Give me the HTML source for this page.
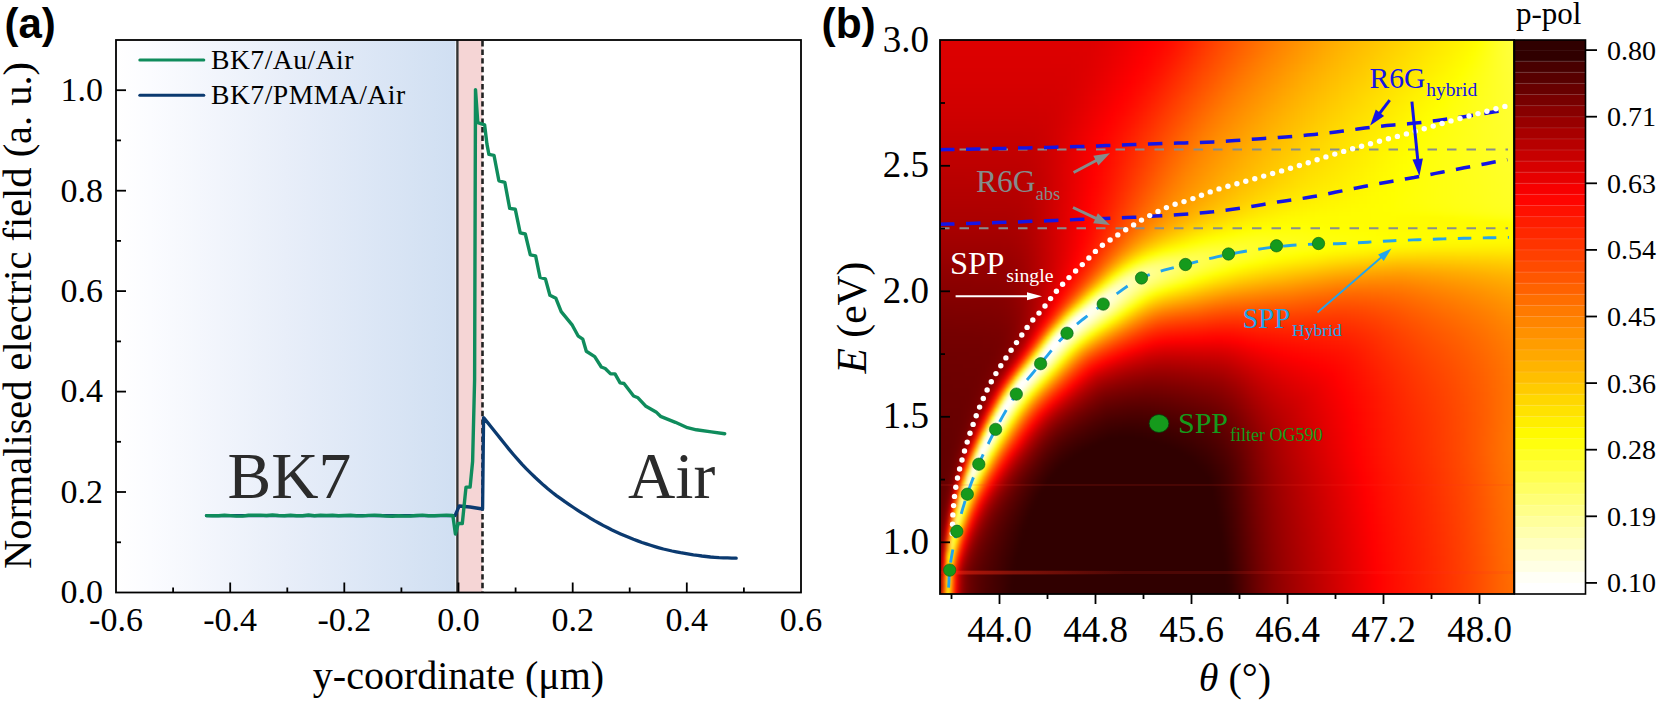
<!DOCTYPE html>
<html lang="en"><head><meta charset="utf-8"><title>Figure</title>
<style>
html,body{margin:0;padding:0;background:#fff}
body{width:1659px;height:703px;position:relative;overflow:hidden;font-family:"Liberation Serif", "DejaVu Serif", serif}
#hmc{position:absolute;left:940px;top:40px;width:574px;height:554px;overflow:hidden;background:#c00000}
#hm{position:absolute;left:-8px;top:-8px;width:590px;height:570px;filter:blur(1.7px)}
#hm i{position:absolute;left:0;width:100%;height:5px;display:block}
svg{position:absolute;left:0;top:0}
text{font-family:"Liberation Serif", "DejaVu Serif", serif}
.bold{font-family:"Liberation Sans", "DejaVu Sans", sans-serif;font-weight:700}
</style></head><body>
<div id="hmc"><div id="hm">
<i style="top:0px;background:linear-gradient(90deg,#de0000,#de0000,#de0000,#de0000,#de0000,#de0000,#de0000,#de0000,#de0000,#de0000,#de0000,#de0000,#de0000,#de0000,#de0000,#de0000,#de0000,#de0000,#de0000,#de0000,#de0000,#de0000,#de0000,#de0000,#de0000,#de0000,#de0000,#de0000,#de0000,#de0000,#de0000,#de0000,#de0000,#de0000,#de0000,#de0000,#de0000,#de0000,#de0000,#df0000,#df0000,#e00000,#e10000,#e20000,#e40000,#e60000,#e80000,#ea0000,#ed0000,#ef0000,#f20000,#f40000,#f70000,#f90000,#fc0000,#ff0000,#ff0200,#ff0400,#ff0700,#ff0a00,#ff0e00,#ff1200,#ff1600,#ff1b00,#ff2000,#ff2500,#ff2a00,#ff2f00,#ff3400,#ff3900,#ff3e00,#ff4200,#ff4700,#ff4b00,#ff4f00,#ff5300,#ff5700,#ff5b00,#ff5f00,#ff6300,#ff6700,#ff6b00,#ff6f00,#ff7300,#ff7700,#ff7b00,#ff7e00,#ff8200,#ff8500,#ff8900,#ff8c00,#ff8f00,#ff9200,#ff9500,#ff9800,#ff9b00,#ff9e00,#ffa100,#ffa400,#ffa700,#ffaa00,#ffad00,#ffb000,#ffb200,#ffb500,#ffb700,#ffba00,#ffbc00,#ffbe00,#ffc100,#ffc300,#ffc500,#ffc700,#ffca00,#ffcc00,#ffce00,#ffd000,#ffd300,#ffd500,#ffd700,#ffd900,#ffdb00,#ffde00,#ffe000,#ffe200,#ffe400,#ffe600,#ffe800,#ffea00,#ffec00,#ffef00,#fff100,#fff300,#fff500,#fff800,#fffa00,#fffe00,#ffff05,#ffff0e,#ffff17,#ffff20,#ffff28,#ffff2f,#ffff35,#ffff39,#ffff3c,#ffff3f,#ffff40)"></i>
<i style="top:4px;background:linear-gradient(90deg,#de0000,#de0000,#de0000,#de0000,#de0000,#de0000,#de0000,#de0000,#de0000,#de0000,#de0000,#de0000,#de0000,#de0000,#de0000,#de0000,#de0000,#de0000,#de0000,#de0000,#de0000,#de0000,#de0000,#de0000,#de0000,#de0000,#de0000,#de0000,#de0000,#de0000,#de0000,#de0000,#de0000,#de0000,#de0000,#de0000,#de0000,#de0000,#de0000,#df0000,#df0000,#e00000,#e10000,#e30000,#e40000,#e60000,#e90000,#eb0000,#ed0000,#f00000,#f20000,#f50000,#f70000,#fa0000,#fd0000,#ff0000,#ff0300,#ff0500,#ff0800,#ff0b00,#ff0f00,#ff1300,#ff1700,#ff1c00,#ff2100,#ff2600,#ff2b00,#ff3000,#ff3500,#ff3a00,#ff3f00,#ff4300,#ff4800,#ff4c00,#ff5000,#ff5400,#ff5800,#ff5c00,#ff6000,#ff6500,#ff6900,#ff6c00,#ff7000,#ff7400,#ff7800,#ff7c00,#ff7f00,#ff8300,#ff8600,#ff8900,#ff8d00,#ff9000,#ff9300,#ff9600,#ff9900,#ff9c00,#ff9f00,#ffa200,#ffa500,#ffa800,#ffab00,#ffae00,#ffb100,#ffb300,#ffb600,#ffb800,#ffba00,#ffbd00,#ffbf00,#ffc100,#ffc400,#ffc600,#ffc800,#ffca00,#ffcd00,#ffcf00,#ffd100,#ffd300,#ffd600,#ffd800,#ffda00,#ffdc00,#ffde00,#ffe000,#ffe200,#ffe500,#ffe700,#ffe900,#ffeb00,#ffed00,#ffef00,#fff100,#fff300,#fff600,#fff800,#fffb00,#fffe00,#ffff07,#ffff0f,#ffff18,#ffff20,#ffff28,#ffff2f,#ffff35,#ffff39,#ffff3c,#ffff3e,#ffff40)"></i>
<i style="top:8px;background:linear-gradient(90deg,#dd0000,#dd0000,#dd0000,#dd0000,#dd0000,#dd0000,#dd0000,#dd0000,#dd0000,#dd0000,#dd0000,#dd0000,#dd0000,#dd0000,#dd0000,#dd0000,#dd0000,#dd0000,#dd0000,#dd0000,#dd0000,#dd0000,#dd0000,#dd0000,#dd0000,#dd0000,#dd0000,#dd0000,#dd0000,#dd0000,#dd0000,#dd0000,#dd0000,#dd0000,#dd0000,#de0000,#de0000,#de0000,#de0000,#de0000,#df0000,#e00000,#e10000,#e30000,#e50000,#e70000,#e90000,#eb0000,#ee0000,#f00000,#f30000,#f50000,#f80000,#fb0000,#fd0000,#ff0100,#ff0300,#ff0600,#ff0900,#ff0c00,#ff1000,#ff1400,#ff1800,#ff1d00,#ff2200,#ff2700,#ff2c00,#ff3200,#ff3700,#ff3b00,#ff4000,#ff4500,#ff4900,#ff4d00,#ff5200,#ff5600,#ff5a00,#ff5e00,#ff6200,#ff6600,#ff6a00,#ff6e00,#ff7200,#ff7600,#ff7a00,#ff7d00,#ff8100,#ff8400,#ff8800,#ff8b00,#ff8e00,#ff9100,#ff9400,#ff9700,#ff9a00,#ff9d00,#ffa100,#ffa400,#ffa700,#ffa900,#ffac00,#ffaf00,#ffb200,#ffb400,#ffb700,#ffb900,#ffbb00,#ffbe00,#ffc000,#ffc200,#ffc400,#ffc700,#ffc900,#ffcb00,#ffce00,#ffd000,#ffd200,#ffd400,#ffd600,#ffd900,#ffdb00,#ffdd00,#ffdf00,#ffe100,#ffe300,#ffe500,#ffe800,#ffea00,#ffec00,#ffee00,#fff000,#fff200,#fff400,#fff700,#fff900,#fffc00,#ffff00,#ffff08,#ffff10,#ffff19,#ffff21,#ffff28,#ffff2f,#ffff35,#ffff39,#ffff3c,#ffff3e,#ffff3f)"></i>
<i style="top:12px;background:linear-gradient(90deg,#dd0000,#dd0000,#dd0000,#dd0000,#dd0000,#dd0000,#dd0000,#dd0000,#dd0000,#dd0000,#dd0000,#dd0000,#dd0000,#dd0000,#dd0000,#dd0000,#dd0000,#dd0000,#dd0000,#dd0000,#dd0000,#dd0000,#dd0000,#dd0000,#dd0000,#dd0000,#dd0000,#dd0000,#dd0000,#dd0000,#dd0000,#dd0000,#dd0000,#dd0000,#dd0000,#dd0000,#dd0000,#dd0000,#de0000,#de0000,#df0000,#e00000,#e20000,#e30000,#e50000,#e70000,#ea0000,#ec0000,#ef0000,#f10000,#f40000,#f60000,#f90000,#fc0000,#ff0000,#ff0200,#ff0400,#ff0700,#ff0a00,#ff0e00,#ff1100,#ff1600,#ff1a00,#ff1f00,#ff2400,#ff2900,#ff2e00,#ff3300,#ff3800,#ff3d00,#ff4200,#ff4600,#ff4b00,#ff4f00,#ff5300,#ff5700,#ff5c00,#ff6000,#ff6400,#ff6800,#ff6c00,#ff7000,#ff7400,#ff7800,#ff7b00,#ff7f00,#ff8200,#ff8600,#ff8900,#ff8c00,#ff9000,#ff9300,#ff9600,#ff9900,#ff9c00,#ff9f00,#ffa200,#ffa500,#ffa800,#ffab00,#ffae00,#ffb000,#ffb300,#ffb500,#ffb800,#ffba00,#ffbd00,#ffbf00,#ffc100,#ffc300,#ffc600,#ffc800,#ffca00,#ffcc00,#ffcf00,#ffd100,#ffd300,#ffd500,#ffd800,#ffda00,#ffdc00,#ffde00,#ffe000,#ffe200,#ffe400,#ffe600,#ffe900,#ffeb00,#ffed00,#ffef00,#fff100,#fff300,#fff500,#fff800,#fffa00,#fffd00,#ffff02,#ffff0a,#ffff12,#ffff1a,#ffff21,#ffff29,#ffff2f,#ffff34,#ffff39,#ffff3c,#ffff3e,#ffff3f)"></i>
<i style="top:16px;background:linear-gradient(90deg,#dc0000,#dc0000,#dc0000,#dc0000,#dc0000,#dc0000,#dc0000,#dc0000,#dc0000,#dc0000,#dc0000,#dc0000,#dc0000,#dc0000,#dc0000,#dc0000,#dc0000,#dc0000,#dc0000,#dc0000,#dc0000,#dc0000,#dc0000,#dc0000,#dc0000,#dc0000,#dc0000,#dc0000,#dc0000,#dc0000,#dc0000,#dc0000,#dc0000,#dc0000,#dd0000,#dd0000,#dd0000,#dd0000,#de0000,#de0000,#df0000,#e00000,#e20000,#e40000,#e60000,#e80000,#ea0000,#ed0000,#ef0000,#f20000,#f50000,#f70000,#fa0000,#fd0000,#ff0100,#ff0300,#ff0600,#ff0800,#ff0c00,#ff0f00,#ff1300,#ff1800,#ff1d00,#ff2100,#ff2700,#ff2c00,#ff3100,#ff3600,#ff3b00,#ff3f00,#ff4400,#ff4900,#ff4d00,#ff5100,#ff5500,#ff5a00,#ff5e00,#ff6200,#ff6600,#ff6a00,#ff6e00,#ff7200,#ff7600,#ff7a00,#ff7d00,#ff8100,#ff8400,#ff8800,#ff8b00,#ff8e00,#ff9100,#ff9500,#ff9800,#ff9b00,#ff9e00,#ffa100,#ffa400,#ffa700,#ffaa00,#ffad00,#ffaf00,#ffb200,#ffb400,#ffb700,#ffb900,#ffbc00,#ffbe00,#ffc000,#ffc300,#ffc500,#ffc700,#ffc900,#ffcc00,#ffce00,#ffd000,#ffd200,#ffd500,#ffd700,#ffd900,#ffdb00,#ffdd00,#ffdf00,#ffe100,#ffe400,#ffe600,#ffe800,#ffea00,#ffec00,#ffee00,#fff000,#fff200,#fff400,#fff700,#fff900,#fffb00,#fffe00,#ffff05,#ffff0c,#ffff14,#ffff1b,#ffff22,#ffff29,#ffff2f,#ffff34,#ffff38,#ffff3b,#ffff3d,#ffff3f)"></i>
<i style="top:20px;background:linear-gradient(90deg,#dc0000,#dc0000,#dc0000,#dc0000,#dc0000,#dc0000,#dc0000,#dc0000,#dc0000,#dc0000,#dc0000,#dc0000,#dc0000,#dc0000,#dc0000,#dc0000,#dc0000,#dc0000,#dc0000,#dc0000,#dc0000,#dc0000,#dc0000,#dc0000,#dc0000,#dc0000,#dc0000,#dc0000,#dc0000,#dc0000,#dc0000,#dc0000,#dc0000,#dc0000,#dc0000,#dc0000,#dc0000,#dd0000,#dd0000,#de0000,#df0000,#e10000,#e20000,#e40000,#e60000,#e90000,#eb0000,#ee0000,#f00000,#f30000,#f60000,#f90000,#fb0000,#fe0000,#ff0200,#ff0400,#ff0700,#ff0a00,#ff0e00,#ff1100,#ff1600,#ff1a00,#ff1f00,#ff2400,#ff2900,#ff2e00,#ff3300,#ff3800,#ff3d00,#ff4200,#ff4600,#ff4b00,#ff4f00,#ff5400,#ff5800,#ff5c00,#ff6000,#ff6400,#ff6800,#ff6c00,#ff7000,#ff7400,#ff7800,#ff7c00,#ff8000,#ff8300,#ff8700,#ff8a00,#ff8d00,#ff9000,#ff9400,#ff9700,#ff9a00,#ff9d00,#ffa000,#ffa300,#ffa600,#ffa900,#ffac00,#ffae00,#ffb100,#ffb400,#ffb600,#ffb900,#ffbb00,#ffbd00,#ffc000,#ffc200,#ffc400,#ffc600,#ffc900,#ffcb00,#ffcd00,#ffd000,#ffd200,#ffd400,#ffd600,#ffd800,#ffda00,#ffdd00,#ffdf00,#ffe100,#ffe300,#ffe500,#ffe700,#ffe900,#ffeb00,#ffed00,#ffef00,#fff100,#fff400,#fff600,#fff800,#fffa00,#fffd00,#ffff01,#ffff08,#ffff0f,#ffff15,#ffff1c,#ffff23,#ffff29,#ffff2f,#ffff34,#ffff38,#ffff3b,#ffff3d,#ffff3e)"></i>
<i style="top:24px;background:linear-gradient(90deg,#db0000,#db0000,#db0000,#db0000,#db0000,#db0000,#db0000,#db0000,#db0000,#db0000,#db0000,#db0000,#db0000,#db0000,#db0000,#db0000,#db0000,#db0000,#db0000,#db0000,#db0000,#db0000,#db0000,#db0000,#db0000,#db0000,#db0000,#db0000,#db0000,#db0000,#db0000,#db0000,#db0000,#db0000,#db0000,#dc0000,#dc0000,#dc0000,#dd0000,#de0000,#df0000,#e10000,#e30000,#e50000,#e70000,#ea0000,#ec0000,#ef0000,#f20000,#f40000,#f70000,#fa0000,#fd0000,#ff0100,#ff0300,#ff0600,#ff0900,#ff0c00,#ff1000,#ff1400,#ff1800,#ff1d00,#ff2200,#ff2700,#ff2c00,#ff3100,#ff3600,#ff3b00,#ff4000,#ff4400,#ff4900,#ff4d00,#ff5200,#ff5600,#ff5a00,#ff5f00,#ff6300,#ff6700,#ff6b00,#ff6f00,#ff7300,#ff7700,#ff7b00,#ff7f00,#ff8200,#ff8600,#ff8900,#ff8c00,#ff8f00,#ff9300,#ff9600,#ff9900,#ff9c00,#ff9f00,#ffa200,#ffa500,#ffa800,#ffab00,#ffae00,#ffb000,#ffb300,#ffb500,#ffb800,#ffba00,#ffbd00,#ffbf00,#ffc100,#ffc400,#ffc600,#ffc800,#ffca00,#ffcd00,#ffcf00,#ffd100,#ffd300,#ffd600,#ffd800,#ffda00,#ffdc00,#ffde00,#ffe000,#ffe200,#ffe400,#ffe700,#ffe900,#ffeb00,#ffed00,#ffef00,#fff100,#fff300,#fff500,#fff700,#fff900,#fffc00,#fffe00,#ffff04,#ffff0b,#ffff11,#ffff17,#ffff1d,#ffff23,#ffff29,#ffff2f,#ffff33,#ffff37,#ffff3a,#ffff3c,#ffff3e)"></i>
<i style="top:28px;background:linear-gradient(90deg,#da0000,#da0000,#da0000,#da0000,#da0000,#da0000,#da0000,#da0000,#da0000,#da0000,#da0000,#da0000,#da0000,#da0000,#da0000,#da0000,#da0000,#da0000,#da0000,#da0000,#da0000,#da0000,#da0000,#da0000,#da0000,#da0000,#da0000,#da0000,#da0000,#da0000,#db0000,#db0000,#db0000,#db0000,#db0000,#db0000,#dc0000,#dc0000,#dd0000,#de0000,#e00000,#e20000,#e40000,#e60000,#e80000,#eb0000,#ed0000,#f00000,#f30000,#f60000,#f80000,#fb0000,#fe0000,#ff0200,#ff0400,#ff0700,#ff0b00,#ff0e00,#ff1200,#ff1600,#ff1b00,#ff2000,#ff2500,#ff2a00,#ff2f00,#ff3400,#ff3900,#ff3e00,#ff4300,#ff4700,#ff4c00,#ff5000,#ff5500,#ff5900,#ff5d00,#ff6100,#ff6600,#ff6a00,#ff6e00,#ff7200,#ff7600,#ff7a00,#ff7e00,#ff8100,#ff8500,#ff8800,#ff8b00,#ff8f00,#ff9200,#ff9500,#ff9800,#ff9b00,#ff9e00,#ffa100,#ffa400,#ffa700,#ffaa00,#ffad00,#ffb000,#ffb200,#ffb500,#ffb700,#ffba00,#ffbc00,#ffbf00,#ffc100,#ffc300,#ffc500,#ffc800,#ffca00,#ffcc00,#ffcf00,#ffd100,#ffd300,#ffd500,#ffd700,#ffda00,#ffdc00,#ffde00,#ffe000,#ffe200,#ffe400,#ffe600,#ffe800,#ffea00,#ffec00,#ffee00,#fff000,#fff200,#fff400,#fff700,#fff900,#fffb00,#fffd00,#ffff01,#ffff07,#ffff0d,#ffff13,#ffff19,#ffff1e,#ffff24,#ffff29,#ffff2e,#ffff33,#ffff36,#ffff39,#ffff3c,#ffff3d)"></i>
<i style="top:32px;background:linear-gradient(90deg,#da0000,#da0000,#da0000,#da0000,#da0000,#da0000,#da0000,#da0000,#da0000,#da0000,#da0000,#da0000,#da0000,#da0000,#da0000,#da0000,#da0000,#da0000,#da0000,#da0000,#da0000,#da0000,#da0000,#da0000,#da0000,#da0000,#da0000,#da0000,#da0000,#da0000,#da0000,#da0000,#da0000,#da0000,#da0000,#db0000,#db0000,#dc0000,#dd0000,#de0000,#e00000,#e20000,#e40000,#e70000,#e90000,#ec0000,#ef0000,#f10000,#f40000,#f70000,#fa0000,#fd0000,#ff0100,#ff0300,#ff0600,#ff0900,#ff0d00,#ff1000,#ff1500,#ff1900,#ff1e00,#ff2300,#ff2800,#ff2d00,#ff3200,#ff3700,#ff3c00,#ff4100,#ff4500,#ff4a00,#ff4f00,#ff5300,#ff5700,#ff5c00,#ff6000,#ff6400,#ff6900,#ff6d00,#ff7100,#ff7500,#ff7900,#ff7d00,#ff8000,#ff8400,#ff8700,#ff8b00,#ff8e00,#ff9100,#ff9400,#ff9800,#ff9b00,#ff9e00,#ffa100,#ffa400,#ffa700,#ffaa00,#ffad00,#ffaf00,#ffb200,#ffb400,#ffb700,#ffb900,#ffbc00,#ffbe00,#ffc000,#ffc300,#ffc500,#ffc700,#ffca00,#ffcc00,#ffce00,#ffd000,#ffd300,#ffd500,#ffd700,#ffd900,#ffdb00,#ffdd00,#ffdf00,#ffe200,#ffe400,#ffe600,#ffe800,#ffea00,#ffec00,#ffee00,#fff000,#fff200,#fff400,#fff600,#fff800,#fffa00,#fffc00,#ffff00,#ffff05,#ffff0a,#ffff0f,#ffff15,#ffff1a,#ffff1f,#ffff24,#ffff29,#ffff2e,#ffff32,#ffff36,#ffff39,#ffff3b,#ffff3d)"></i>
<i style="top:36px;background:linear-gradient(90deg,#d90000,#d90000,#d90000,#d90000,#d90000,#d90000,#d90000,#d90000,#d90000,#d90000,#d90000,#d90000,#d90000,#d90000,#d90000,#d90000,#d90000,#d90000,#d90000,#d90000,#d90000,#d90000,#d90000,#d90000,#d90000,#d90000,#d90000,#d90000,#d90000,#d90000,#d90000,#d90000,#d90000,#d90000,#da0000,#da0000,#db0000,#dc0000,#dd0000,#df0000,#e10000,#e30000,#e50000,#e80000,#ea0000,#ed0000,#f00000,#f30000,#f60000,#f80000,#fb0000,#ff0000,#ff0200,#ff0500,#ff0800,#ff0b00,#ff0f00,#ff1300,#ff1700,#ff1c00,#ff2100,#ff2600,#ff2b00,#ff3000,#ff3500,#ff3a00,#ff3f00,#ff4400,#ff4800,#ff4d00,#ff5100,#ff5600,#ff5a00,#ff5f00,#ff6300,#ff6700,#ff6c00,#ff7000,#ff7400,#ff7800,#ff7c00,#ff7f00,#ff8300,#ff8700,#ff8a00,#ff8d00,#ff9100,#ff9400,#ff9700,#ff9a00,#ff9d00,#ffa000,#ffa300,#ffa600,#ffa900,#ffac00,#ffaf00,#ffb100,#ffb400,#ffb700,#ffb900,#ffbb00,#ffbe00,#ffc000,#ffc200,#ffc500,#ffc700,#ffc900,#ffcc00,#ffce00,#ffd000,#ffd200,#ffd500,#ffd700,#ffd900,#ffdb00,#ffdd00,#ffdf00,#ffe100,#ffe300,#ffe500,#ffe700,#ffe900,#ffeb00,#ffed00,#ffef00,#fff100,#fff300,#fff500,#fff800,#fffa00,#fffc00,#fffe00,#ffff02,#ffff08,#ffff0d,#ffff12,#ffff16,#ffff1b,#ffff20,#ffff25,#ffff29,#ffff2e,#ffff32,#ffff35,#ffff38,#ffff3a,#ffff3c)"></i>
<i style="top:40px;background:linear-gradient(90deg,#d80000,#d80000,#d80000,#d80000,#d80000,#d80000,#d80000,#d80000,#d80000,#d80000,#d80000,#d80000,#d80000,#d80000,#d80000,#d80000,#d80000,#d80000,#d80000,#d80000,#d80000,#d80000,#d80000,#d80000,#d80000,#d80000,#d80000,#d80000,#d80000,#d80000,#d80000,#d90000,#d90000,#d90000,#d90000,#da0000,#db0000,#dc0000,#de0000,#df0000,#e10000,#e40000,#e60000,#e90000,#ec0000,#ee0000,#f10000,#f40000,#f70000,#fa0000,#fd0000,#ff0100,#ff0400,#ff0700,#ff0a00,#ff0d00,#ff1100,#ff1500,#ff1a00,#ff1f00,#ff2400,#ff2900,#ff2e00,#ff3300,#ff3800,#ff3d00,#ff4200,#ff4700,#ff4b00,#ff5000,#ff5400,#ff5900,#ff5d00,#ff6200,#ff6600,#ff6a00,#ff6f00,#ff7300,#ff7700,#ff7b00,#ff7f00,#ff8200,#ff8600,#ff8900,#ff8d00,#ff9000,#ff9300,#ff9600,#ff9900,#ff9d00,#ffa000,#ffa300,#ffa600,#ffa900,#ffac00,#ffae00,#ffb100,#ffb400,#ffb600,#ffb900,#ffbb00,#ffbd00,#ffc000,#ffc200,#ffc400,#ffc700,#ffc900,#ffcb00,#ffcd00,#ffd000,#ffd200,#ffd400,#ffd600,#ffd800,#ffdb00,#ffdd00,#ffdf00,#ffe100,#ffe300,#ffe500,#ffe700,#ffe900,#ffeb00,#ffed00,#ffef00,#fff100,#fff300,#fff500,#fff700,#fff900,#fffb00,#fffd00,#ffff00,#ffff06,#ffff0a,#ffff0f,#ffff13,#ffff18,#ffff1c,#ffff21,#ffff25,#ffff29,#ffff2d,#ffff31,#ffff34,#ffff37,#ffff39,#ffff3b)"></i>
<i style="top:44px;background:linear-gradient(90deg,#d80000,#d80000,#d80000,#d80000,#d80000,#d80000,#d80000,#d80000,#d80000,#d80000,#d80000,#d80000,#d80000,#d80000,#d80000,#d80000,#d80000,#d80000,#d80000,#d80000,#d80000,#d80000,#d80000,#d80000,#d80000,#d80000,#d80000,#d80000,#d80000,#d80000,#d80000,#d80000,#d80000,#d80000,#d90000,#da0000,#db0000,#dc0000,#de0000,#e00000,#e20000,#e50000,#e70000,#ea0000,#ed0000,#f00000,#f30000,#f60000,#f90000,#fc0000,#ff0000,#ff0300,#ff0500,#ff0800,#ff0c00,#ff1000,#ff1400,#ff1800,#ff1d00,#ff2200,#ff2700,#ff2c00,#ff3100,#ff3600,#ff3b00,#ff4000,#ff4500,#ff4a00,#ff4e00,#ff5300,#ff5700,#ff5c00,#ff6000,#ff6500,#ff6900,#ff6e00,#ff7200,#ff7600,#ff7a00,#ff7e00,#ff8100,#ff8500,#ff8900,#ff8c00,#ff8f00,#ff9200,#ff9600,#ff9900,#ff9c00,#ff9f00,#ffa200,#ffa500,#ffa800,#ffab00,#ffae00,#ffb100,#ffb300,#ffb600,#ffb800,#ffbb00,#ffbd00,#ffbf00,#ffc200,#ffc400,#ffc600,#ffc900,#ffcb00,#ffcd00,#ffcf00,#ffd200,#ffd400,#ffd600,#ffd800,#ffda00,#ffdc00,#ffde00,#ffe000,#ffe300,#ffe500,#ffe700,#ffe900,#ffeb00,#ffed00,#ffef00,#fff100,#fff300,#fff500,#fff700,#fff900,#fffa00,#fffc00,#fffe00,#ffff04,#ffff08,#ffff0d,#ffff11,#ffff15,#ffff19,#ffff1d,#ffff21,#ffff25,#ffff29,#ffff2d,#ffff31,#ffff34,#ffff36,#ffff39,#ffff3a)"></i>
<i style="top:48px;background:linear-gradient(90deg,#d70000,#d70000,#d70000,#d70000,#d70000,#d70000,#d70000,#d70000,#d70000,#d70000,#d70000,#d70000,#d70000,#d70000,#d70000,#d70000,#d70000,#d70000,#d70000,#d70000,#d70000,#d70000,#d70000,#d70000,#d70000,#d70000,#d70000,#d70000,#d70000,#d70000,#d70000,#d70000,#d80000,#d80000,#d90000,#da0000,#db0000,#dd0000,#df0000,#e10000,#e30000,#e60000,#e90000,#eb0000,#ee0000,#f10000,#f40000,#f70000,#fa0000,#fd0000,#ff0100,#ff0400,#ff0700,#ff0a00,#ff0e00,#ff1200,#ff1600,#ff1b00,#ff2000,#ff2500,#ff2a00,#ff2f00,#ff3400,#ff3900,#ff3e00,#ff4300,#ff4800,#ff4d00,#ff5100,#ff5600,#ff5a00,#ff5f00,#ff6400,#ff6800,#ff6c00,#ff7100,#ff7500,#ff7900,#ff7d00,#ff8100,#ff8400,#ff8800,#ff8b00,#ff8f00,#ff9200,#ff9500,#ff9800,#ff9b00,#ff9f00,#ffa200,#ffa500,#ffa800,#ffab00,#ffad00,#ffb000,#ffb300,#ffb500,#ffb800,#ffba00,#ffbd00,#ffbf00,#ffc100,#ffc400,#ffc600,#ffc800,#ffcb00,#ffcd00,#ffcf00,#ffd100,#ffd400,#ffd600,#ffd800,#ffda00,#ffdc00,#ffde00,#ffe000,#ffe200,#ffe400,#ffe600,#ffe800,#ffea00,#ffec00,#ffee00,#fff000,#fff200,#fff400,#fff600,#fff800,#fffa00,#fffc00,#fffe00,#ffff02,#ffff06,#ffff0b,#ffff0f,#ffff13,#ffff17,#ffff1a,#ffff1e,#ffff22,#ffff26,#ffff29,#ffff2d,#ffff30,#ffff33,#ffff36,#ffff38,#ffff3a)"></i>
<i style="top:52px;background:linear-gradient(90deg,#d60000,#d60000,#d60000,#d60000,#d60000,#d60000,#d60000,#d60000,#d60000,#d60000,#d60000,#d60000,#d60000,#d60000,#d60000,#d60000,#d60000,#d60000,#d60000,#d60000,#d60000,#d60000,#d60000,#d60000,#d60000,#d60000,#d60000,#d60000,#d60000,#d60000,#d60000,#d70000,#d70000,#d80000,#d90000,#da0000,#db0000,#dd0000,#df0000,#e20000,#e40000,#e70000,#ea0000,#ed0000,#f00000,#f30000,#f60000,#f90000,#fc0000,#ff0000,#ff0300,#ff0600,#ff0900,#ff0d00,#ff1000,#ff1500,#ff1900,#ff1e00,#ff2300,#ff2800,#ff2d00,#ff3200,#ff3700,#ff3c00,#ff4100,#ff4600,#ff4b00,#ff5000,#ff5400,#ff5900,#ff5e00,#ff6200,#ff6700,#ff6b00,#ff6f00,#ff7400,#ff7800,#ff7c00,#ff8000,#ff8300,#ff8700,#ff8b00,#ff8e00,#ff9100,#ff9400,#ff9800,#ff9b00,#ff9e00,#ffa100,#ffa400,#ffa700,#ffaa00,#ffad00,#ffb000,#ffb200,#ffb500,#ffb700,#ffba00,#ffbc00,#ffbf00,#ffc100,#ffc300,#ffc600,#ffc800,#ffca00,#ffcd00,#ffcf00,#ffd100,#ffd300,#ffd500,#ffd800,#ffda00,#ffdc00,#ffde00,#ffe000,#ffe200,#ffe400,#ffe600,#ffe800,#ffea00,#ffec00,#ffee00,#fff000,#fff200,#fff400,#fff600,#fff800,#fff900,#fffb00,#fffd00,#ffff00,#ffff05,#ffff09,#ffff0d,#ffff11,#ffff14,#ffff18,#ffff1b,#ffff1f,#ffff22,#ffff26,#ffff29,#ffff2c,#ffff30,#ffff32,#ffff35,#ffff37,#ffff39)"></i>
<i style="top:56px;background:linear-gradient(90deg,#d50000,#d50000,#d50000,#d50000,#d50000,#d50000,#d50000,#d50000,#d50000,#d50000,#d50000,#d50000,#d50000,#d50000,#d50000,#d50000,#d50000,#d50000,#d50000,#d50000,#d50000,#d50000,#d50000,#d50000,#d50000,#d50000,#d50000,#d50000,#d50000,#d50000,#d60000,#d60000,#d70000,#d70000,#d80000,#da0000,#dc0000,#de0000,#e00000,#e30000,#e50000,#e80000,#eb0000,#ee0000,#f10000,#f40000,#f70000,#fa0000,#fe0000,#ff0200,#ff0500,#ff0800,#ff0b00,#ff0f00,#ff1300,#ff1700,#ff1c00,#ff2100,#ff2600,#ff2b00,#ff3000,#ff3500,#ff3a00,#ff3f00,#ff4400,#ff4900,#ff4e00,#ff5300,#ff5700,#ff5c00,#ff6100,#ff6500,#ff6a00,#ff6e00,#ff7300,#ff7700,#ff7b00,#ff7f00,#ff8300,#ff8600,#ff8a00,#ff8d00,#ff9100,#ff9400,#ff9700,#ff9a00,#ff9d00,#ffa100,#ffa400,#ffa700,#ffaa00,#ffac00,#ffaf00,#ffb200,#ffb400,#ffb700,#ffb900,#ffbc00,#ffbe00,#ffc100,#ffc300,#ffc500,#ffc800,#ffca00,#ffcc00,#ffce00,#ffd100,#ffd300,#ffd500,#ffd700,#ffd900,#ffdb00,#ffdd00,#ffe000,#ffe200,#ffe400,#ffe600,#ffe700,#ffe900,#ffeb00,#ffed00,#ffef00,#fff100,#fff300,#fff500,#fff700,#fff900,#fffb00,#fffd00,#fffe00,#ffff03,#ffff07,#ffff0b,#ffff0f,#ffff12,#ffff16,#ffff19,#ffff1c,#ffff20,#ffff23,#ffff26,#ffff29,#ffff2c,#ffff2f,#ffff32,#ffff34,#ffff36,#ffff38)"></i>
<i style="top:60px;background:linear-gradient(90deg,#d40000,#d40000,#d40000,#d40000,#d40000,#d40000,#d40000,#d40000,#d40000,#d40000,#d40000,#d40000,#d40000,#d40000,#d40000,#d40000,#d40000,#d40000,#d40000,#d40000,#d40000,#d40000,#d40000,#d40000,#d40000,#d40000,#d40000,#d40000,#d50000,#d50000,#d50000,#d50000,#d60000,#d70000,#d80000,#da0000,#dc0000,#de0000,#e10000,#e40000,#e60000,#e90000,#ec0000,#f00000,#f30000,#f60000,#f90000,#fc0000,#ff0100,#ff0300,#ff0600,#ff0a00,#ff0d00,#ff1100,#ff1600,#ff1a00,#ff1f00,#ff2400,#ff2900,#ff2e00,#ff3300,#ff3800,#ff3d00,#ff4200,#ff4700,#ff4c00,#ff5100,#ff5600,#ff5b00,#ff5f00,#ff6400,#ff6900,#ff6d00,#ff7200,#ff7600,#ff7a00,#ff7e00,#ff8200,#ff8600,#ff8900,#ff8d00,#ff9000,#ff9300,#ff9600,#ff9a00,#ff9d00,#ffa000,#ffa300,#ffa600,#ffa900,#ffac00,#ffaf00,#ffb100,#ffb400,#ffb700,#ffb900,#ffbc00,#ffbe00,#ffc000,#ffc300,#ffc500,#ffc700,#ffca00,#ffcc00,#ffce00,#ffd000,#ffd300,#ffd500,#ffd700,#ffd900,#ffdb00,#ffdd00,#ffdf00,#ffe100,#ffe300,#ffe500,#ffe700,#ffe900,#ffeb00,#ffed00,#ffef00,#fff100,#fff300,#fff500,#fff700,#fff900,#fffa00,#fffc00,#fffe00,#ffff02,#ffff06,#ffff09,#ffff0d,#ffff10,#ffff14,#ffff17,#ffff1a,#ffff1d,#ffff20,#ffff23,#ffff26,#ffff29,#ffff2c,#ffff2f,#ffff31,#ffff33,#ffff35,#ffff37)"></i>
<i style="top:64px;background:linear-gradient(90deg,#d30000,#d30000,#d30000,#d30000,#d30000,#d30000,#d30000,#d30000,#d30000,#d30000,#d30000,#d30000,#d30000,#d30000,#d30000,#d30000,#d30000,#d30000,#d30000,#d30000,#d30000,#d30000,#d30000,#d30000,#d30000,#d30000,#d30000,#d40000,#d40000,#d40000,#d40000,#d50000,#d60000,#d70000,#d90000,#da0000,#dd0000,#df0000,#e20000,#e50000,#e80000,#eb0000,#ee0000,#f10000,#f40000,#f70000,#fb0000,#fe0000,#ff0200,#ff0500,#ff0800,#ff0c00,#ff1000,#ff1400,#ff1800,#ff1d00,#ff2200,#ff2700,#ff2c00,#ff3100,#ff3600,#ff3b00,#ff4100,#ff4600,#ff4b00,#ff4f00,#ff5400,#ff5900,#ff5e00,#ff6300,#ff6700,#ff6c00,#ff7000,#ff7500,#ff7900,#ff7d00,#ff8100,#ff8500,#ff8800,#ff8c00,#ff8f00,#ff9300,#ff9600,#ff9900,#ff9c00,#ff9f00,#ffa200,#ffa600,#ffa900,#ffab00,#ffae00,#ffb100,#ffb400,#ffb600,#ffb900,#ffbb00,#ffbe00,#ffc000,#ffc200,#ffc500,#ffc700,#ffc900,#ffcc00,#ffce00,#ffd000,#ffd200,#ffd400,#ffd700,#ffd900,#ffdb00,#ffdd00,#ffdf00,#ffe100,#ffe300,#ffe500,#ffe700,#ffe900,#ffeb00,#ffed00,#ffef00,#fff100,#fff200,#fff400,#fff600,#fff800,#fffa00,#fffc00,#fffd00,#ffff00,#ffff04,#ffff08,#ffff0b,#ffff0f,#ffff12,#ffff15,#ffff18,#ffff1b,#ffff1e,#ffff21,#ffff23,#ffff26,#ffff29,#ffff2c,#ffff2e,#ffff31,#ffff33,#ffff35,#ffff36)"></i>
<i style="top:68px;background:linear-gradient(90deg,#d20000,#d20000,#d20000,#d20000,#d20000,#d20000,#d20000,#d20000,#d20000,#d20000,#d20000,#d20000,#d20000,#d20000,#d20000,#d20000,#d20000,#d20000,#d20000,#d20000,#d20000,#d20000,#d20000,#d20000,#d20000,#d20000,#d30000,#d30000,#d30000,#d30000,#d40000,#d40000,#d60000,#d70000,#d90000,#db0000,#dd0000,#e00000,#e30000,#e60000,#e90000,#ec0000,#ef0000,#f20000,#f60000,#f90000,#fd0000,#ff0100,#ff0400,#ff0700,#ff0a00,#ff0e00,#ff1200,#ff1700,#ff1b00,#ff2000,#ff2500,#ff2a00,#ff2f00,#ff3400,#ff3a00,#ff3f00,#ff4400,#ff4900,#ff4e00,#ff5300,#ff5800,#ff5c00,#ff6100,#ff6600,#ff6b00,#ff6f00,#ff7400,#ff7800,#ff7c00,#ff8000,#ff8400,#ff8800,#ff8b00,#ff8f00,#ff9200,#ff9500,#ff9800,#ff9c00,#ff9f00,#ffa200,#ffa500,#ffa800,#ffab00,#ffae00,#ffb100,#ffb300,#ffb600,#ffb800,#ffbb00,#ffbd00,#ffc000,#ffc200,#ffc400,#ffc700,#ffc900,#ffcb00,#ffce00,#ffd000,#ffd200,#ffd400,#ffd600,#ffd800,#ffdb00,#ffdd00,#ffdf00,#ffe100,#ffe300,#ffe500,#ffe600,#ffe800,#ffea00,#ffec00,#ffee00,#fff000,#fff200,#fff400,#fff600,#fff800,#fff900,#fffb00,#fffd00,#ffff00,#ffff03,#ffff07,#ffff0a,#ffff0d,#ffff10,#ffff13,#ffff16,#ffff19,#ffff1c,#ffff1e,#ffff21,#ffff24,#ffff26,#ffff29,#ffff2b,#ffff2e,#ffff30,#ffff32,#ffff34,#ffff35)"></i>
<i style="top:72px;background:linear-gradient(90deg,#d10000,#d10000,#d10000,#d10000,#d10000,#d10000,#d10000,#d10000,#d10000,#d10000,#d10000,#d10000,#d10000,#d10000,#d10000,#d10000,#d10000,#d10000,#d10000,#d10000,#d10000,#d10000,#d10000,#d10000,#d10000,#d10000,#d10000,#d20000,#d20000,#d20000,#d30000,#d40000,#d50000,#d70000,#d90000,#db0000,#de0000,#e10000,#e40000,#e70000,#ea0000,#ed0000,#f10000,#f40000,#f70000,#fb0000,#ff0000,#ff0200,#ff0600,#ff0900,#ff0c00,#ff1000,#ff1500,#ff1900,#ff1e00,#ff2300,#ff2800,#ff2d00,#ff3200,#ff3800,#ff3d00,#ff4200,#ff4700,#ff4c00,#ff5100,#ff5600,#ff5b00,#ff6000,#ff6500,#ff6900,#ff6e00,#ff7200,#ff7700,#ff7b00,#ff7f00,#ff8300,#ff8700,#ff8a00,#ff8e00,#ff9100,#ff9500,#ff9800,#ff9b00,#ff9e00,#ffa100,#ffa500,#ffa800,#ffaa00,#ffad00,#ffb000,#ffb300,#ffb500,#ffb800,#ffba00,#ffbd00,#ffbf00,#ffc200,#ffc400,#ffc600,#ffc900,#ffcb00,#ffcd00,#ffcf00,#ffd200,#ffd400,#ffd600,#ffd800,#ffda00,#ffdc00,#ffde00,#ffe000,#ffe200,#ffe400,#ffe600,#ffe800,#ffea00,#ffec00,#ffee00,#fff000,#fff200,#fff400,#fff500,#fff700,#fff900,#fffb00,#fffc00,#fffe00,#ffff02,#ffff05,#ffff09,#ffff0c,#ffff0f,#ffff11,#ffff14,#ffff17,#ffff1a,#ffff1c,#ffff1f,#ffff21,#ffff24,#ffff26,#ffff29,#ffff2b,#ffff2e,#ffff30,#ffff32,#ffff33,#ffff35)"></i>
<i style="top:76px;background:linear-gradient(90deg,#d00000,#d00000,#d00000,#d00000,#d00000,#d00000,#d00000,#d00000,#d00000,#d00000,#d00000,#d00000,#d00000,#d00000,#d00000,#d00000,#d00000,#d00000,#d00000,#d00000,#d00000,#d00000,#d00000,#d00000,#d00000,#d00000,#d00000,#d10000,#d10000,#d20000,#d20000,#d40000,#d50000,#d70000,#da0000,#dc0000,#df0000,#e20000,#e50000,#e80000,#ec0000,#ef0000,#f20000,#f60000,#f90000,#fd0000,#ff0100,#ff0400,#ff0700,#ff0b00,#ff0f00,#ff1300,#ff1700,#ff1c00,#ff2100,#ff2600,#ff2b00,#ff3000,#ff3600,#ff3b00,#ff4000,#ff4500,#ff4a00,#ff4f00,#ff5400,#ff5900,#ff5e00,#ff6300,#ff6800,#ff6d00,#ff7100,#ff7600,#ff7a00,#ff7e00,#ff8200,#ff8600,#ff8a00,#ff8d00,#ff9100,#ff9400,#ff9700,#ff9a00,#ff9e00,#ffa100,#ffa400,#ffa700,#ffaa00,#ffad00,#ffb000,#ffb200,#ffb500,#ffb800,#ffba00,#ffbd00,#ffbf00,#ffc100,#ffc400,#ffc600,#ffc800,#ffcb00,#ffcd00,#ffcf00,#ffd100,#ffd400,#ffd600,#ffd800,#ffda00,#ffdc00,#ffde00,#ffe000,#ffe200,#ffe400,#ffe600,#ffe800,#ffea00,#ffec00,#ffee00,#ffef00,#fff100,#fff300,#fff500,#fff700,#fff900,#fffa00,#fffc00,#fffe00,#ffff00,#ffff04,#ffff07,#ffff0a,#ffff0d,#ffff10,#ffff13,#ffff15,#ffff18,#ffff1a,#ffff1d,#ffff1f,#ffff22,#ffff24,#ffff26,#ffff29,#ffff2b,#ffff2d,#ffff2f,#ffff31,#ffff33,#ffff34)"></i>
<i style="top:80px;background:linear-gradient(90deg,#cf0000,#cf0000,#cf0000,#cf0000,#cf0000,#cf0000,#cf0000,#cf0000,#cf0000,#cf0000,#cf0000,#cf0000,#cf0000,#cf0000,#cf0000,#cf0000,#cf0000,#cf0000,#cf0000,#cf0000,#cf0000,#cf0000,#cf0000,#cf0000,#cf0000,#cf0000,#cf0000,#d00000,#d00000,#d10000,#d20000,#d30000,#d50000,#d80000,#da0000,#dd0000,#e00000,#e30000,#e60000,#ea0000,#ed0000,#f00000,#f40000,#f70000,#fb0000,#ff0000,#ff0300,#ff0600,#ff0900,#ff0d00,#ff1100,#ff1600,#ff1a00,#ff1f00,#ff2400,#ff2900,#ff2e00,#ff3300,#ff3900,#ff3e00,#ff4300,#ff4800,#ff4d00,#ff5200,#ff5800,#ff5d00,#ff6200,#ff6700,#ff6b00,#ff7000,#ff7500,#ff7900,#ff7d00,#ff8100,#ff8500,#ff8900,#ff8c00,#ff9000,#ff9300,#ff9700,#ff9a00,#ff9d00,#ffa000,#ffa300,#ffa700,#ffaa00,#ffac00,#ffaf00,#ffb200,#ffb500,#ffb700,#ffba00,#ffbc00,#ffbf00,#ffc100,#ffc300,#ffc600,#ffc800,#ffca00,#ffcd00,#ffcf00,#ffd100,#ffd300,#ffd600,#ffd800,#ffda00,#ffdc00,#ffde00,#ffe000,#ffe200,#ffe400,#ffe600,#ffe700,#ffe900,#ffeb00,#ffed00,#ffef00,#fff100,#fff300,#fff500,#fff600,#fff800,#fffa00,#fffc00,#fffd00,#ffff00,#ffff03,#ffff06,#ffff09,#ffff0c,#ffff0f,#ffff11,#ffff14,#ffff16,#ffff19,#ffff1b,#ffff1d,#ffff20,#ffff22,#ffff24,#ffff26,#ffff29,#ffff2b,#ffff2d,#ffff2f,#ffff31,#ffff32,#ffff33)"></i>
<i style="top:84px;background:linear-gradient(90deg,#ce0000,#ce0000,#ce0000,#ce0000,#ce0000,#ce0000,#ce0000,#ce0000,#ce0000,#ce0000,#ce0000,#ce0000,#ce0000,#ce0000,#ce0000,#ce0000,#ce0000,#ce0000,#ce0000,#ce0000,#ce0000,#ce0000,#ce0000,#ce0000,#ce0000,#ce0000,#ce0000,#cf0000,#cf0000,#d00000,#d20000,#d30000,#d50000,#d80000,#db0000,#de0000,#e10000,#e40000,#e80000,#eb0000,#ee0000,#f20000,#f60000,#f90000,#fd0000,#ff0100,#ff0500,#ff0800,#ff0c00,#ff1000,#ff1400,#ff1800,#ff1d00,#ff2200,#ff2700,#ff2c00,#ff3100,#ff3700,#ff3c00,#ff4100,#ff4600,#ff4c00,#ff5100,#ff5600,#ff5b00,#ff6000,#ff6500,#ff6a00,#ff6f00,#ff7300,#ff7800,#ff7c00,#ff8000,#ff8400,#ff8800,#ff8c00,#ff8f00,#ff9300,#ff9600,#ff9900,#ff9c00,#ffa000,#ffa300,#ffa600,#ffa900,#ffac00,#ffaf00,#ffb200,#ffb400,#ffb700,#ffb900,#ffbc00,#ffbe00,#ffc100,#ffc300,#ffc500,#ffc800,#ffca00,#ffcc00,#ffcf00,#ffd100,#ffd300,#ffd500,#ffd700,#ffd900,#ffdc00,#ffde00,#ffe000,#ffe100,#ffe300,#ffe500,#ffe700,#ffe900,#ffeb00,#ffed00,#ffef00,#fff100,#fff200,#fff400,#fff600,#fff800,#fffa00,#fffb00,#fffd00,#fffe00,#ffff02,#ffff05,#ffff08,#ffff0b,#ffff0d,#ffff10,#ffff12,#ffff15,#ffff17,#ffff19,#ffff1c,#ffff1e,#ffff20,#ffff22,#ffff24,#ffff27,#ffff29,#ffff2b,#ffff2d,#ffff2f,#ffff30,#ffff32,#ffff33)"></i>
<i style="top:88px;background:linear-gradient(90deg,#cc0000,#cc0000,#cc0000,#cc0000,#cc0000,#cc0000,#cc0000,#cc0000,#cc0000,#cc0000,#cc0000,#cc0000,#cc0000,#cc0000,#cc0000,#cc0000,#cc0000,#cc0000,#cc0000,#cc0000,#cc0000,#cc0000,#cc0000,#cc0000,#cd0000,#cd0000,#cd0000,#ce0000,#cf0000,#d00000,#d10000,#d30000,#d60000,#d80000,#db0000,#df0000,#e20000,#e50000,#e90000,#ec0000,#f00000,#f40000,#f70000,#fb0000,#ff0000,#ff0300,#ff0600,#ff0a00,#ff0e00,#ff1200,#ff1600,#ff1b00,#ff2000,#ff2500,#ff2a00,#ff2f00,#ff3500,#ff3a00,#ff3f00,#ff4400,#ff4a00,#ff4f00,#ff5400,#ff5900,#ff5e00,#ff6400,#ff6900,#ff6d00,#ff7200,#ff7700,#ff7b00,#ff7f00,#ff8300,#ff8700,#ff8b00,#ff8e00,#ff9200,#ff9500,#ff9900,#ff9c00,#ff9f00,#ffa200,#ffa500,#ffa900,#ffac00,#ffae00,#ffb100,#ffb400,#ffb700,#ffb900,#ffbc00,#ffbe00,#ffc000,#ffc300,#ffc500,#ffc700,#ffca00,#ffcc00,#ffce00,#ffd100,#ffd300,#ffd500,#ffd700,#ffd900,#ffdb00,#ffdd00,#ffdf00,#ffe100,#ffe300,#ffe500,#ffe700,#ffe900,#ffeb00,#ffec00,#ffee00,#fff000,#fff200,#fff400,#fff600,#fff700,#fff900,#fffb00,#fffc00,#fffe00,#ffff01,#ffff04,#ffff07,#ffff0a,#ffff0c,#ffff0f,#ffff11,#ffff13,#ffff16,#ffff18,#ffff1a,#ffff1c,#ffff1e,#ffff20,#ffff22,#ffff24,#ffff27,#ffff29,#ffff2b,#ffff2c,#ffff2e,#ffff30,#ffff31,#ffff32)"></i>
<i style="top:92px;background:linear-gradient(90deg,#cb0000,#cb0000,#cb0000,#cb0000,#cb0000,#cb0000,#cb0000,#cb0000,#cb0000,#cb0000,#cb0000,#cb0000,#cb0000,#cb0000,#cb0000,#cb0000,#cb0000,#cb0000,#cb0000,#cb0000,#cb0000,#cb0000,#cb0000,#cb0000,#cb0000,#cc0000,#cc0000,#cd0000,#ce0000,#cf0000,#d10000,#d30000,#d60000,#d90000,#dc0000,#e00000,#e30000,#e70000,#ea0000,#ee0000,#f10000,#f50000,#f90000,#fd0000,#ff0200,#ff0500,#ff0800,#ff0c00,#ff1000,#ff1400,#ff1900,#ff1e00,#ff2300,#ff2800,#ff2d00,#ff3200,#ff3800,#ff3d00,#ff4200,#ff4800,#ff4d00,#ff5200,#ff5700,#ff5d00,#ff6200,#ff6700,#ff6c00,#ff7100,#ff7600,#ff7a00,#ff7e00,#ff8200,#ff8600,#ff8a00,#ff8e00,#ff9100,#ff9500,#ff9800,#ff9b00,#ff9f00,#ffa200,#ffa500,#ffa800,#ffab00,#ffae00,#ffb100,#ffb300,#ffb600,#ffb900,#ffbb00,#ffbe00,#ffc000,#ffc200,#ffc500,#ffc700,#ffca00,#ffcc00,#ffce00,#ffd000,#ffd300,#ffd500,#ffd700,#ffd900,#ffdb00,#ffdd00,#ffdf00,#ffe100,#ffe300,#ffe500,#ffe700,#ffe800,#ffea00,#ffec00,#ffee00,#fff000,#fff200,#fff300,#fff500,#fff700,#fff900,#fffa00,#fffc00,#fffd00,#ffff00,#ffff03,#ffff06,#ffff09,#ffff0b,#ffff0e,#ffff10,#ffff12,#ffff14,#ffff16,#ffff18,#ffff1a,#ffff1c,#ffff1f,#ffff21,#ffff23,#ffff25,#ffff27,#ffff28,#ffff2a,#ffff2c,#ffff2e,#ffff2f,#ffff31,#ffff32)"></i>
<i style="top:96px;background:linear-gradient(90deg,#ca0000,#ca0000,#ca0000,#ca0000,#ca0000,#ca0000,#ca0000,#ca0000,#ca0000,#ca0000,#ca0000,#ca0000,#ca0000,#ca0000,#ca0000,#ca0000,#ca0000,#ca0000,#ca0000,#ca0000,#ca0000,#ca0000,#ca0000,#ca0000,#ca0000,#ca0000,#cb0000,#cc0000,#cd0000,#cf0000,#d10000,#d40000,#d70000,#da0000,#dd0000,#e10000,#e40000,#e80000,#ec0000,#ef0000,#f30000,#f70000,#fb0000,#ff0000,#ff0300,#ff0600,#ff0a00,#ff0e00,#ff1200,#ff1700,#ff1c00,#ff2100,#ff2600,#ff2b00,#ff3000,#ff3500,#ff3b00,#ff4000,#ff4500,#ff4b00,#ff5000,#ff5600,#ff5b00,#ff6000,#ff6500,#ff6a00,#ff6f00,#ff7400,#ff7900,#ff7d00,#ff8100,#ff8500,#ff8900,#ff8d00,#ff9000,#ff9400,#ff9700,#ff9b00,#ff9e00,#ffa100,#ffa400,#ffa700,#ffaa00,#ffad00,#ffb000,#ffb300,#ffb600,#ffb800,#ffbb00,#ffbd00,#ffc000,#ffc200,#ffc500,#ffc700,#ffc900,#ffcc00,#ffce00,#ffd000,#ffd200,#ffd500,#ffd700,#ffd900,#ffdb00,#ffdd00,#ffdf00,#ffe100,#ffe300,#ffe400,#ffe600,#ffe800,#ffea00,#ffec00,#ffee00,#ffef00,#fff100,#fff300,#fff500,#fff700,#fff800,#fffa00,#fffb00,#fffd00,#fffe00,#ffff02,#ffff05,#ffff08,#ffff0a,#ffff0c,#ffff0f,#ffff11,#ffff13,#ffff15,#ffff17,#ffff19,#ffff1b,#ffff1d,#ffff1f,#ffff21,#ffff23,#ffff25,#ffff26,#ffff28,#ffff2a,#ffff2c,#ffff2e,#ffff2f,#ffff30,#ffff31)"></i>
<i style="top:100px;background:linear-gradient(90deg,#c80000,#c80000,#c80000,#c80000,#c80000,#c80000,#c80000,#c80000,#c80000,#c80000,#c80000,#c80000,#c80000,#c80000,#c80000,#c80000,#c80000,#c80000,#c80000,#c80000,#c80000,#c80000,#c80000,#c90000,#c90000,#c90000,#ca0000,#cb0000,#cd0000,#cf0000,#d10000,#d40000,#d70000,#da0000,#de0000,#e20000,#e50000,#e90000,#ed0000,#f10000,#f40000,#f80000,#fc0000,#ff0100,#ff0500,#ff0800,#ff0c00,#ff1000,#ff1500,#ff1900,#ff1e00,#ff2300,#ff2900,#ff2e00,#ff3300,#ff3800,#ff3e00,#ff4300,#ff4900,#ff4e00,#ff5300,#ff5900,#ff5e00,#ff6400,#ff6900,#ff6e00,#ff7300,#ff7800,#ff7c00,#ff8000,#ff8400,#ff8800,#ff8c00,#ff9000,#ff9300,#ff9600,#ff9a00,#ff9d00,#ffa000,#ffa400,#ffa700,#ffaa00,#ffad00,#ffb000,#ffb300,#ffb500,#ffb800,#ffba00,#ffbd00,#ffbf00,#ffc200,#ffc400,#ffc700,#ffc900,#ffcb00,#ffce00,#ffd000,#ffd200,#ffd400,#ffd600,#ffd900,#ffdb00,#ffdd00,#ffde00,#ffe000,#ffe200,#ffe400,#ffe600,#ffe800,#ffea00,#ffeb00,#ffed00,#ffef00,#fff100,#fff300,#fff400,#fff600,#fff800,#fff900,#fffb00,#fffc00,#fffe00,#ffff01,#ffff04,#ffff06,#ffff09,#ffff0b,#ffff0d,#ffff0f,#ffff11,#ffff13,#ffff15,#ffff17,#ffff19,#ffff1b,#ffff1d,#ffff1f,#ffff21,#ffff23,#ffff24,#ffff26,#ffff28,#ffff2a,#ffff2c,#ffff2d,#ffff2f,#ffff30,#ffff31)"></i>
<i style="top:104px;background:linear-gradient(90deg,#c70000,#c70000,#c70000,#c70000,#c70000,#c70000,#c70000,#c70000,#c70000,#c70000,#c70000,#c70000,#c70000,#c70000,#c70000,#c70000,#c70000,#c70000,#c70000,#c70000,#c70000,#c70000,#c70000,#c70000,#c80000,#c80000,#c90000,#cb0000,#cc0000,#ce0000,#d10000,#d40000,#d70000,#db0000,#df0000,#e20000,#e60000,#ea0000,#ee0000,#f20000,#f60000,#fa0000,#fe0000,#ff0300,#ff0600,#ff0a00,#ff0e00,#ff1200,#ff1700,#ff1c00,#ff2100,#ff2600,#ff2b00,#ff3100,#ff3600,#ff3b00,#ff4100,#ff4600,#ff4c00,#ff5100,#ff5700,#ff5c00,#ff6200,#ff6700,#ff6c00,#ff7100,#ff7600,#ff7b00,#ff7f00,#ff8300,#ff8700,#ff8b00,#ff8f00,#ff9200,#ff9600,#ff9900,#ff9c00,#ffa000,#ffa300,#ffa600,#ffa900,#ffac00,#ffaf00,#ffb200,#ffb500,#ffb700,#ffba00,#ffbd00,#ffbf00,#ffc100,#ffc400,#ffc600,#ffc900,#ffcb00,#ffcd00,#ffd000,#ffd200,#ffd400,#ffd600,#ffd800,#ffda00,#ffdc00,#ffde00,#ffe000,#ffe200,#ffe400,#ffe600,#ffe700,#ffe900,#ffeb00,#ffed00,#ffef00,#fff000,#fff200,#fff400,#fff600,#fff700,#fff900,#fffa00,#fffc00,#fffd00,#ffff00,#ffff02,#ffff05,#ffff08,#ffff0a,#ffff0c,#ffff0e,#ffff10,#ffff12,#ffff14,#ffff16,#ffff18,#ffff1a,#ffff1b,#ffff1d,#ffff1f,#ffff21,#ffff23,#ffff24,#ffff26,#ffff28,#ffff2a,#ffff2b,#ffff2d,#ffff2e,#ffff2f,#ffff30)"></i>
<i style="top:108px;background:linear-gradient(90deg,#c60000,#c60000,#c60000,#c60000,#c60000,#c60000,#c60000,#c60000,#c60000,#c60000,#c60000,#c60000,#c60000,#c60000,#c60000,#c60000,#c60000,#c60000,#c60000,#c60000,#c60000,#c60000,#c60000,#c60000,#c70000,#c70000,#c80000,#ca0000,#cc0000,#ce0000,#d10000,#d40000,#d80000,#db0000,#df0000,#e30000,#e70000,#eb0000,#ef0000,#f30000,#f70000,#fb0000,#ff0000,#ff0400,#ff0700,#ff0b00,#ff1000,#ff1400,#ff1900,#ff1e00,#ff2300,#ff2800,#ff2e00,#ff3300,#ff3900,#ff3e00,#ff4400,#ff4900,#ff4f00,#ff5400,#ff5a00,#ff5f00,#ff6500,#ff6a00,#ff6f00,#ff7400,#ff7900,#ff7e00,#ff8200,#ff8600,#ff8a00,#ff8e00,#ff9100,#ff9500,#ff9800,#ff9b00,#ff9f00,#ffa200,#ffa500,#ffa800,#ffac00,#ffaf00,#ffb100,#ffb400,#ffb700,#ffb900,#ffbc00,#ffbf00,#ffc100,#ffc300,#ffc600,#ffc800,#ffcb00,#ffcd00,#ffcf00,#ffd200,#ffd400,#ffd600,#ffd800,#ffda00,#ffdc00,#ffde00,#ffe000,#ffe200,#ffe300,#ffe500,#ffe700,#ffe900,#ffeb00,#ffec00,#ffee00,#fff000,#fff100,#fff300,#fff500,#fff700,#fff800,#fffa00,#fffb00,#fffd00,#fffe00,#ffff01,#ffff04,#ffff06,#ffff09,#ffff0b,#ffff0d,#ffff0f,#ffff11,#ffff13,#ffff14,#ffff16,#ffff18,#ffff1a,#ffff1c,#ffff1d,#ffff1f,#ffff21,#ffff22,#ffff24,#ffff26,#ffff27,#ffff29,#ffff2b,#ffff2c,#ffff2d,#ffff2f,#ffff30)"></i>
<i style="top:112px;background:linear-gradient(90deg,#c40000,#c40000,#c40000,#c40000,#c40000,#c40000,#c40000,#c40000,#c40000,#c40000,#c40000,#c40000,#c40000,#c40000,#c40000,#c40000,#c40000,#c40000,#c40000,#c40000,#c40000,#c40000,#c50000,#c50000,#c50000,#c60000,#c70000,#c90000,#cb0000,#ce0000,#d10000,#d40000,#d80000,#dc0000,#e00000,#e40000,#e80000,#ec0000,#f00000,#f40000,#f80000,#fc0000,#ff0100,#ff0500,#ff0900,#ff0d00,#ff1100,#ff1600,#ff1b00,#ff2000,#ff2500,#ff2b00,#ff3000,#ff3600,#ff3b00,#ff4100,#ff4600,#ff4c00,#ff5200,#ff5700,#ff5d00,#ff6200,#ff6800,#ff6d00,#ff7200,#ff7700,#ff7c00,#ff8100,#ff8500,#ff8900,#ff8c00,#ff9000,#ff9400,#ff9700,#ff9a00,#ff9e00,#ffa100,#ffa400,#ffa800,#ffab00,#ffae00,#ffb100,#ffb400,#ffb600,#ffb900,#ffbc00,#ffbe00,#ffc100,#ffc300,#ffc500,#ffc800,#ffca00,#ffcd00,#ffcf00,#ffd100,#ffd300,#ffd600,#ffd800,#ffda00,#ffdc00,#ffde00,#ffdf00,#ffe100,#ffe300,#ffe500,#ffe700,#ffe800,#ffea00,#ffec00,#ffee00,#ffef00,#fff100,#fff300,#fff400,#fff600,#fff800,#fff900,#fffb00,#fffc00,#fffd00,#ffff00,#ffff03,#ffff05,#ffff07,#ffff0a,#ffff0c,#ffff0d,#ffff0f,#ffff11,#ffff13,#ffff15,#ffff16,#ffff18,#ffff1a,#ffff1c,#ffff1d,#ffff1f,#ffff21,#ffff22,#ffff24,#ffff25,#ffff27,#ffff29,#ffff2a,#ffff2c,#ffff2d,#ffff2e,#ffff2f)"></i>
<i style="top:116px;background:linear-gradient(90deg,#c30000,#c30000,#c30000,#c30000,#c30000,#c30000,#c30000,#c30000,#c30000,#c30000,#c30000,#c30000,#c30000,#c30000,#c30000,#c30000,#c30000,#c30000,#c30000,#c30000,#c30000,#c30000,#c30000,#c40000,#c40000,#c50000,#c70000,#c80000,#cb0000,#ce0000,#d10000,#d40000,#d80000,#dc0000,#e00000,#e40000,#e80000,#ec0000,#f00000,#f50000,#f90000,#fd0000,#ff0200,#ff0600,#ff0a00,#ff0e00,#ff1300,#ff1800,#ff1d00,#ff2200,#ff2700,#ff2d00,#ff3200,#ff3800,#ff3e00,#ff4300,#ff4900,#ff4f00,#ff5400,#ff5a00,#ff6000,#ff6500,#ff6b00,#ff7000,#ff7500,#ff7a00,#ff7f00,#ff8300,#ff8700,#ff8b00,#ff8f00,#ff9300,#ff9600,#ff9900,#ff9d00,#ffa000,#ffa400,#ffa700,#ffaa00,#ffad00,#ffb000,#ffb300,#ffb600,#ffb800,#ffbb00,#ffbe00,#ffc000,#ffc300,#ffc500,#ffc700,#ffca00,#ffcc00,#ffcf00,#ffd100,#ffd300,#ffd500,#ffd700,#ffd900,#ffdb00,#ffdd00,#ffdf00,#ffe100,#ffe300,#ffe400,#ffe600,#ffe800,#ffea00,#ffeb00,#ffed00,#ffef00,#fff000,#fff200,#fff400,#fff500,#fff700,#fff800,#fffa00,#fffb00,#fffd00,#fffe00,#ffff01,#ffff04,#ffff06,#ffff08,#ffff0a,#ffff0c,#ffff0e,#ffff10,#ffff11,#ffff13,#ffff15,#ffff16,#ffff18,#ffff1a,#ffff1b,#ffff1d,#ffff1f,#ffff20,#ffff22,#ffff23,#ffff25,#ffff27,#ffff28,#ffff2a,#ffff2b,#ffff2c,#ffff2d,#ffff2e)"></i>
<i style="top:120px;background:linear-gradient(90deg,#c20000,#c20000,#c20000,#c20000,#c20000,#c20000,#c20000,#c20000,#c20000,#c20000,#c20000,#c20000,#c20000,#c20000,#c20000,#c20000,#c20000,#c20000,#c20000,#c20000,#c20000,#c20000,#c20000,#c20000,#c30000,#c40000,#c60000,#c80000,#ca0000,#cd0000,#d10000,#d40000,#d80000,#dc0000,#e00000,#e50000,#e90000,#ed0000,#f10000,#f50000,#fa0000,#fe0000,#ff0300,#ff0700,#ff0b00,#ff0f00,#ff1400,#ff1900,#ff1e00,#ff2400,#ff2900,#ff2f00,#ff3500,#ff3a00,#ff4000,#ff4600,#ff4c00,#ff5100,#ff5700,#ff5d00,#ff6300,#ff6800,#ff6e00,#ff7300,#ff7800,#ff7d00,#ff8200,#ff8600,#ff8a00,#ff8e00,#ff9100,#ff9500,#ff9800,#ff9c00,#ff9f00,#ffa300,#ffa600,#ffa900,#ffac00,#ffaf00,#ffb200,#ffb500,#ffb800,#ffba00,#ffbd00,#ffc000,#ffc200,#ffc500,#ffc700,#ffc900,#ffcc00,#ffce00,#ffd100,#ffd300,#ffd500,#ffd700,#ffd900,#ffdb00,#ffdd00,#ffdf00,#ffe100,#ffe200,#ffe400,#ffe600,#ffe800,#ffe900,#ffeb00,#ffed00,#ffee00,#fff000,#fff100,#fff300,#fff500,#fff600,#fff800,#fff900,#fffb00,#fffc00,#fffd00,#ffff00,#ffff02,#ffff05,#ffff07,#ffff09,#ffff0b,#ffff0c,#ffff0e,#ffff10,#ffff12,#ffff13,#ffff15,#ffff16,#ffff18,#ffff1a,#ffff1b,#ffff1d,#ffff1e,#ffff20,#ffff22,#ffff23,#ffff25,#ffff26,#ffff28,#ffff29,#ffff2a,#ffff2b,#ffff2d,#ffff2d)"></i>
<i style="top:124px;background:linear-gradient(90deg,#c00000,#c00000,#c00000,#c00000,#c00000,#c00000,#c00000,#c00000,#c00000,#c00000,#c00000,#c00000,#c00000,#c00000,#c00000,#c00000,#c00000,#c00000,#c00000,#c00000,#c00000,#c10000,#c10000,#c10000,#c20000,#c30000,#c50000,#c70000,#ca0000,#cd0000,#d00000,#d40000,#d80000,#dc0000,#e10000,#e50000,#e90000,#ed0000,#f20000,#f60000,#fa0000,#ff0000,#ff0400,#ff0800,#ff0c00,#ff1100,#ff1600,#ff1b00,#ff2000,#ff2600,#ff2b00,#ff3100,#ff3700,#ff3d00,#ff4300,#ff4800,#ff4e00,#ff5400,#ff5a00,#ff6000,#ff6600,#ff6b00,#ff7100,#ff7600,#ff7b00,#ff8000,#ff8400,#ff8800,#ff8c00,#ff9000,#ff9400,#ff9700,#ff9b00,#ff9e00,#ffa200,#ffa500,#ffa800,#ffab00,#ffaf00,#ffb200,#ffb400,#ffb700,#ffba00,#ffbd00,#ffbf00,#ffc200,#ffc400,#ffc700,#ffc900,#ffcc00,#ffce00,#ffd000,#ffd300,#ffd500,#ffd700,#ffd900,#ffdb00,#ffdd00,#ffdf00,#ffe000,#ffe200,#ffe400,#ffe600,#ffe700,#ffe900,#ffea00,#ffec00,#ffee00,#ffef00,#fff100,#fff200,#fff400,#fff600,#fff700,#fff900,#fffa00,#fffb00,#fffd00,#fffe00,#ffff00,#ffff03,#ffff05,#ffff07,#ffff09,#ffff0b,#ffff0d,#ffff0e,#ffff10,#ffff12,#ffff13,#ffff15,#ffff16,#ffff18,#ffff1a,#ffff1b,#ffff1d,#ffff1e,#ffff20,#ffff21,#ffff23,#ffff24,#ffff26,#ffff27,#ffff28,#ffff2a,#ffff2b,#ffff2c,#ffff2d)"></i>
<i style="top:128px;background:linear-gradient(90deg,#bf0000,#bf0000,#bf0000,#bf0000,#bf0000,#bf0000,#bf0000,#bf0000,#bf0000,#bf0000,#bf0000,#bf0000,#bf0000,#bf0000,#bf0000,#bf0000,#bf0000,#bf0000,#bf0000,#bf0000,#bf0000,#bf0000,#c00000,#c00000,#c10000,#c20000,#c40000,#c60000,#c90000,#cc0000,#d00000,#d40000,#d80000,#dc0000,#e10000,#e50000,#e90000,#ee0000,#f20000,#f70000,#fb0000,#ff0100,#ff0500,#ff0900,#ff0d00,#ff1200,#ff1700,#ff1c00,#ff2200,#ff2800,#ff2d00,#ff3300,#ff3900,#ff3f00,#ff4500,#ff4b00,#ff5100,#ff5700,#ff5d00,#ff6300,#ff6900,#ff6e00,#ff7400,#ff7900,#ff7e00,#ff8200,#ff8700,#ff8b00,#ff8f00,#ff9200,#ff9600,#ff9a00,#ff9d00,#ffa100,#ffa400,#ffa700,#ffab00,#ffae00,#ffb100,#ffb400,#ffb700,#ffb900,#ffbc00,#ffbf00,#ffc100,#ffc400,#ffc600,#ffc900,#ffcb00,#ffce00,#ffd000,#ffd200,#ffd500,#ffd700,#ffd900,#ffdb00,#ffdd00,#ffdf00,#ffe000,#ffe200,#ffe400,#ffe500,#ffe700,#ffe900,#ffea00,#ffec00,#ffed00,#ffef00,#fff000,#fff200,#fff300,#fff500,#fff600,#fff800,#fff900,#fffb00,#fffc00,#fffd00,#fffe00,#ffff01,#ffff04,#ffff06,#ffff08,#ffff0a,#ffff0b,#ffff0d,#ffff0f,#ffff10,#ffff12,#ffff13,#ffff15,#ffff16,#ffff18,#ffff19,#ffff1b,#ffff1c,#ffff1e,#ffff1f,#ffff21,#ffff22,#ffff24,#ffff25,#ffff26,#ffff28,#ffff29,#ffff2a,#ffff2b,#ffff2c)"></i>
<i style="top:132px;background:linear-gradient(90deg,#be0000,#be0000,#be0000,#be0000,#be0000,#be0000,#be0000,#be0000,#be0000,#be0000,#be0000,#be0000,#be0000,#be0000,#be0000,#be0000,#be0000,#be0000,#be0000,#be0000,#be0000,#be0000,#be0000,#bf0000,#c00000,#c10000,#c30000,#c60000,#c90000,#cc0000,#d00000,#d40000,#d80000,#dd0000,#e10000,#e50000,#ea0000,#ee0000,#f30000,#f70000,#fc0000,#ff0100,#ff0500,#ff0a00,#ff0e00,#ff1300,#ff1800,#ff1e00,#ff2400,#ff2a00,#ff2f00,#ff3500,#ff3b00,#ff4100,#ff4800,#ff4e00,#ff5400,#ff5a00,#ff6000,#ff6600,#ff6c00,#ff7100,#ff7700,#ff7c00,#ff8100,#ff8500,#ff8900,#ff8d00,#ff9100,#ff9500,#ff9900,#ff9c00,#ffa000,#ffa300,#ffa600,#ffaa00,#ffad00,#ffb000,#ffb300,#ffb600,#ffb900,#ffbc00,#ffbe00,#ffc100,#ffc300,#ffc600,#ffc800,#ffcb00,#ffcd00,#ffd000,#ffd200,#ffd400,#ffd700,#ffd900,#ffdb00,#ffdd00,#ffdf00,#ffe000,#ffe200,#ffe400,#ffe500,#ffe700,#ffe800,#ffea00,#ffeb00,#ffed00,#ffee00,#fff000,#fff100,#fff300,#fff400,#fff600,#fff700,#fff900,#fffa00,#fffb00,#fffd00,#fffe00,#ffff00,#ffff02,#ffff05,#ffff07,#ffff08,#ffff0a,#ffff0c,#ffff0d,#ffff0f,#ffff10,#ffff12,#ffff13,#ffff15,#ffff16,#ffff18,#ffff19,#ffff1b,#ffff1c,#ffff1d,#ffff1f,#ffff20,#ffff22,#ffff23,#ffff24,#ffff26,#ffff27,#ffff28,#ffff29,#ffff2a,#ffff2b)"></i>
<i style="top:136px;background:linear-gradient(90deg,#bc0000,#bc0000,#bc0000,#bc0000,#bc0000,#bc0000,#bc0000,#bc0000,#bc0000,#bc0000,#bc0000,#bc0000,#bc0000,#bc0000,#bc0000,#bc0000,#bc0000,#bc0000,#bc0000,#bc0000,#bc0000,#bd0000,#bd0000,#be0000,#bf0000,#c00000,#c20000,#c50000,#c80000,#cc0000,#d00000,#d40000,#d80000,#dd0000,#e10000,#e50000,#ea0000,#ef0000,#f30000,#f80000,#fd0000,#ff0200,#ff0600,#ff0b00,#ff0f00,#ff1500,#ff1a00,#ff2000,#ff2600,#ff2c00,#ff3200,#ff3800,#ff3e00,#ff4400,#ff4a00,#ff5000,#ff5700,#ff5d00,#ff6300,#ff6900,#ff6f00,#ff7400,#ff7a00,#ff7f00,#ff8300,#ff8800,#ff8c00,#ff9000,#ff9400,#ff9700,#ff9b00,#ff9f00,#ffa200,#ffa600,#ffa900,#ffac00,#ffaf00,#ffb300,#ffb600,#ffb800,#ffbb00,#ffbe00,#ffc100,#ffc300,#ffc600,#ffc800,#ffcb00,#ffcd00,#ffd000,#ffd200,#ffd400,#ffd700,#ffd900,#ffdb00,#ffdd00,#ffdf00,#ffe000,#ffe200,#ffe400,#ffe500,#ffe700,#ffe800,#ffea00,#ffeb00,#ffed00,#ffee00,#fff000,#fff100,#fff300,#fff400,#fff500,#fff700,#fff800,#fff900,#fffb00,#fffc00,#fffd00,#fffe00,#ffff01,#ffff03,#ffff05,#ffff07,#ffff09,#ffff0a,#ffff0c,#ffff0d,#ffff0f,#ffff10,#ffff12,#ffff13,#ffff15,#ffff16,#ffff18,#ffff19,#ffff1a,#ffff1c,#ffff1d,#ffff1f,#ffff20,#ffff21,#ffff23,#ffff24,#ffff25,#ffff27,#ffff28,#ffff29,#ffff2a,#ffff2a)"></i>
<i style="top:140px;background:linear-gradient(90deg,#bb0000,#bb0000,#bb0000,#bb0000,#bb0000,#bb0000,#bb0000,#bb0000,#bb0000,#bb0000,#bb0000,#bb0000,#bb0000,#bb0000,#bb0000,#bb0000,#bb0000,#bb0000,#bb0000,#bb0000,#bb0000,#bb0000,#bc0000,#bc0000,#be0000,#bf0000,#c20000,#c40000,#c80000,#cb0000,#d00000,#d40000,#d80000,#dd0000,#e10000,#e60000,#ea0000,#ef0000,#f40000,#f80000,#fe0000,#ff0300,#ff0700,#ff0c00,#ff1100,#ff1600,#ff1c00,#ff2100,#ff2700,#ff2e00,#ff3400,#ff3a00,#ff4000,#ff4700,#ff4d00,#ff5300,#ff5a00,#ff6000,#ff6600,#ff6c00,#ff7200,#ff7700,#ff7d00,#ff8200,#ff8600,#ff8a00,#ff8f00,#ff9200,#ff9600,#ff9a00,#ff9e00,#ffa100,#ffa500,#ffa800,#ffac00,#ffaf00,#ffb200,#ffb500,#ffb800,#ffbb00,#ffbe00,#ffc000,#ffc300,#ffc600,#ffc800,#ffcb00,#ffcd00,#ffd000,#ffd200,#ffd400,#ffd700,#ffd900,#ffdb00,#ffdd00,#ffdf00,#ffe100,#ffe200,#ffe400,#ffe500,#ffe700,#ffe800,#ffea00,#ffeb00,#ffed00,#ffee00,#fff000,#fff100,#fff200,#fff400,#fff500,#fff600,#fff800,#fff900,#fffa00,#fffb00,#fffc00,#fffe00,#ffff00,#ffff02,#ffff04,#ffff06,#ffff07,#ffff09,#ffff0b,#ffff0c,#ffff0e,#ffff0f,#ffff11,#ffff12,#ffff13,#ffff15,#ffff16,#ffff17,#ffff19,#ffff1a,#ffff1c,#ffff1d,#ffff1e,#ffff20,#ffff21,#ffff22,#ffff24,#ffff25,#ffff26,#ffff27,#ffff28,#ffff29,#ffff2a)"></i>
<i style="top:144px;background:linear-gradient(90deg,#b90000,#b90000,#b90000,#b90000,#b90000,#b90000,#b90000,#b90000,#b90000,#ba0000,#ba0000,#ba0000,#ba0000,#ba0000,#ba0000,#ba0000,#ba0000,#ba0000,#ba0000,#ba0000,#ba0000,#ba0000,#bb0000,#bb0000,#bd0000,#be0000,#c10000,#c40000,#c70000,#cb0000,#cf0000,#d40000,#d80000,#dd0000,#e10000,#e60000,#eb0000,#ef0000,#f40000,#f90000,#fe0000,#ff0400,#ff0800,#ff0d00,#ff1200,#ff1700,#ff1d00,#ff2300,#ff2900,#ff3000,#ff3600,#ff3d00,#ff4300,#ff4900,#ff5000,#ff5600,#ff5d00,#ff6300,#ff6900,#ff6f00,#ff7500,#ff7b00,#ff8000,#ff8500,#ff8900,#ff8d00,#ff9100,#ff9500,#ff9900,#ff9d00,#ffa000,#ffa400,#ffa800,#ffab00,#ffae00,#ffb200,#ffb500,#ffb800,#ffbb00,#ffbd00,#ffc000,#ffc300,#ffc500,#ffc800,#ffcb00,#ffcd00,#ffd000,#ffd200,#ffd500,#ffd700,#ffd900,#ffdb00,#ffdd00,#ffdf00,#ffe100,#ffe300,#ffe400,#ffe600,#ffe700,#ffe900,#ffea00,#ffeb00,#ffed00,#ffee00,#fff000,#fff100,#fff200,#fff300,#fff500,#fff600,#fff700,#fff800,#fffa00,#fffb00,#fffc00,#fffd00,#fffe00,#ffff00,#ffff02,#ffff04,#ffff06,#ffff08,#ffff09,#ffff0b,#ffff0c,#ffff0e,#ffff0f,#ffff11,#ffff12,#ffff13,#ffff15,#ffff16,#ffff17,#ffff19,#ffff1a,#ffff1b,#ffff1d,#ffff1e,#ffff1f,#ffff21,#ffff22,#ffff23,#ffff24,#ffff25,#ffff27,#ffff28,#ffff28,#ffff29)"></i>
<i style="top:148px;background:linear-gradient(90deg,#b80000,#b80000,#b80000,#b80000,#b80000,#b80000,#b80000,#b80000,#b80000,#b80000,#b80000,#b80000,#b80000,#b80000,#b80000,#b80000,#b80000,#b80000,#b80000,#b80000,#b80000,#b90000,#b90000,#ba0000,#bc0000,#be0000,#c00000,#c30000,#c70000,#cb0000,#cf0000,#d40000,#d80000,#dd0000,#e20000,#e60000,#eb0000,#f00000,#f50000,#fa0000,#ff0000,#ff0400,#ff0900,#ff0e00,#ff1300,#ff1900,#ff1f00,#ff2500,#ff2c00,#ff3200,#ff3900,#ff3f00,#ff4600,#ff4c00,#ff5300,#ff5a00,#ff6000,#ff6600,#ff6d00,#ff7300,#ff7800,#ff7e00,#ff8300,#ff8800,#ff8c00,#ff9000,#ff9400,#ff9800,#ff9c00,#ffa000,#ffa300,#ffa700,#ffaa00,#ffae00,#ffb100,#ffb400,#ffb800,#ffbb00,#ffbd00,#ffc000,#ffc300,#ffc600,#ffc800,#ffcb00,#ffcd00,#ffd000,#ffd300,#ffd500,#ffd700,#ffd900,#ffdc00,#ffde00,#ffe000,#ffe100,#ffe300,#ffe500,#ffe600,#ffe800,#ffe900,#ffea00,#ffec00,#ffed00,#ffee00,#fff000,#fff100,#fff200,#fff300,#fff500,#fff600,#fff700,#fff800,#fff900,#fffa00,#fffb00,#fffc00,#fffd00,#fffe00,#ffff01,#ffff03,#ffff05,#ffff07,#ffff08,#ffff0a,#ffff0b,#ffff0d,#ffff0e,#ffff0f,#ffff11,#ffff12,#ffff13,#ffff15,#ffff16,#ffff17,#ffff19,#ffff1a,#ffff1b,#ffff1c,#ffff1e,#ffff1f,#ffff20,#ffff21,#ffff23,#ffff24,#ffff25,#ffff26,#ffff27,#ffff28,#ffff29)"></i>
<i style="top:152px;background:linear-gradient(90deg,#b70000,#b70000,#b70000,#b70000,#b70000,#b70000,#b70000,#b70000,#b70000,#b70000,#b70000,#b70000,#b70000,#b70000,#b70000,#b70000,#b70000,#b70000,#b70000,#b70000,#b70000,#b70000,#b80000,#b90000,#bb0000,#bd0000,#bf0000,#c30000,#c70000,#cb0000,#cf0000,#d40000,#d80000,#dd0000,#e20000,#e70000,#ec0000,#f10000,#f60000,#fb0000,#ff0100,#ff0500,#ff0a00,#ff0f00,#ff1500,#ff1b00,#ff2100,#ff2700,#ff2e00,#ff3400,#ff3b00,#ff4200,#ff4900,#ff4f00,#ff5600,#ff5d00,#ff6300,#ff6a00,#ff7000,#ff7600,#ff7c00,#ff8100,#ff8600,#ff8b00,#ff8f00,#ff9300,#ff9700,#ff9b00,#ff9f00,#ffa300,#ffa600,#ffaa00,#ffae00,#ffb100,#ffb400,#ffb800,#ffbb00,#ffbe00,#ffc000,#ffc300,#ffc600,#ffc900,#ffcb00,#ffce00,#ffd000,#ffd300,#ffd500,#ffd800,#ffda00,#ffdc00,#ffde00,#ffe000,#ffe200,#ffe400,#ffe500,#ffe700,#ffe800,#ffea00,#ffeb00,#ffec00,#ffee00,#ffef00,#fff000,#fff100,#fff200,#fff400,#fff500,#fff600,#fff700,#fff800,#fff900,#fffa00,#fffb00,#fffc00,#fffd00,#fffe00,#ffff00,#ffff02,#ffff04,#ffff06,#ffff07,#ffff09,#ffff0a,#ffff0b,#ffff0d,#ffff0e,#ffff0f,#ffff11,#ffff12,#ffff13,#ffff15,#ffff16,#ffff17,#ffff18,#ffff1a,#ffff1b,#ffff1c,#ffff1d,#ffff1f,#ffff20,#ffff21,#ffff22,#ffff23,#ffff25,#ffff26,#ffff27,#ffff27,#ffff28)"></i>
<i style="top:156px;background:linear-gradient(90deg,#b50000,#b50000,#b50000,#b50000,#b50000,#b50000,#b50000,#b50000,#b50000,#b50000,#b50000,#b50000,#b50000,#b50000,#b50000,#b50000,#b50000,#b50000,#b60000,#b60000,#b60000,#b60000,#b70000,#b80000,#ba0000,#bc0000,#bf0000,#c20000,#c60000,#ca0000,#cf0000,#d40000,#d90000,#dd0000,#e20000,#e70000,#ec0000,#f10000,#f60000,#fc0000,#ff0200,#ff0600,#ff0b00,#ff1100,#ff1600,#ff1c00,#ff2300,#ff2900,#ff3000,#ff3700,#ff3e00,#ff4500,#ff4c00,#ff5300,#ff5a00,#ff6000,#ff6700,#ff6d00,#ff7400,#ff7a00,#ff7f00,#ff8400,#ff8900,#ff8e00,#ff9200,#ff9600,#ff9a00,#ff9e00,#ffa200,#ffa600,#ffaa00,#ffad00,#ffb100,#ffb400,#ffb800,#ffbb00,#ffbe00,#ffc100,#ffc400,#ffc700,#ffc900,#ffcc00,#ffcf00,#ffd100,#ffd400,#ffd600,#ffd900,#ffdb00,#ffdd00,#ffdf00,#ffe100,#ffe300,#ffe500,#ffe600,#ffe800,#ffe900,#ffeb00,#ffec00,#ffed00,#ffee00,#ffef00,#fff100,#fff200,#fff300,#fff400,#fff500,#fff600,#fff700,#fff800,#fff900,#fffa00,#fffb00,#fffc00,#fffd00,#fffe00,#fffe00,#ffff01,#ffff03,#ffff04,#ffff06,#ffff07,#ffff09,#ffff0a,#ffff0c,#ffff0d,#ffff0e,#ffff10,#ffff11,#ffff12,#ffff13,#ffff15,#ffff16,#ffff17,#ffff18,#ffff19,#ffff1b,#ffff1c,#ffff1d,#ffff1e,#ffff20,#ffff21,#ffff22,#ffff23,#ffff24,#ffff25,#ffff26,#ffff27,#ffff28)"></i>
<i style="top:160px;background:linear-gradient(90deg,#b40000,#b40000,#b40000,#b40000,#b40000,#b40000,#b40000,#b40000,#b40000,#b40000,#b40000,#b40000,#b40000,#b40000,#b40000,#b40000,#b40000,#b40000,#b40000,#b40000,#b50000,#b50000,#b60000,#b70000,#b90000,#bb0000,#be0000,#c20000,#c60000,#ca0000,#cf0000,#d40000,#d90000,#de0000,#e30000,#e80000,#ed0000,#f20000,#f70000,#fd0000,#ff0300,#ff0700,#ff0c00,#ff1200,#ff1800,#ff1e00,#ff2500,#ff2c00,#ff3300,#ff3a00,#ff4100,#ff4800,#ff4f00,#ff5600,#ff5d00,#ff6400,#ff6b00,#ff7100,#ff7700,#ff7d00,#ff8300,#ff8800,#ff8d00,#ff9100,#ff9600,#ff9a00,#ff9e00,#ffa200,#ffa600,#ffa900,#ffad00,#ffb100,#ffb400,#ffb800,#ffbb00,#ffbe00,#ffc200,#ffc500,#ffc700,#ffca00,#ffcd00,#ffd000,#ffd200,#ffd500,#ffd700,#ffda00,#ffdc00,#ffde00,#ffe000,#ffe200,#ffe400,#ffe600,#ffe700,#ffe900,#ffea00,#ffec00,#ffed00,#ffee00,#ffef00,#fff000,#fff100,#fff200,#fff400,#fff400,#fff500,#fff600,#fff700,#fff800,#fff900,#fffa00,#fffb00,#fffc00,#fffd00,#fffd00,#fffe00,#ffff00,#ffff01,#ffff03,#ffff05,#ffff06,#ffff08,#ffff09,#ffff0b,#ffff0c,#ffff0d,#ffff0e,#ffff10,#ffff11,#ffff12,#ffff13,#ffff15,#ffff16,#ffff17,#ffff18,#ffff19,#ffff1b,#ffff1c,#ffff1d,#ffff1e,#ffff1f,#ffff20,#ffff21,#ffff23,#ffff24,#ffff25,#ffff26,#ffff26,#ffff27)"></i>
<i style="top:164px;background:linear-gradient(90deg,#b30000,#b30000,#b30000,#b30000,#b30000,#b30000,#b30000,#b30000,#b30000,#b30000,#b30000,#b30000,#b30000,#b30000,#b30000,#b30000,#b30000,#b30000,#b30000,#b30000,#b30000,#b40000,#b50000,#b60000,#b80000,#ba0000,#be0000,#c10000,#c60000,#ca0000,#cf0000,#d40000,#d90000,#de0000,#e30000,#e80000,#ed0000,#f30000,#f80000,#fe0000,#ff0400,#ff0800,#ff0e00,#ff1400,#ff1a00,#ff2000,#ff2700,#ff2e00,#ff3500,#ff3d00,#ff4400,#ff4b00,#ff5200,#ff5a00,#ff6100,#ff6800,#ff6f00,#ff7500,#ff7b00,#ff8100,#ff8700,#ff8c00,#ff9000,#ff9500,#ff9900,#ff9d00,#ffa200,#ffa600,#ffa900,#ffad00,#ffb100,#ffb500,#ffb800,#ffbc00,#ffbf00,#ffc200,#ffc600,#ffc900,#ffcb00,#ffce00,#ffd100,#ffd400,#ffd600,#ffd900,#ffdb00,#ffde00,#ffe000,#ffe200,#ffe400,#ffe600,#ffe700,#ffe900,#ffea00,#ffec00,#ffed00,#ffee00,#ffef00,#fff000,#fff200,#fff300,#fff300,#fff400,#fff500,#fff600,#fff700,#fff800,#fff900,#fff900,#fffa00,#fffb00,#fffc00,#fffc00,#fffd00,#fffe00,#fffe00,#ffff00,#ffff02,#ffff04,#ffff05,#ffff07,#ffff08,#ffff09,#ffff0b,#ffff0c,#ffff0d,#ffff0e,#ffff10,#ffff11,#ffff12,#ffff13,#ffff14,#ffff16,#ffff17,#ffff18,#ffff19,#ffff1a,#ffff1b,#ffff1c,#ffff1e,#ffff1f,#ffff20,#ffff21,#ffff22,#ffff23,#ffff24,#ffff25,#ffff26,#ffff26)"></i>
<i style="top:168px;background:linear-gradient(90deg,#b10000,#b10000,#b10000,#b10000,#b10000,#b10000,#b10000,#b10000,#b10000,#b10000,#b10000,#b10000,#b10000,#b10000,#b10000,#b10000,#b10000,#b10000,#b10000,#b20000,#b20000,#b30000,#b30000,#b50000,#b70000,#ba0000,#bd0000,#c10000,#c50000,#ca0000,#cf0000,#d40000,#d90000,#de0000,#e30000,#e90000,#ee0000,#f30000,#f90000,#ff0000,#ff0500,#ff0a00,#ff0f00,#ff1500,#ff1c00,#ff2200,#ff2a00,#ff3100,#ff3800,#ff4000,#ff4700,#ff4f00,#ff5600,#ff5d00,#ff6500,#ff6c00,#ff7300,#ff7900,#ff7f00,#ff8500,#ff8b00,#ff9000,#ff9400,#ff9900,#ff9d00,#ffa200,#ffa600,#ffaa00,#ffae00,#ffb200,#ffb600,#ffb900,#ffbd00,#ffc000,#ffc400,#ffc700,#ffca00,#ffcd00,#ffd000,#ffd300,#ffd600,#ffd800,#ffdb00,#ffdd00,#ffdf00,#ffe200,#ffe400,#ffe600,#ffe800,#ffe900,#ffeb00,#ffec00,#ffee00,#ffef00,#fff000,#fff100,#fff200,#fff300,#fff400,#fff500,#fff600,#fff600,#fff700,#fff800,#fff900,#fff900,#fffa00,#fffb00,#fffb00,#fffc00,#fffd00,#fffd00,#fffe00,#fffe00,#ffff00,#ffff01,#ffff03,#ffff04,#ffff06,#ffff07,#ffff08,#ffff09,#ffff0a,#ffff0c,#ffff0d,#ffff0e,#ffff0f,#ffff10,#ffff11,#ffff13,#ffff14,#ffff15,#ffff16,#ffff17,#ffff18,#ffff1a,#ffff1b,#ffff1c,#ffff1d,#ffff1e,#ffff1f,#ffff20,#ffff21,#ffff22,#ffff23,#ffff24,#ffff25,#ffff26)"></i>
<i style="top:172px;background:linear-gradient(90deg,#b00000,#b00000,#b00000,#b00000,#b00000,#b00000,#b00000,#b00000,#b00000,#b00000,#b00000,#b00000,#b00000,#b00000,#b00000,#b00000,#b00000,#b00000,#b00000,#b00000,#b10000,#b10000,#b20000,#b40000,#b60000,#b90000,#bd0000,#c10000,#c50000,#ca0000,#cf0000,#d40000,#d90000,#df0000,#e40000,#e90000,#ef0000,#f40000,#fa0000,#ff0100,#ff0600,#ff0b00,#ff1100,#ff1700,#ff1e00,#ff2500,#ff2c00,#ff3400,#ff3b00,#ff4300,#ff4b00,#ff5200,#ff5a00,#ff6200,#ff6900,#ff7000,#ff7700,#ff7e00,#ff8400,#ff8a00,#ff8f00,#ff9400,#ff9900,#ff9d00,#ffa200,#ffa600,#ffab00,#ffaf00,#ffb300,#ffb700,#ffbb00,#ffbe00,#ffc200,#ffc500,#ffc900,#ffcc00,#ffcf00,#ffd200,#ffd500,#ffd800,#ffdb00,#ffdd00,#ffe000,#ffe200,#ffe400,#ffe600,#ffe800,#ffea00,#ffec00,#ffed00,#ffee00,#fff000,#fff100,#fff200,#fff300,#fff400,#fff500,#fff500,#fff600,#fff700,#fff700,#fff800,#fff900,#fff900,#fffa00,#fffb00,#fffb00,#fffc00,#fffc00,#fffd00,#fffd00,#fffe00,#fffe00,#ffff00,#ffff00,#ffff01,#ffff03,#ffff04,#ffff05,#ffff06,#ffff07,#ffff08,#ffff09,#ffff0a,#ffff0c,#ffff0d,#ffff0e,#ffff0f,#ffff10,#ffff11,#ffff13,#ffff14,#ffff15,#ffff16,#ffff17,#ffff18,#ffff19,#ffff1a,#ffff1c,#ffff1d,#ffff1e,#ffff1f,#ffff20,#ffff21,#ffff22,#ffff23,#ffff24,#ffff24)"></i>
<i style="top:176px;background:linear-gradient(90deg,#ae0000,#ae0000,#ae0000,#ae0000,#ae0000,#ae0000,#ae0000,#ae0000,#ae0000,#ae0000,#ae0000,#ae0000,#ae0000,#af0000,#af0000,#af0000,#af0000,#af0000,#af0000,#af0000,#af0000,#b00000,#b10000,#b30000,#b50000,#b80000,#bc0000,#c00000,#c50000,#ca0000,#cf0000,#d40000,#da0000,#df0000,#e40000,#ea0000,#ef0000,#f50000,#fb0000,#ff0200,#ff0700,#ff0c00,#ff1200,#ff1900,#ff2000,#ff2700,#ff2f00,#ff3700,#ff3e00,#ff4600,#ff4e00,#ff5600,#ff5e00,#ff6600,#ff6d00,#ff7500,#ff7c00,#ff8200,#ff8900,#ff8e00,#ff9400,#ff9900,#ff9e00,#ffa300,#ffa700,#ffac00,#ffb000,#ffb400,#ffb800,#ffbc00,#ffc000,#ffc400,#ffc800,#ffcb00,#ffcf00,#ffd200,#ffd500,#ffd800,#ffdb00,#ffde00,#ffe000,#ffe300,#ffe500,#ffe700,#ffe900,#ffeb00,#ffed00,#ffee00,#fff000,#fff100,#fff200,#fff300,#fff400,#fff500,#fff600,#fff600,#fff700,#fff800,#fff800,#fff900,#fff900,#fffa00,#fffa00,#fffb00,#fffb00,#fffc00,#fffc00,#fffc00,#fffd00,#fffd00,#fffe00,#fffe00,#fffe00,#ffff00,#ffff00,#ffff01,#ffff02,#ffff03,#ffff04,#ffff05,#ffff05,#ffff06,#ffff07,#ffff08,#ffff09,#ffff0a,#ffff0b,#ffff0c,#ffff0d,#ffff0e,#ffff10,#ffff11,#ffff12,#ffff13,#ffff14,#ffff15,#ffff17,#ffff18,#ffff19,#ffff1a,#ffff1b,#ffff1c,#ffff1d,#ffff1e,#ffff1f,#ffff20,#ffff21,#ffff22)"></i>
<i style="top:180px;background:linear-gradient(90deg,#ad0000,#ad0000,#ad0000,#ad0000,#ad0000,#ad0000,#ad0000,#ad0000,#ad0000,#ad0000,#ad0000,#ad0000,#ad0000,#ad0000,#ad0000,#ad0000,#ad0000,#ad0000,#ad0000,#ae0000,#ae0000,#af0000,#b00000,#b20000,#b40000,#b80000,#bc0000,#c00000,#c50000,#ca0000,#cf0000,#d40000,#da0000,#df0000,#e50000,#ea0000,#f00000,#f60000,#fc0000,#ff0200,#ff0800,#ff0e00,#ff1400,#ff1b00,#ff2200,#ff2a00,#ff3200,#ff3a00,#ff4200,#ff4a00,#ff5200,#ff5b00,#ff6300,#ff6b00,#ff7200,#ff7a00,#ff8100,#ff8800,#ff8e00,#ff9400,#ff9900,#ff9e00,#ffa300,#ffa800,#ffad00,#ffb200,#ffb600,#ffbb00,#ffbf00,#ffc300,#ffc700,#ffca00,#ffce00,#ffd200,#ffd500,#ffd800,#ffdb00,#ffde00,#ffe100,#ffe400,#ffe600,#ffe800,#ffeb00,#ffec00,#ffee00,#fff000,#fff100,#fff300,#fff400,#fff500,#fff600,#fff700,#fff700,#fff800,#fff900,#fff900,#fffa00,#fffa00,#fffa00,#fffb00,#fffb00,#fffb00,#fffc00,#fffc00,#fffc00,#fffd00,#fffd00,#fffd00,#fffd00,#fffd00,#fffe00,#fffe00,#fffe00,#fffe00,#fffe00,#ffff00,#ffff00,#ffff00,#ffff00,#ffff00,#ffff00,#ffff01,#ffff01,#ffff01,#ffff02,#ffff03,#ffff04,#ffff05,#ffff07,#ffff08,#ffff09,#ffff0a,#ffff0c,#ffff0d,#ffff0e,#ffff10,#ffff11,#ffff12,#ffff13,#ffff14,#ffff16,#ffff17,#ffff18,#ffff19,#ffff1a,#ffff1b,#ffff1c,#ffff1d)"></i>
<i style="top:184px;background:linear-gradient(90deg,#ab0000,#ab0000,#ac0000,#ac0000,#ac0000,#ac0000,#ac0000,#ac0000,#ac0000,#ac0000,#ac0000,#ac0000,#ac0000,#ac0000,#ac0000,#ac0000,#ac0000,#ac0000,#ac0000,#ac0000,#ad0000,#ae0000,#af0000,#b10000,#b40000,#b70000,#bb0000,#c00000,#c50000,#ca0000,#cf0000,#d40000,#da0000,#df0000,#e50000,#eb0000,#f00000,#f70000,#fd0000,#ff0300,#ff0900,#ff0f00,#ff1600,#ff1d00,#ff2400,#ff2c00,#ff3500,#ff3d00,#ff4600,#ff4e00,#ff5700,#ff5f00,#ff6800,#ff7000,#ff7800,#ff8000,#ff8700,#ff8d00,#ff9400,#ff9a00,#ff9f00,#ffa500,#ffaa00,#ffaf00,#ffb400,#ffb900,#ffbe00,#ffc200,#ffc600,#ffca00,#ffce00,#ffd200,#ffd500,#ffd900,#ffdc00,#ffdf00,#ffe200,#ffe500,#ffe800,#ffea00,#ffec00,#ffee00,#fff000,#fff200,#fff300,#fff400,#fff600,#fff700,#fff800,#fff900,#fff900,#fffa00,#fffa00,#fffb00,#fffb00,#fffb00,#fffc00,#fffc00,#fffc00,#fffc00,#fffc00,#fffc00,#fffd00,#fffd00,#fffd00,#fffd00,#fffd00,#fffd00,#fffd00,#fffd00,#fffe00,#fffe00,#fffe00,#fffe00,#fffe00,#fffe00,#fffd00,#fffd00,#fffd00,#fffd00,#fffd00,#fffd00,#fffc00,#fffc00,#fffc00,#fffc00,#fffc00,#fffc00,#fffd00,#fffd00,#fffd00,#fffe00,#ffff00,#ffff01,#ffff02,#ffff04,#ffff06,#ffff07,#ffff09,#ffff0a,#ffff0b,#ffff0d,#ffff0e,#ffff0f,#ffff11,#ffff12,#ffff13,#ffff13)"></i>
<i style="top:188px;background:linear-gradient(90deg,#aa0000,#aa0000,#aa0000,#aa0000,#aa0000,#aa0000,#aa0000,#aa0000,#aa0000,#aa0000,#aa0000,#aa0000,#aa0000,#aa0000,#aa0000,#aa0000,#aa0000,#aa0000,#aa0000,#ab0000,#ab0000,#ac0000,#ae0000,#b00000,#b30000,#b60000,#ba0000,#bf0000,#c40000,#ca0000,#cf0000,#d50000,#da0000,#e00000,#e50000,#eb0000,#f10000,#f70000,#fe0000,#ff0400,#ff0a00,#ff1100,#ff1700,#ff1f00,#ff2700,#ff2f00,#ff3800,#ff4100,#ff4a00,#ff5300,#ff5c00,#ff6500,#ff6e00,#ff7600,#ff7e00,#ff8600,#ff8d00,#ff9400,#ff9b00,#ffa100,#ffa700,#ffac00,#ffb200,#ffb700,#ffbc00,#ffc100,#ffc600,#ffcb00,#ffcf00,#ffd300,#ffd700,#ffda00,#ffdd00,#ffe100,#ffe400,#ffe700,#ffea00,#ffec00,#ffef00,#fff100,#fff300,#fff400,#fff600,#fff700,#fff800,#fff900,#fffa00,#fffb00,#fffb00,#fffc00,#fffd00,#fffd00,#fffd00,#fffd00,#fffd00,#fffd00,#fffd00,#fffd00,#fffd00,#fffd00,#fffd00,#fffd00,#fffd00,#fffd00,#fffd00,#fffd00,#fffd00,#fffd00,#fffd00,#fffd00,#fffd00,#fffd00,#fffd00,#fffd00,#fffd00,#fffd00,#fffc00,#fffc00,#fffc00,#fffc00,#fffc00,#fffc00,#fffc00,#fffc00,#fffb00,#fffb00,#fffb00,#fffb00,#fffb00,#fffb00,#fffc00,#fffc00,#fffc00,#fffc00,#fffc00,#fffc00,#fffc00,#fffc00,#fffc00,#fffc00,#fffc00,#fffc00,#fffd00,#fffe00,#ffff00,#ffff01,#ffff02,#ffff03)"></i>
<i style="top:192px;background:linear-gradient(90deg,#a80000,#a80000,#a80000,#a80000,#a80000,#a80000,#a80000,#a80000,#a80000,#a80000,#a80000,#a80000,#a80000,#a80000,#a80000,#a80000,#a80000,#a90000,#a90000,#a90000,#aa0000,#ab0000,#ac0000,#af0000,#b20000,#b50000,#ba0000,#bf0000,#c40000,#c90000,#cf0000,#d50000,#da0000,#e00000,#e60000,#ec0000,#f20000,#f80000,#ff0000,#ff0600,#ff0c00,#ff1200,#ff1a00,#ff2100,#ff2a00,#ff3300,#ff3c00,#ff4500,#ff4f00,#ff5800,#ff6200,#ff6b00,#ff7400,#ff7d00,#ff8600,#ff8e00,#ff9500,#ff9c00,#ffa300,#ffa900,#ffaf00,#ffb500,#ffbb00,#ffc000,#ffc600,#ffcb00,#ffcf00,#ffd400,#ffd800,#ffdc00,#ffe000,#ffe300,#ffe600,#ffe900,#ffec00,#ffef00,#fff100,#fff300,#fff500,#fff700,#fff900,#fffa00,#fffb00,#fffc00,#fffd00,#fffd00,#fffe00,#fffe00,#ffff00,#ffff00,#ffff01,#ffff02,#ffff02,#ffff02,#ffff01,#ffff01,#ffff00,#ffff00,#fffe00,#fffe00,#fffe00,#fffe00,#fffe00,#fffe00,#fffe00,#fffe00,#fffe00,#fffe00,#fffd00,#fffd00,#fffd00,#fffd00,#fffd00,#fffd00,#fffc00,#fffc00,#fffc00,#fffc00,#fffc00,#fffc00,#fffb00,#fffb00,#fffb00,#fffb00,#fffb00,#fffb00,#fffb00,#fffb00,#fffb00,#fffb00,#fffb00,#fffb00,#fffb00,#fffb00,#fffb00,#fffb00,#fffb00,#fffb00,#fffb00,#fffb00,#fffb00,#fffb00,#fffb00,#fffb00,#fffb00,#fffb00,#fffb00,#fffb00)"></i>
<i style="top:196px;background:linear-gradient(90deg,#a70000,#a70000,#a70000,#a70000,#a70000,#a70000,#a70000,#a70000,#a70000,#a70000,#a70000,#a70000,#a70000,#a70000,#a70000,#a70000,#a70000,#a70000,#a70000,#a70000,#a80000,#a90000,#ab0000,#ad0000,#b10000,#b50000,#b90000,#be0000,#c30000,#c90000,#cf0000,#d50000,#da0000,#e00000,#e60000,#ec0000,#f30000,#f90000,#ff0100,#ff0700,#ff0d00,#ff1400,#ff1c00,#ff2400,#ff2d00,#ff3700,#ff4000,#ff4a00,#ff5400,#ff5e00,#ff6900,#ff7300,#ff7c00,#ff8500,#ff8e00,#ff9700,#ff9e00,#ffa600,#ffad00,#ffb300,#ffb900,#ffbf00,#ffc500,#ffcb00,#ffd000,#ffd500,#ffda00,#ffde00,#ffe200,#ffe600,#ffe900,#ffec00,#ffef00,#fff100,#fff400,#fff600,#fff800,#fffa00,#fffc00,#fffd00,#ffff00,#ffff02,#ffff03,#ffff05,#ffff06,#ffff06,#ffff06,#ffff07,#ffff08,#ffff08,#ffff08,#ffff08,#ffff08,#ffff07,#ffff06,#ffff06,#ffff05,#ffff04,#ffff03,#ffff02,#ffff01,#ffff01,#ffff00,#ffff00,#ffff00,#ffff00,#fffe00,#fffe00,#fffe00,#fffe00,#fffe00,#fffd00,#fffd00,#fffd00,#fffd00,#fffc00,#fffc00,#fffc00,#fffc00,#fffc00,#fffc00,#fffc00,#fffc00,#fffc00,#fffc00,#fffc00,#fffb00,#fffc00,#fffc00,#fffb00,#fffb00,#fffb00,#fffb00,#fffb00,#fffb00,#fffb00,#fffb00,#fffb00,#fffb00,#fffb00,#fffb00,#fffb00,#fffb00,#fffb00,#fffb00,#fffb00,#fffb00,#fffb00)"></i>
<i style="top:200px;background:linear-gradient(90deg,#a50000,#a50000,#a50000,#a50000,#a50000,#a50000,#a50000,#a50000,#a50000,#a50000,#a50000,#a50000,#a50000,#a50000,#a50000,#a50000,#a50000,#a50000,#a50000,#a60000,#a70000,#a80000,#aa0000,#ac0000,#b00000,#b40000,#b80000,#be0000,#c30000,#c90000,#cf0000,#d50000,#da0000,#e10000,#e70000,#ed0000,#f40000,#fb0000,#ff0200,#ff0800,#ff0f00,#ff1700,#ff1f00,#ff2800,#ff3100,#ff3b00,#ff4600,#ff5000,#ff5b00,#ff6600,#ff7100,#ff7b00,#ff8600,#ff8f00,#ff9900,#ffa100,#ffa900,#ffb100,#ffb800,#ffbf00,#ffc500,#ffcb00,#ffd100,#ffd700,#ffdc00,#ffe100,#ffe500,#ffe900,#ffed00,#fff000,#fff300,#fff600,#fff800,#fffa00,#fffc00,#fffe00,#ffff02,#ffff06,#ffff08,#ffff0a,#ffff0c,#ffff0e,#ffff0f,#ffff0f,#ffff0f,#ffff0f,#ffff0f,#ffff0f,#ffff0f,#ffff0f,#ffff0e,#ffff0e,#ffff0e,#ffff0d,#ffff0c,#ffff0b,#ffff0a,#ffff08,#ffff07,#ffff06,#ffff06,#ffff05,#ffff05,#ffff04,#ffff04,#ffff03,#ffff02,#ffff02,#ffff01,#ffff00,#ffff00,#fffe00,#fffe00,#fffe00,#fffd00,#fffd00,#fffd00,#fffd00,#fffd00,#fffd00,#fffd00,#fffd00,#fffc00,#fffc00,#fffc00,#fffc00,#fffc00,#fffc00,#fffc00,#fffc00,#fffc00,#fffc00,#fffc00,#fffc00,#fffc00,#fffc00,#fffc00,#fffc00,#fffc00,#fffb00,#fffb00,#fffb00,#fffb00,#fffb00,#fffb00,#fffb00,#fffb00,#fffb00)"></i>
<i style="top:204px;background:linear-gradient(90deg,#a30000,#a30000,#a30000,#a30000,#a30000,#a30000,#a30000,#a30000,#a30000,#a30000,#a30000,#a30000,#a30000,#a30000,#a30000,#a30000,#a30000,#a30000,#a30000,#a40000,#a50000,#a60000,#a80000,#ab0000,#ae0000,#b30000,#b80000,#bd0000,#c30000,#c80000,#ce0000,#d40000,#db0000,#e10000,#e70000,#ee0000,#f50000,#fc0000,#ff0400,#ff0a00,#ff1100,#ff1900,#ff2200,#ff2c00,#ff3600,#ff4100,#ff4c00,#ff5700,#ff6300,#ff6f00,#ff7b00,#ff8600,#ff9100,#ff9b00,#ffa500,#ffae00,#ffb700,#ffbe00,#ffc600,#ffcc00,#ffd300,#ffd900,#ffde00,#ffe300,#ffe800,#ffed00,#fff100,#fff500,#fff800,#fffb00,#fffd00,#ffff01,#ffff05,#ffff08,#ffff0c,#ffff0f,#ffff12,#ffff14,#ffff16,#ffff17,#ffff18,#ffff19,#ffff19,#ffff19,#ffff18,#ffff18,#ffff17,#ffff16,#ffff16,#ffff16,#ffff15,#ffff14,#ffff13,#ffff12,#ffff11,#ffff10,#ffff0e,#ffff0d,#ffff0c,#ffff0b,#ffff0a,#ffff0a,#ffff09,#ffff08,#ffff07,#ffff06,#ffff06,#ffff05,#ffff04,#ffff03,#ffff02,#ffff01,#ffff00,#ffff00,#fffe00,#fffe00,#fffd00,#fffd00,#fffd00,#fffd00,#fffd00,#fffd00,#fffd00,#fffd00,#fffd00,#fffd00,#fffc00,#fffc00,#fffc00,#fffc00,#fffc00,#fffc00,#fffc00,#fffc00,#fffc00,#fffc00,#fffc00,#fffb00,#fffb00,#fffb00,#fffb00,#fffb00,#fffb00,#fffb00,#fffb00,#fffb00,#fffb00,#fffb00)"></i>
<i style="top:208px;background:linear-gradient(90deg,#a10000,#a10000,#a10000,#a10000,#a10000,#a10000,#a10000,#a10000,#a10000,#a10000,#a10000,#a10000,#a10000,#a10000,#a10000,#a10000,#a10000,#a10000,#a20000,#a20000,#a30000,#a50000,#a70000,#aa0000,#ad0000,#b20000,#b70000,#bc0000,#c20000,#c80000,#ce0000,#d40000,#db0000,#e10000,#e80000,#ef0000,#f60000,#fe0000,#ff0500,#ff0c00,#ff1400,#ff1d00,#ff2600,#ff3000,#ff3c00,#ff4700,#ff5300,#ff6000,#ff6d00,#ff7a00,#ff8700,#ff9300,#ff9f00,#ffaa00,#ffb400,#ffbd00,#ffc600,#ffce00,#ffd500,#ffdc00,#ffe200,#ffe700,#ffec00,#fff100,#fff600,#fffa00,#fffd00,#ffff04,#ffff0a,#ffff0f,#ffff13,#ffff16,#ffff19,#ffff1a,#ffff1c,#ffff1e,#ffff20,#ffff21,#ffff22,#ffff23,#ffff23,#ffff22,#ffff22,#ffff21,#ffff20,#ffff1f,#ffff1e,#ffff1c,#ffff1b,#ffff1a,#ffff19,#ffff18,#ffff16,#ffff15,#ffff13,#ffff12,#ffff11,#ffff0f,#ffff0e,#ffff0c,#ffff0c,#ffff0b,#ffff0a,#ffff09,#ffff08,#ffff07,#ffff06,#ffff05,#ffff04,#ffff02,#ffff01,#ffff00,#fffe00,#fffe00,#fffd00,#fffd00,#fffc00,#fffc00,#fffc00,#fffc00,#fffc00,#fffb00,#fffb00,#fffb00,#fffb00,#fffb00,#fffa00,#fffa00,#fffa00,#fffa00,#fffa00,#fffa00,#fff900,#fff900,#fff900,#fff900,#fff900,#fff900,#fff900,#fff900,#fff900,#fff900,#fff900,#fff900,#fff800,#fff800,#fff800,#fff800)"></i>
<i style="top:212px;background:linear-gradient(90deg,#9f0000,#9f0000,#9f0000,#9f0000,#9f0000,#9f0000,#9f0000,#9f0000,#9f0000,#9f0000,#9f0000,#9f0000,#9f0000,#9f0000,#9f0000,#9f0000,#9f0000,#9f0000,#a00000,#a00000,#a10000,#a30000,#a50000,#a80000,#ac0000,#b10000,#b60000,#bc0000,#c20000,#c80000,#ce0000,#d50000,#db0000,#e20000,#e90000,#f00000,#f70000,#ff0100,#ff0700,#ff0f00,#ff1700,#ff2100,#ff2b00,#ff3600,#ff4300,#ff5000,#ff5d00,#ff6b00,#ff7900,#ff8700,#ff9500,#ffa300,#ffaf00,#ffbb00,#ffc600,#ffcf00,#ffd800,#ffe000,#ffe700,#ffed00,#fff200,#fff700,#fffb00,#ffff00,#ffff0a,#ffff11,#ffff17,#ffff1c,#ffff20,#ffff24,#ffff27,#ffff28,#ffff2a,#ffff2b,#ffff2b,#ffff2b,#ffff2c,#ffff2c,#ffff2c,#ffff2b,#ffff2a,#ffff29,#ffff27,#ffff26,#ffff24,#ffff21,#ffff1f,#ffff1d,#ffff1c,#ffff1a,#ffff19,#ffff17,#ffff15,#ffff14,#ffff12,#ffff10,#ffff0f,#ffff0d,#ffff0b,#ffff09,#ffff08,#ffff07,#ffff05,#ffff03,#ffff02,#ffff00,#fffe00,#fffe00,#fffd00,#fffd00,#fffc00,#fffb00,#fffb00,#fffa00,#fff900,#fff800,#fff800,#fff700,#fff700,#fff700,#fff600,#fff600,#fff600,#fff500,#fff500,#fff500,#fff500,#fff400,#fff400,#fff400,#fff400,#fff400,#fff400,#fff400,#fff400,#fff300,#fff300,#fff300,#fff300,#fff300,#fff300,#fff300,#fff300,#fff300,#fff300,#fff300,#fff300,#fff300)"></i>
<i style="top:216px;background:linear-gradient(90deg,#9d0000,#9d0000,#9d0000,#9d0000,#9d0000,#9d0000,#9d0000,#9d0000,#9d0000,#9d0000,#9d0000,#9d0000,#9d0000,#9d0000,#9d0000,#9d0000,#9d0000,#9d0000,#9e0000,#9e0000,#a00000,#a10000,#a40000,#a70000,#ab0000,#b00000,#b50000,#bb0000,#c10000,#c80000,#ce0000,#d50000,#db0000,#e20000,#ea0000,#f10000,#f90000,#ff0200,#ff0a00,#ff1200,#ff1b00,#ff2500,#ff3100,#ff3e00,#ff4b00,#ff5a00,#ff6900,#ff7800,#ff8800,#ff9700,#ffa700,#ffb500,#ffc200,#ffcf00,#ffda00,#ffe300,#ffec00,#fff300,#fffa00,#ffff01,#ffff0b,#ffff13,#ffff1a,#ffff20,#ffff25,#ffff2a,#ffff2f,#ffff33,#ffff35,#ffff37,#ffff38,#ffff38,#ffff38,#ffff37,#ffff36,#ffff34,#ffff33,#ffff32,#ffff30,#ffff2e,#ffff2b,#ffff29,#ffff27,#ffff24,#ffff21,#ffff1f,#ffff1c,#ffff19,#ffff17,#ffff15,#ffff13,#ffff11,#ffff0f,#ffff0d,#ffff0b,#ffff09,#ffff06,#ffff03,#ffff00,#fffe00,#fffd00,#fffc00,#fffb00,#fffa00,#fffa00,#fff900,#fff800,#fff700,#fff600,#fff500,#fff500,#fff400,#fff300,#fff200,#fff100,#fff000,#ffef00,#ffee00,#ffee00,#ffee00,#ffed00,#ffed00,#ffec00,#ffec00,#ffec00,#ffeb00,#ffeb00,#ffeb00,#ffeb00,#ffeb00,#ffeb00,#ffeb00,#ffeb00,#ffeb00,#ffeb00,#ffeb00,#ffeb00,#ffeb00,#ffeb00,#ffeb00,#ffeb00,#ffeb00,#ffeb00,#ffec00,#ffec00,#ffec00,#ffec00,#ffec00)"></i>
<i style="top:220px;background:linear-gradient(90deg,#9b0000,#9b0000,#9b0000,#9b0000,#9b0000,#9b0000,#9b0000,#9b0000,#9b0000,#9b0000,#9b0000,#9b0000,#9b0000,#9b0000,#9b0000,#9b0000,#9b0000,#9b0000,#9c0000,#9d0000,#9e0000,#a00000,#a20000,#a60000,#aa0000,#af0000,#b50000,#bb0000,#c10000,#c70000,#ce0000,#d50000,#dc0000,#e30000,#eb0000,#f30000,#fc0000,#ff0500,#ff0c00,#ff1500,#ff2000,#ff2b00,#ff3800,#ff4700,#ff5600,#ff6600,#ff7700,#ff8900,#ff9a00,#ffab00,#ffbc00,#ffcb00,#ffd900,#ffe600,#fff100,#fffa00,#ffff08,#ffff16,#ffff20,#ffff28,#ffff2f,#ffff34,#ffff38,#ffff3a,#ffff3e,#ffff41,#ffff43,#ffff45,#ffff46,#ffff45,#ffff43,#ffff42,#ffff3f,#ffff3c,#ffff39,#ffff36,#ffff33,#ffff30,#ffff2e,#ffff2b,#ffff27,#ffff24,#ffff21,#ffff1d,#ffff1a,#ffff17,#ffff13,#ffff10,#ffff0d,#ffff0a,#ffff07,#ffff04,#ffff01,#fffe00,#fffd00,#fffb00,#fffa00,#fff900,#fff700,#fff600,#fff400,#fff300,#fff200,#fff100,#fff000,#ffef00,#ffee00,#ffed00,#ffec00,#ffea00,#ffe900,#ffe800,#ffe700,#ffe600,#ffe500,#ffe400,#ffe200,#ffe200,#ffe100,#ffe100,#ffe100,#ffe000,#ffe000,#ffe000,#ffdf00,#ffdf00,#ffdf00,#ffdf00,#ffdf00,#ffdf00,#ffdf00,#ffe000,#ffe000,#ffe000,#ffe000,#ffe000,#ffe000,#ffe100,#ffe100,#ffe100,#ffe100,#ffe200,#ffe200,#ffe200,#ffe200,#ffe300,#ffe300,#ffe300)"></i>
<i style="top:224px;background:linear-gradient(90deg,#990000,#990000,#990000,#990000,#990000,#990000,#990000,#990000,#990000,#990000,#990000,#990000,#990000,#990000,#990000,#990000,#990000,#990000,#9a0000,#9b0000,#9c0000,#9e0000,#a10000,#a40000,#a90000,#ae0000,#b40000,#ba0000,#c10000,#c70000,#ce0000,#d50000,#dd0000,#e40000,#ec0000,#f50000,#fe0000,#ff0700,#ff1000,#ff1a00,#ff2600,#ff3300,#ff4200,#ff5200,#ff6300,#ff7600,#ff8a00,#ff9d00,#ffb000,#ffc300,#ffd400,#ffe500,#fff300,#ffff01,#ffff18,#ffff27,#ffff34,#ffff3f,#ffff46,#ffff4b,#ffff4e,#ffff50,#ffff52,#ffff52,#ffff51,#ffff52,#ffff51,#ffff4f,#ffff4c,#ffff4a,#ffff46,#ffff42,#ffff3e,#ffff3a,#ffff36,#ffff31,#ffff2e,#ffff2a,#ffff26,#ffff22,#ffff1e,#ffff19,#ffff15,#ffff11,#ffff0c,#ffff08,#ffff03,#fffe00,#fffc00,#fffb00,#fff900,#fff800,#fff600,#fff400,#fff300,#fff100,#fff000,#ffee00,#ffec00,#ffea00,#ffe900,#ffe700,#ffe600,#ffe400,#ffe300,#ffe200,#ffe100,#ffdf00,#ffde00,#ffdd00,#ffdb00,#ffda00,#ffd900,#ffd800,#ffd600,#ffd500,#ffd400,#ffd300,#ffd300,#ffd300,#ffd300,#ffd200,#ffd200,#ffd200,#ffd200,#ffd200,#ffd200,#ffd200,#ffd300,#ffd300,#ffd300,#ffd400,#ffd400,#ffd400,#ffd400,#ffd500,#ffd500,#ffd600,#ffd600,#ffd600,#ffd700,#ffd700,#ffd800,#ffd800,#ffd900,#ffd900,#ffd900,#ffda00)"></i>
<i style="top:228px;background:linear-gradient(90deg,#970000,#970000,#970000,#970000,#970000,#970000,#970000,#970000,#970000,#970000,#970000,#970000,#970000,#970000,#970000,#970000,#970000,#970000,#980000,#990000,#9a0000,#9c0000,#9f0000,#a30000,#a80000,#ad0000,#b30000,#ba0000,#c00000,#c70000,#ce0000,#d60000,#de0000,#e60000,#ee0000,#f80000,#ff0200,#ff0b00,#ff1500,#ff2000,#ff2d00,#ff3c00,#ff4d00,#ff6000,#ff7400,#ff8900,#ff9f00,#ffb500,#ffcb00,#ffdf00,#fff100,#ffff06,#ffff23,#ffff38,#ffff48,#ffff55,#ffff5d,#ffff62,#ffff65,#ffff67,#ffff67,#ffff65,#ffff62,#ffff5f,#ffff5b,#ffff57,#ffff53,#ffff4f,#ffff4b,#ffff47,#ffff42,#ffff3d,#ffff38,#ffff32,#ffff2c,#ffff27,#ffff22,#ffff1d,#ffff18,#ffff12,#ffff0d,#ffff07,#ffff01,#fffd00,#fffa00,#fff800,#fff600,#fff400,#fff200,#fff000,#ffee00,#ffec00,#ffea00,#ffe800,#ffe700,#ffe500,#ffe300,#ffe100,#ffdf00,#ffdc00,#ffdb00,#ffd900,#ffd800,#ffd600,#ffd500,#ffd300,#ffd200,#ffd000,#ffcf00,#ffce00,#ffcc00,#ffcb00,#ffca00,#ffc900,#ffc700,#ffc600,#ffc500,#ffc400,#ffc400,#ffc400,#ffc400,#ffc400,#ffc500,#ffc500,#ffc500,#ffc500,#ffc600,#ffc600,#ffc600,#ffc700,#ffc700,#ffc800,#ffc800,#ffc900,#ffc900,#ffca00,#ffca00,#ffcb00,#ffcb00,#ffcc00,#ffcd00,#ffcd00,#ffce00,#ffcf00,#ffcf00,#ffd000,#ffd000,#ffd100)"></i>
<i style="top:232px;background:linear-gradient(90deg,#940000,#940000,#940000,#940000,#940000,#940000,#950000,#950000,#950000,#950000,#950000,#950000,#950000,#950000,#950000,#950000,#950000,#950000,#960000,#970000,#990000,#9b0000,#9e0000,#a20000,#a70000,#ad0000,#b30000,#b90000,#c00000,#c70000,#cf0000,#d70000,#df0000,#e80000,#f10000,#fb0000,#ff0600,#ff0f00,#ff1a00,#ff2800,#ff3700,#ff4800,#ff5c00,#ff7200,#ff8900,#ffa100,#ffb900,#ffd200,#ffe900,#fffe00,#ffff25,#ffff41,#ffff56,#ffff66,#ffff70,#ffff77,#ffff7b,#ffff7b,#ffff79,#ffff76,#ffff71,#ffff6c,#ffff66,#ffff61,#ffff5a,#ffff54,#ffff4f,#ffff49,#ffff43,#ffff3d,#ffff37,#ffff30,#ffff2a,#ffff23,#ffff1c,#ffff15,#ffff0e,#ffff08,#ffff01,#fffc00,#fff900,#fff700,#fff400,#fff100,#ffee00,#ffec00,#ffe900,#ffe700,#ffe500,#ffe300,#ffe000,#ffde00,#ffdd00,#ffdb00,#ffd900,#ffd700,#ffd500,#ffd200,#ffd000,#ffce00,#ffcc00,#ffca00,#ffc800,#ffc700,#ffc500,#ffc400,#ffc200,#ffc100,#ffc000,#ffbe00,#ffbd00,#ffbc00,#ffbb00,#ffba00,#ffb800,#ffb700,#ffb600,#ffb600,#ffb600,#ffb600,#ffb700,#ffb700,#ffb700,#ffb800,#ffb800,#ffb900,#ffba00,#ffba00,#ffbb00,#ffbb00,#ffbc00,#ffbd00,#ffbd00,#ffbe00,#ffbf00,#ffbf00,#ffc000,#ffc100,#ffc200,#ffc200,#ffc300,#ffc400,#ffc500,#ffc600,#ffc700,#ffc700,#ffc800,#ffc800)"></i>
<i style="top:236px;background:linear-gradient(90deg,#920000,#920000,#920000,#920000,#920000,#920000,#920000,#920000,#920000,#930000,#930000,#930000,#930000,#930000,#930000,#930000,#930000,#930000,#940000,#950000,#970000,#990000,#9d0000,#a10000,#a60000,#ac0000,#b20000,#b90000,#c00000,#c80000,#cf0000,#d80000,#e10000,#ea0000,#f40000,#ff0000,#ff0a00,#ff1500,#ff2200,#ff3100,#ff4300,#ff5700,#ff6e00,#ff8800,#ffa200,#ffbd00,#ffd800,#fff200,#ffff18,#ffff3e,#ffff5b,#ffff71,#ffff81,#ffff89,#ffff8d,#ffff8b,#ffff87,#ffff82,#ffff7c,#ffff76,#ffff70,#ffff69,#ffff61,#ffff5a,#ffff52,#ffff4a,#ffff43,#ffff3c,#ffff34,#ffff2d,#ffff25,#ffff1d,#ffff15,#ffff0d,#ffff04,#fffc00,#fff900,#fff500,#fff200,#ffef00,#ffec00,#ffe900,#ffe600,#ffe300,#ffe100,#ffde00,#ffdc00,#ffd900,#ffd700,#ffd400,#ffd200,#ffd000,#ffce00,#ffcc00,#ffca00,#ffc800,#ffc600,#ffc300,#ffc100,#ffbf00,#ffbc00,#ffbb00,#ffb900,#ffb700,#ffb600,#ffb400,#ffb300,#ffb200,#ffb100,#ffaf00,#ffae00,#ffad00,#ffac00,#ffab00,#ffab00,#ffaa00,#ffa900,#ffa800,#ffa900,#ffaa00,#ffaa00,#ffab00,#ffab00,#ffac00,#ffad00,#ffae00,#ffae00,#ffaf00,#ffb000,#ffb100,#ffb200,#ffb200,#ffb300,#ffb400,#ffb500,#ffb600,#ffb700,#ffb800,#ffb900,#ffba00,#ffbb00,#ffbc00,#ffbd00,#ffbe00,#ffbf00,#ffc000,#ffc000,#ffc100)"></i>
<i style="top:240px;background:linear-gradient(90deg,#900000,#900000,#900000,#900000,#900000,#900000,#900000,#900000,#900000,#900000,#900000,#910000,#910000,#910000,#910000,#910000,#910000,#920000,#920000,#930000,#950000,#980000,#9b0000,#a00000,#a50000,#ab0000,#b20000,#b90000,#c00000,#c80000,#d00000,#d90000,#e30000,#ed0000,#f80000,#ff0500,#ff1000,#ff1d00,#ff2c00,#ff3e00,#ff5300,#ff6b00,#ff8500,#ffa200,#ffc100,#ffdf00,#fffc00,#ffff2f,#ffff58,#ffff76,#ffff8b,#ffff97,#ffff9a,#ffff98,#ffff93,#ffff8c,#ffff85,#ffff7e,#ffff76,#ffff6e,#ffff65,#ffff5d,#ffff55,#ffff4b,#ffff42,#ffff39,#ffff30,#ffff27,#ffff1e,#ffff15,#ffff0b,#ffff01,#fffb00,#fff600,#fff200,#ffee00,#ffea00,#ffe700,#ffe400,#ffe000,#ffdd00,#ffda00,#ffd700,#ffd400,#ffd200,#ffcf00,#ffcd00,#ffcb00,#ffc800,#ffc600,#ffc300,#ffc100,#ffbf00,#ffbd00,#ffbb00,#ffb900,#ffb600,#ffb400,#ffb200,#ffb000,#ffad00,#ffac00,#ffaa00,#ffa900,#ffa700,#ffa600,#ffa500,#ffa300,#ffa200,#ffa200,#ffa100,#ffa000,#ff9f00,#ff9e00,#ff9e00,#ff9d00,#ff9d00,#ff9c00,#ff9d00,#ff9e00,#ff9f00,#ffa000,#ffa100,#ffa200,#ffa200,#ffa300,#ffa400,#ffa500,#ffa600,#ffa700,#ffa800,#ffa900,#ffaa00,#ffab00,#ffac00,#ffad00,#ffae00,#ffaf00,#ffb000,#ffb200,#ffb300,#ffb400,#ffb500,#ffb600,#ffb800,#ffb800,#ffb900,#ffba00)"></i>
<i style="top:244px;background:linear-gradient(90deg,#8e0000,#8e0000,#8e0000,#8e0000,#8e0000,#8e0000,#8e0000,#8e0000,#8e0000,#8e0000,#8e0000,#8f0000,#8f0000,#8f0000,#8f0000,#8f0000,#8f0000,#900000,#900000,#920000,#940000,#960000,#9a0000,#9f0000,#a40000,#ab0000,#b10000,#b90000,#c00000,#c90000,#d20000,#db0000,#e50000,#f10000,#fe0000,#ff0a00,#ff1800,#ff2700,#ff3900,#ff4f00,#ff6700,#ff8300,#ffa200,#ffc300,#ffe400,#ffff0c,#ffff43,#ffff6d,#ffff8c,#ffff9f,#ffffa7,#ffffa6,#ffff9f,#ffff96,#ffff8d,#ffff84,#ffff7b,#ffff71,#ffff67,#ffff5d,#ffff53,#ffff4a,#ffff40,#ffff36,#ffff2b,#ffff20,#ffff15,#ffff0a,#fffe00,#fff900,#fff400,#ffef00,#ffeb00,#ffe600,#ffe200,#ffde00,#ffda00,#ffd700,#ffd400,#ffd100,#ffce00,#ffcb00,#ffc800,#ffc500,#ffc200,#ffc000,#ffbe00,#ffbc00,#ffba00,#ffb700,#ffb500,#ffb200,#ffb000,#ffae00,#ffac00,#ffaa00,#ffa800,#ffa500,#ffa300,#ffa100,#ff9f00,#ff9d00,#ff9c00,#ff9a00,#ff9900,#ff9800,#ff9700,#ff9600,#ff9500,#ff9400,#ff9400,#ff9300,#ff9300,#ff9200,#ff9200,#ff9200,#ff9200,#ff9200,#ff9300,#ff9400,#ff9500,#ff9600,#ff9700,#ff9800,#ff9900,#ff9a00,#ff9b00,#ff9c00,#ff9e00,#ff9f00,#ffa000,#ffa100,#ffa200,#ffa300,#ffa400,#ffa500,#ffa700,#ffa800,#ffa900,#ffaa00,#ffac00,#ffad00,#ffae00,#ffb000,#ffb100,#ffb200,#ffb300,#ffb400)"></i>
<i style="top:248px;background:linear-gradient(90deg,#8c0000,#8c0000,#8c0000,#8c0000,#8c0000,#8c0000,#8c0000,#8c0000,#8c0000,#8c0000,#8c0000,#8d0000,#8d0000,#8d0000,#8d0000,#8d0000,#8d0000,#8e0000,#8f0000,#900000,#920000,#950000,#990000,#9e0000,#a40000,#aa0000,#b10000,#b90000,#c10000,#ca0000,#d30000,#de0000,#e90000,#f60000,#ff0500,#ff1200,#ff2100,#ff3400,#ff4b00,#ff6400,#ff8200,#ffa200,#ffc500,#ffe900,#ffff1b,#ffff54,#ffff80,#ffff9e,#ffffaf,#ffffb2,#ffffad,#ffffa4,#ffff99,#ffff8c,#ffff80,#ffff73,#ffff67,#ffff5b,#ffff4f,#ffff44,#ffff39,#ffff2e,#ffff23,#ffff18,#ffff0b,#fffe00,#fff800,#fff200,#ffed00,#ffe800,#ffe300,#ffde00,#ffd900,#ffd500,#ffd100,#ffcd00,#ffc900,#ffc600,#ffc300,#ffc000,#ffbd00,#ffbb00,#ffb800,#ffb500,#ffb300,#ffb100,#ffaf00,#ffad00,#ffab00,#ffa800,#ffa600,#ffa400,#ffa200,#ff9f00,#ff9d00,#ff9b00,#ff9900,#ff9700,#ff9500,#ff9300,#ff9100,#ff8f00,#ff8e00,#ff8d00,#ff8c00,#ff8b00,#ff8a00,#ff8900,#ff8900,#ff8800,#ff8800,#ff8800,#ff8800,#ff8800,#ff8800,#ff8800,#ff8800,#ff8800,#ff8900,#ff8a00,#ff8c00,#ff8d00,#ff8e00,#ff8f00,#ff9100,#ff9200,#ff9300,#ff9400,#ff9600,#ff9700,#ff9800,#ff9900,#ff9b00,#ff9c00,#ff9d00,#ff9e00,#ffa000,#ffa100,#ffa300,#ffa400,#ffa500,#ffa700,#ffa800,#ffaa00,#ffab00,#ffac00,#ffad00,#ffae00)"></i>
<i style="top:252px;background:linear-gradient(90deg,#8a0000,#8a0000,#8a0000,#8a0000,#8a0000,#8a0000,#8a0000,#8a0000,#8a0000,#8a0000,#8b0000,#8b0000,#8b0000,#8b0000,#8b0000,#8b0000,#8b0000,#8c0000,#8d0000,#8e0000,#910000,#940000,#980000,#9d0000,#a30000,#aa0000,#b10000,#b90000,#c20000,#cb0000,#d60000,#e10000,#ee0000,#fd0000,#ff0c00,#ff1c00,#ff2f00,#ff4600,#ff6100,#ff8100,#ffa300,#ffc900,#ffef00,#ffff2c,#ffff66,#ffff92,#ffffb0,#ffffbc,#ffffbb,#ffffb4,#ffffa8,#ffff9a,#ffff8b,#ffff7b,#ffff69,#ffff5a,#ffff4b,#ffff3d,#ffff30,#ffff23,#ffff16,#ffff09,#fffd00,#fff700,#fff100,#ffeb00,#ffe500,#ffe000,#ffda00,#ffd500,#ffd000,#ffcb00,#ffc700,#ffc300,#ffbf00,#ffbb00,#ffb800,#ffb500,#ffb200,#ffb000,#ffad00,#ffaa00,#ffa800,#ffa600,#ffa300,#ffa100,#ff9f00,#ff9e00,#ff9c00,#ff9a00,#ff9800,#ff9500,#ff9300,#ff9100,#ff8f00,#ff8e00,#ff8c00,#ff8a00,#ff8800,#ff8600,#ff8400,#ff8200,#ff8100,#ff8000,#ff7f00,#ff7f00,#ff7e00,#ff7e00,#ff7e00,#ff7d00,#ff7d00,#ff7d00,#ff7e00,#ff7e00,#ff7e00,#ff7e00,#ff7f00,#ff7f00,#ff8100,#ff8200,#ff8300,#ff8500,#ff8600,#ff8800,#ff8900,#ff8a00,#ff8c00,#ff8d00,#ff8f00,#ff9000,#ff9100,#ff9300,#ff9400,#ff9500,#ff9700,#ff9800,#ff9a00,#ff9b00,#ff9d00,#ff9e00,#ffa000,#ffa100,#ffa300,#ffa400,#ffa600,#ffa700,#ffa800,#ffa900)"></i>
<i style="top:256px;background:linear-gradient(90deg,#880000,#880000,#880000,#880000,#880000,#880000,#880000,#890000,#890000,#890000,#890000,#890000,#890000,#890000,#890000,#890000,#8a0000,#8a0000,#8b0000,#8d0000,#8f0000,#920000,#970000,#9c0000,#a20000,#a90000,#b10000,#ba0000,#c30000,#cd0000,#d90000,#e60000,#f50000,#ff0600,#ff1600,#ff2900,#ff4000,#ff5d00,#ff7f00,#ffa500,#ffcd00,#fff600,#ffff3d,#ffff79,#ffffa6,#ffffc1,#ffffc9,#ffffc3,#ffffb9,#ffffac,#ffff9b,#ffff89,#ffff75,#ffff5f,#ffff4b,#ffff38,#ffff27,#ffff16,#ffff07,#fffa00,#fff400,#ffee00,#ffe800,#ffe200,#ffdd00,#ffd700,#ffd200,#ffcc00,#ffc700,#ffc200,#ffbd00,#ffb800,#ffb400,#ffb000,#ffad00,#ffaa00,#ffa700,#ffa400,#ffa200,#ff9f00,#ff9d00,#ff9b00,#ff9800,#ff9600,#ff9400,#ff9200,#ff9100,#ff8f00,#ff8e00,#ff8c00,#ff8a00,#ff8800,#ff8600,#ff8400,#ff8200,#ff8100,#ff7f00,#ff7d00,#ff7b00,#ff7a00,#ff7800,#ff7600,#ff7600,#ff7500,#ff7400,#ff7400,#ff7300,#ff7300,#ff7300,#ff7300,#ff7400,#ff7400,#ff7400,#ff7500,#ff7500,#ff7600,#ff7700,#ff7800,#ff7900,#ff7a00,#ff7c00,#ff7d00,#ff7f00,#ff8100,#ff8200,#ff8400,#ff8500,#ff8700,#ff8800,#ff8a00,#ff8b00,#ff8c00,#ff8e00,#ff8f00,#ff9100,#ff9200,#ff9400,#ff9500,#ff9700,#ff9900,#ff9a00,#ff9c00,#ff9e00,#ff9f00,#ffa100,#ffa200,#ffa400,#ffa500)"></i>
<i style="top:260px;background:linear-gradient(90deg,#860000,#860000,#860000,#860000,#870000,#870000,#870000,#870000,#870000,#870000,#870000,#870000,#870000,#870000,#870000,#870000,#880000,#880000,#8a0000,#8b0000,#8e0000,#910000,#960000,#9b0000,#a20000,#a90000,#b10000,#ba0000,#c50000,#d00000,#dd0000,#ec0000,#fe0000,#ff0f00,#ff2300,#ff3b00,#ff5900,#ff7c00,#ffa500,#ffd100,#fffe00,#ffff51,#ffff8d,#ffffb8,#ffffd0,#ffffd2,#ffffca,#ffffbe,#ffffae,#ffff9b,#ffff85,#ffff6e,#ffff55,#ffff3d,#ffff25,#ffff0e,#fffb00,#fff200,#ffeb00,#ffe400,#ffdd00,#ffd800,#ffd200,#ffcd00,#ffc800,#ffc300,#ffbd00,#ffb800,#ffb300,#ffae00,#ffaa00,#ffa600,#ffa200,#ff9e00,#ff9b00,#ff9800,#ff9600,#ff9300,#ff9100,#ff8f00,#ff8d00,#ff8b00,#ff8900,#ff8700,#ff8600,#ff8400,#ff8300,#ff8100,#ff8000,#ff7f00,#ff7d00,#ff7b00,#ff7900,#ff7700,#ff7600,#ff7400,#ff7300,#ff7100,#ff7000,#ff6e00,#ff6d00,#ff6b00,#ff6b00,#ff6a00,#ff6a00,#ff6900,#ff6900,#ff6900,#ff6a00,#ff6a00,#ff6b00,#ff6b00,#ff6c00,#ff6d00,#ff6e00,#ff6e00,#ff6f00,#ff7000,#ff7200,#ff7400,#ff7500,#ff7700,#ff7900,#ff7a00,#ff7c00,#ff7e00,#ff7f00,#ff8100,#ff8200,#ff8400,#ff8500,#ff8700,#ff8800,#ff8a00,#ff8c00,#ff8d00,#ff8f00,#ff9000,#ff9200,#ff9400,#ff9600,#ff9800,#ff9900,#ff9b00,#ff9d00,#ff9e00,#ff9f00,#ffa100)"></i>
<i style="top:264px;background:linear-gradient(90deg,#850000,#850000,#850000,#850000,#850000,#850000,#850000,#850000,#850000,#850000,#850000,#850000,#850000,#850000,#850000,#860000,#860000,#870000,#880000,#8a0000,#8c0000,#900000,#950000,#9a0000,#a10000,#a90000,#b20000,#bc0000,#c70000,#d30000,#e20000,#f40000,#ff0800,#ff1d00,#ff3600,#ff5500,#ff7900,#ffa500,#ffd400,#ffff0e,#ffff61,#ffffa0,#ffffca,#ffffdc,#ffffdb,#ffffd1,#ffffc3,#ffffb0,#ffff9a,#ffff81,#ffff66,#ffff4b,#ffff2f,#ffff11,#fff900,#ffed00,#ffe300,#ffda00,#ffd200,#ffcc00,#ffc600,#ffc100,#ffbc00,#ffb700,#ffb200,#ffae00,#ffa900,#ffa400,#ff9f00,#ff9b00,#ff9700,#ff9300,#ff8f00,#ff8c00,#ff8900,#ff8700,#ff8500,#ff8300,#ff8100,#ff8000,#ff7e00,#ff7c00,#ff7b00,#ff7900,#ff7800,#ff7600,#ff7500,#ff7400,#ff7300,#ff7200,#ff7100,#ff6f00,#ff6d00,#ff6c00,#ff6a00,#ff6900,#ff6700,#ff6600,#ff6500,#ff6400,#ff6200,#ff6100,#ff6100,#ff6000,#ff6000,#ff6000,#ff6000,#ff6100,#ff6100,#ff6200,#ff6300,#ff6300,#ff6400,#ff6500,#ff6600,#ff6800,#ff6900,#ff6a00,#ff6c00,#ff6d00,#ff6f00,#ff7100,#ff7300,#ff7400,#ff7600,#ff7800,#ff7a00,#ff7b00,#ff7d00,#ff7f00,#ff8000,#ff8200,#ff8300,#ff8500,#ff8700,#ff8800,#ff8a00,#ff8c00,#ff8e00,#ff9000,#ff9100,#ff9300,#ff9500,#ff9700,#ff9900,#ff9a00,#ff9c00,#ff9d00)"></i>
<i style="top:268px;background:linear-gradient(90deg,#830000,#830000,#830000,#830000,#830000,#830000,#830000,#830000,#830000,#830000,#830000,#830000,#830000,#840000,#840000,#840000,#840000,#850000,#860000,#880000,#8b0000,#8f0000,#940000,#990000,#a00000,#a90000,#b20000,#bd0000,#ca0000,#d80000,#ea0000,#ff0100,#ff1500,#ff3000,#ff5000,#ff7700,#ffa500,#ffd800,#ffff1c,#ffff71,#ffffb0,#ffffd7,#ffffe6,#ffffe2,#ffffd6,#ffffc5,#ffffb0,#ffff97,#ffff7c,#ffff5e,#ffff40,#ffff20,#fffd00,#ffee00,#ffe000,#ffd400,#ffca00,#ffc100,#ffba00,#ffb400,#ffaf00,#ffaa00,#ffa600,#ffa100,#ff9d00,#ff9900,#ff9500,#ff9100,#ff8c00,#ff8800,#ff8400,#ff8100,#ff7e00,#ff7b00,#ff7800,#ff7700,#ff7500,#ff7400,#ff7200,#ff7100,#ff6f00,#ff6e00,#ff6d00,#ff6c00,#ff6a00,#ff6900,#ff6800,#ff6800,#ff6700,#ff6600,#ff6500,#ff6300,#ff6200,#ff6000,#ff5f00,#ff5e00,#ff5d00,#ff5c00,#ff5b00,#ff5a00,#ff5900,#ff5800,#ff5700,#ff5700,#ff5700,#ff5700,#ff5800,#ff5900,#ff5900,#ff5a00,#ff5b00,#ff5c00,#ff5d00,#ff5f00,#ff6000,#ff6100,#ff6300,#ff6400,#ff6600,#ff6800,#ff6a00,#ff6c00,#ff6d00,#ff6f00,#ff7100,#ff7300,#ff7500,#ff7600,#ff7800,#ff7a00,#ff7b00,#ff7d00,#ff7f00,#ff8100,#ff8200,#ff8400,#ff8600,#ff8800,#ff8a00,#ff8b00,#ff8d00,#ff8f00,#ff9100,#ff9300,#ff9500,#ff9700,#ff9800,#ff9900)"></i>
<i style="top:272px;background:linear-gradient(90deg,#810000,#810000,#810000,#810000,#810000,#810000,#810000,#810000,#810000,#810000,#820000,#820000,#820000,#820000,#820000,#820000,#830000,#840000,#850000,#870000,#8a0000,#8e0000,#920000,#980000,#a00000,#a90000,#b30000,#c00000,#ce0000,#df0000,#f50000,#ff0e00,#ff2800,#ff4a00,#ff7400,#ffa600,#ffdc00,#ffff29,#ffff81,#ffffbf,#ffffe2,#ffffeb,#ffffe5,#ffffd9,#ffffc7,#ffffaf,#ffff93,#ffff76,#ffff56,#ffff34,#ffff11,#fff400,#ffe400,#ffd400,#ffc600,#ffbb00,#ffb100,#ffa900,#ffa200,#ff9d00,#ff9800,#ff9400,#ff9000,#ff8c00,#ff8800,#ff8500,#ff8100,#ff7d00,#ff7900,#ff7600,#ff7200,#ff6f00,#ff6d00,#ff6a00,#ff6800,#ff6700,#ff6600,#ff6500,#ff6400,#ff6300,#ff6200,#ff6100,#ff6000,#ff5f00,#ff5e00,#ff5d00,#ff5c00,#ff5c00,#ff5b00,#ff5b00,#ff5a00,#ff5900,#ff5700,#ff5600,#ff5500,#ff5400,#ff5300,#ff5200,#ff5100,#ff5100,#ff5000,#ff4f00,#ff4f00,#ff4f00,#ff4f00,#ff5000,#ff5000,#ff5100,#ff5200,#ff5300,#ff5400,#ff5600,#ff5700,#ff5800,#ff5a00,#ff5b00,#ff5d00,#ff5f00,#ff6100,#ff6300,#ff6500,#ff6700,#ff6800,#ff6a00,#ff6c00,#ff6e00,#ff7000,#ff7200,#ff7400,#ff7500,#ff7700,#ff7900,#ff7b00,#ff7c00,#ff7e00,#ff8000,#ff8200,#ff8400,#ff8600,#ff8800,#ff8a00,#ff8c00,#ff8e00,#ff9000,#ff9200,#ff9300,#ff9500,#ff9600)"></i>
<i style="top:276px;background:linear-gradient(90deg,#7f0000,#7f0000,#7f0000,#7f0000,#7f0000,#7f0000,#800000,#800000,#800000,#800000,#800000,#800000,#800000,#800000,#800000,#810000,#810000,#820000,#830000,#850000,#880000,#8c0000,#910000,#980000,#a00000,#aa0000,#b50000,#c30000,#d40000,#e90000,#ff0500,#ff2000,#ff4200,#ff6f00,#ffa500,#ffe100,#ffff3a,#ffff92,#ffffce,#ffffec,#ffffee,#ffffe6,#ffffd7,#ffffc4,#ffffac,#ffff8e,#ffff6e,#ffff4c,#ffff28,#fffe00,#ffeb00,#ffda00,#ffc900,#ffba00,#ffad00,#ffa200,#ff9900,#ff9100,#ff8b00,#ff8600,#ff8200,#ff7e00,#ff7b00,#ff7800,#ff7400,#ff7200,#ff6f00,#ff6b00,#ff6800,#ff6400,#ff6100,#ff5f00,#ff5c00,#ff5a00,#ff5900,#ff5800,#ff5700,#ff5700,#ff5600,#ff5500,#ff5500,#ff5400,#ff5300,#ff5300,#ff5200,#ff5200,#ff5100,#ff5100,#ff5100,#ff5000,#ff5000,#ff4f00,#ff4e00,#ff4d00,#ff4c00,#ff4b00,#ff4a00,#ff4a00,#ff4900,#ff4800,#ff4800,#ff4700,#ff4700,#ff4700,#ff4800,#ff4800,#ff4900,#ff4a00,#ff4b00,#ff4d00,#ff4e00,#ff5000,#ff5100,#ff5300,#ff5400,#ff5600,#ff5800,#ff5a00,#ff5c00,#ff5e00,#ff6000,#ff6200,#ff6400,#ff6600,#ff6800,#ff6a00,#ff6c00,#ff6e00,#ff7000,#ff7100,#ff7300,#ff7500,#ff7700,#ff7900,#ff7a00,#ff7c00,#ff7e00,#ff8000,#ff8200,#ff8400,#ff8600,#ff8900,#ff8b00,#ff8d00,#ff8f00,#ff9000,#ff9200,#ff9300)"></i>
<i style="top:280px;background:linear-gradient(90deg,#7e0000,#7e0000,#7e0000,#7e0000,#7e0000,#7e0000,#7e0000,#7e0000,#7e0000,#7e0000,#7e0000,#7e0000,#7e0000,#7f0000,#7f0000,#7f0000,#800000,#800000,#820000,#840000,#870000,#8b0000,#900000,#980000,#a10000,#ac0000,#b90000,#c80000,#dc0000,#f70000,#ff1500,#ff3900,#ff6700,#ffa200,#ffe300,#ffff48,#ffffa5,#ffffe0,#fffff6,#fffff2,#ffffe6,#ffffd5,#ffffbf,#ffffa4,#ffff86,#ffff64,#ffff40,#ffff18,#fff500,#ffe200,#ffd000,#ffbe00,#ffaf00,#ffa100,#ff9500,#ff8a00,#ff8100,#ff7a00,#ff7500,#ff7100,#ff6d00,#ff6a00,#ff6700,#ff6400,#ff6200,#ff5f00,#ff5d00,#ff5a00,#ff5700,#ff5400,#ff5100,#ff4f00,#ff4d00,#ff4b00,#ff4a00,#ff4a00,#ff4900,#ff4900,#ff4900,#ff4900,#ff4800,#ff4800,#ff4800,#ff4700,#ff4700,#ff4700,#ff4700,#ff4700,#ff4600,#ff4600,#ff4600,#ff4500,#ff4400,#ff4400,#ff4300,#ff4200,#ff4200,#ff4100,#ff4100,#ff4100,#ff4000,#ff4000,#ff4000,#ff4000,#ff4100,#ff4200,#ff4300,#ff4400,#ff4500,#ff4700,#ff4800,#ff4a00,#ff4c00,#ff4e00,#ff4f00,#ff5100,#ff5300,#ff5500,#ff5800,#ff5a00,#ff5c00,#ff5e00,#ff6000,#ff6200,#ff6400,#ff6600,#ff6800,#ff6a00,#ff6c00,#ff6e00,#ff6f00,#ff7100,#ff7300,#ff7500,#ff7700,#ff7900,#ff7b00,#ff7d00,#ff7f00,#ff8100,#ff8300,#ff8600,#ff8800,#ff8a00,#ff8c00,#ff8e00,#ff8f00,#ff9000)"></i>
<i style="top:284px;background:linear-gradient(90deg,#7c0000,#7c0000,#7c0000,#7c0000,#7c0000,#7c0000,#7c0000,#7c0000,#7c0000,#7c0000,#7c0000,#7d0000,#7d0000,#7d0000,#7d0000,#7d0000,#7e0000,#7f0000,#800000,#820000,#850000,#8a0000,#900000,#980000,#a20000,#af0000,#be0000,#d10000,#eb0000,#ff0b00,#ff2e00,#ff5e00,#ff9900,#ffe100,#ffff51,#ffffb3,#ffffee,#fffffc,#fffff4,#ffffe6,#ffffd1,#ffffb7,#ffff9a,#ffff79,#ffff55,#ffff30,#ffff06,#ffec00,#ffd800,#ffc500,#ffb400,#ffa400,#ff9500,#ff8800,#ff7d00,#ff7300,#ff6b00,#ff6500,#ff6000,#ff5c00,#ff5900,#ff5600,#ff5400,#ff5200,#ff5000,#ff4e00,#ff4c00,#ff4900,#ff4700,#ff4400,#ff4200,#ff4000,#ff3f00,#ff3d00,#ff3d00,#ff3c00,#ff3c00,#ff3d00,#ff3d00,#ff3d00,#ff3d00,#ff3d00,#ff3d00,#ff3d00,#ff3d00,#ff3d00,#ff3d00,#ff3d00,#ff3d00,#ff3d00,#ff3d00,#ff3d00,#ff3c00,#ff3b00,#ff3b00,#ff3a00,#ff3a00,#ff3a00,#ff3a00,#ff3900,#ff3900,#ff3900,#ff3900,#ff3a00,#ff3b00,#ff3c00,#ff3d00,#ff3e00,#ff4000,#ff4100,#ff4300,#ff4500,#ff4700,#ff4900,#ff4b00,#ff4d00,#ff4f00,#ff5100,#ff5300,#ff5600,#ff5800,#ff5a00,#ff5c00,#ff5e00,#ff6000,#ff6200,#ff6400,#ff6600,#ff6800,#ff6a00,#ff6c00,#ff6e00,#ff7000,#ff7200,#ff7400,#ff7600,#ff7800,#ff7a00,#ff7c00,#ff7e00,#ff8000,#ff8300,#ff8500,#ff8700,#ff8900,#ff8b00,#ff8d00,#ff8e00)"></i>
<i style="top:288px;background:linear-gradient(90deg,#7a0000,#7a0000,#7a0000,#7a0000,#7a0000,#7a0000,#7b0000,#7b0000,#7b0000,#7b0000,#7b0000,#7b0000,#7b0000,#7b0000,#7c0000,#7c0000,#7c0000,#7d0000,#7f0000,#810000,#840000,#890000,#900000,#990000,#a40000,#b30000,#c60000,#df0000,#ff0100,#ff2400,#ff5300,#ff8f00,#ffd900,#ffff51,#ffffbd,#fffff8,#ffffff,#fffff6,#ffffe4,#ffffcc,#ffffaf,#ffff8e,#ffff69,#ffff44,#ffff1c,#fff700,#ffe200,#ffce00,#ffbb00,#ffa900,#ff9900,#ff8a00,#ff7d00,#ff7100,#ff6700,#ff5e00,#ff5700,#ff5100,#ff4d00,#ff4900,#ff4700,#ff4400,#ff4300,#ff4100,#ff3f00,#ff3d00,#ff3c00,#ff3a00,#ff3800,#ff3600,#ff3400,#ff3200,#ff3100,#ff3000,#ff3000,#ff3000,#ff3000,#ff3100,#ff3200,#ff3200,#ff3200,#ff3300,#ff3300,#ff3300,#ff3300,#ff3400,#ff3400,#ff3400,#ff3400,#ff3500,#ff3500,#ff3500,#ff3400,#ff3400,#ff3300,#ff3300,#ff3300,#ff3300,#ff3300,#ff3300,#ff3300,#ff3300,#ff3300,#ff3400,#ff3500,#ff3600,#ff3800,#ff3900,#ff3b00,#ff3d00,#ff3e00,#ff4000,#ff4200,#ff4500,#ff4700,#ff4900,#ff4b00,#ff4e00,#ff5000,#ff5200,#ff5400,#ff5600,#ff5900,#ff5b00,#ff5d00,#ff5f00,#ff6100,#ff6300,#ff6500,#ff6700,#ff6900,#ff6b00,#ff6d00,#ff6f00,#ff7100,#ff7300,#ff7500,#ff7700,#ff7900,#ff7c00,#ff7e00,#ff8000,#ff8200,#ff8500,#ff8700,#ff8900,#ff8a00,#ff8c00)"></i>
<i style="top:292px;background:linear-gradient(90deg,#790000,#790000,#790000,#790000,#790000,#790000,#790000,#790000,#790000,#790000,#790000,#790000,#7a0000,#7a0000,#7a0000,#7a0000,#7b0000,#7c0000,#7d0000,#7f0000,#830000,#890000,#910000,#9b0000,#a80000,#ba0000,#d20000,#f20000,#ff1900,#ff4800,#ff8700,#ffd300,#ffff47,#ffffbe,#fffffd,#ffffff,#fffff8,#ffffe2,#ffffc6,#ffffa5,#ffff80,#ffff5a,#ffff32,#ffff05,#ffeb00,#ffd500,#ffc200,#ffaf00,#ff9e00,#ff8e00,#ff7f00,#ff7200,#ff6600,#ff5b00,#ff5200,#ff4a00,#ff4300,#ff3e00,#ff3a00,#ff3800,#ff3600,#ff3400,#ff3200,#ff3100,#ff2f00,#ff2e00,#ff2d00,#ff2b00,#ff2a00,#ff2800,#ff2600,#ff2500,#ff2400,#ff2400,#ff2400,#ff2400,#ff2500,#ff2600,#ff2700,#ff2800,#ff2800,#ff2900,#ff2900,#ff2a00,#ff2a00,#ff2b00,#ff2b00,#ff2c00,#ff2c00,#ff2d00,#ff2d00,#ff2d00,#ff2d00,#ff2d00,#ff2c00,#ff2c00,#ff2c00,#ff2c00,#ff2d00,#ff2d00,#ff2d00,#ff2d00,#ff2e00,#ff2f00,#ff3000,#ff3100,#ff3300,#ff3400,#ff3600,#ff3800,#ff3a00,#ff3c00,#ff3e00,#ff4100,#ff4300,#ff4500,#ff4800,#ff4a00,#ff4c00,#ff4f00,#ff5100,#ff5300,#ff5500,#ff5800,#ff5a00,#ff5c00,#ff5e00,#ff6000,#ff6200,#ff6400,#ff6600,#ff6800,#ff6a00,#ff6c00,#ff6e00,#ff7000,#ff7200,#ff7400,#ff7700,#ff7900,#ff7b00,#ff7e00,#ff8000,#ff8200,#ff8400,#ff8600,#ff8800,#ff8a00)"></i>
<i style="top:296px;background:linear-gradient(90deg,#770000,#770000,#770000,#770000,#770000,#770000,#770000,#780000,#780000,#780000,#780000,#780000,#780000,#780000,#790000,#790000,#790000,#7a0000,#7c0000,#7e0000,#830000,#890000,#920000,#9e0000,#ae0000,#c40000,#e30000,#ff0c00,#ff3a00,#ff7a00,#ffc900,#ffff40,#ffffb9,#fffffe,#ffffff,#fffff9,#ffffe1,#ffffc1,#ffff9c,#ffff74,#ffff4a,#ffff1d,#fff500,#ffde00,#ffc900,#ffb500,#ffa300,#ff9200,#ff8200,#ff7400,#ff6700,#ff5b00,#ff5000,#ff4600,#ff3e00,#ff3700,#ff3100,#ff2d00,#ff2a00,#ff2700,#ff2600,#ff2400,#ff2300,#ff2200,#ff2100,#ff2000,#ff1f00,#ff1e00,#ff1d00,#ff1b00,#ff1a00,#ff1900,#ff1900,#ff1800,#ff1900,#ff1900,#ff1a00,#ff1c00,#ff1d00,#ff1e00,#ff1f00,#ff2000,#ff2100,#ff2100,#ff2200,#ff2300,#ff2300,#ff2400,#ff2500,#ff2500,#ff2600,#ff2600,#ff2600,#ff2600,#ff2600,#ff2600,#ff2600,#ff2700,#ff2700,#ff2700,#ff2800,#ff2800,#ff2900,#ff2a00,#ff2b00,#ff2c00,#ff2e00,#ff3000,#ff3200,#ff3400,#ff3600,#ff3800,#ff3b00,#ff3d00,#ff3f00,#ff4200,#ff4400,#ff4700,#ff4900,#ff4b00,#ff4e00,#ff5000,#ff5200,#ff5500,#ff5700,#ff5900,#ff5b00,#ff5d00,#ff5f00,#ff6100,#ff6300,#ff6500,#ff6700,#ff6900,#ff6b00,#ff6e00,#ff7000,#ff7200,#ff7400,#ff7700,#ff7900,#ff7c00,#ff7e00,#ff8000,#ff8200,#ff8500,#ff8600,#ff8800)"></i>
<i style="top:300px;background:linear-gradient(90deg,#760000,#760000,#760000,#760000,#760000,#760000,#760000,#760000,#760000,#760000,#760000,#770000,#770000,#770000,#770000,#780000,#780000,#790000,#7b0000,#7e0000,#830000,#8a0000,#940000,#a30000,#b70000,#d30000,#fd0000,#ff2a00,#ff6700,#ffb900,#ffff2d,#ffffb5,#fffffd,#ffffff,#fffffa,#ffffe0,#ffffbc,#ffff93,#ffff67,#ffff39,#ffff06,#ffe800,#ffd100,#ffbc00,#ffa800,#ff9600,#ff8500,#ff7600,#ff6800,#ff5b00,#ff5000,#ff4500,#ff3c00,#ff3300,#ff2c00,#ff2600,#ff2100,#ff1d00,#ff1a00,#ff1800,#ff1700,#ff1600,#ff1500,#ff1400,#ff1300,#ff1300,#ff1200,#ff1100,#ff1000,#ff0f00,#ff0e00,#ff0e00,#ff0e00,#ff0e00,#ff0e00,#ff0f00,#ff1100,#ff1200,#ff1400,#ff1500,#ff1600,#ff1800,#ff1900,#ff1900,#ff1a00,#ff1b00,#ff1c00,#ff1d00,#ff1e00,#ff1e00,#ff1f00,#ff1f00,#ff2000,#ff2000,#ff2000,#ff2000,#ff2100,#ff2100,#ff2200,#ff2200,#ff2300,#ff2300,#ff2400,#ff2500,#ff2700,#ff2800,#ff2a00,#ff2c00,#ff2e00,#ff3000,#ff3200,#ff3500,#ff3700,#ff3a00,#ff3c00,#ff3f00,#ff4100,#ff4400,#ff4600,#ff4900,#ff4b00,#ff4d00,#ff5000,#ff5200,#ff5400,#ff5600,#ff5800,#ff5a00,#ff5c00,#ff5e00,#ff6000,#ff6300,#ff6500,#ff6700,#ff6900,#ff6b00,#ff6e00,#ff7000,#ff7200,#ff7500,#ff7700,#ff7900,#ff7c00,#ff7e00,#ff8100,#ff8300,#ff8500,#ff8600)"></i>
<i style="top:304px;background:linear-gradient(90deg,#740000,#740000,#750000,#750000,#750000,#750000,#750000,#750000,#750000,#750000,#750000,#750000,#750000,#760000,#760000,#760000,#770000,#780000,#7a0000,#7e0000,#840000,#8c0000,#980000,#aa0000,#c30000,#ea0000,#ff1900,#ff5400,#ffa300,#ffff0a,#ffffa7,#fffffc,#ffffff,#fffffa,#ffffde,#ffffb9,#ffff8c,#ffff5c,#ffff29,#fff700,#ffdc00,#ffc500,#ffaf00,#ff9b00,#ff8900,#ff7900,#ff6a00,#ff5c00,#ff5000,#ff4500,#ff3a00,#ff3100,#ff2900,#ff2100,#ff1b00,#ff1600,#ff1100,#ff0e00,#ff0c00,#ff0a00,#ff0900,#ff0800,#ff0800,#ff0700,#ff0700,#ff0700,#ff0600,#ff0600,#ff0500,#ff0400,#ff0400,#ff0300,#ff0300,#ff0400,#ff0500,#ff0600,#ff0700,#ff0900,#ff0b00,#ff0d00,#ff0e00,#ff1000,#ff1100,#ff1200,#ff1300,#ff1400,#ff1500,#ff1600,#ff1700,#ff1800,#ff1900,#ff1900,#ff1a00,#ff1a00,#ff1a00,#ff1b00,#ff1b00,#ff1c00,#ff1d00,#ff1d00,#ff1e00,#ff1f00,#ff2000,#ff2100,#ff2200,#ff2400,#ff2600,#ff2800,#ff2a00,#ff2d00,#ff2f00,#ff3100,#ff3400,#ff3700,#ff3900,#ff3c00,#ff3f00,#ff4100,#ff4300,#ff4600,#ff4800,#ff4b00,#ff4d00,#ff4f00,#ff5100,#ff5400,#ff5600,#ff5800,#ff5a00,#ff5c00,#ff5e00,#ff6000,#ff6200,#ff6500,#ff6700,#ff6900,#ff6b00,#ff6e00,#ff7000,#ff7300,#ff7500,#ff7800,#ff7a00,#ff7d00,#ff7f00,#ff8100,#ff8300,#ff8500)"></i>
<i style="top:308px;background:linear-gradient(90deg,#730000,#730000,#730000,#730000,#740000,#740000,#740000,#740000,#740000,#740000,#740000,#740000,#740000,#750000,#750000,#750000,#760000,#770000,#7a0000,#7e0000,#850000,#8f0000,#9f0000,#b50000,#d70000,#ff0900,#ff4000,#ff8b00,#ffeb00,#ffff8d,#fffff6,#ffffff,#fffffc,#ffffdf,#ffffb8,#ffff88,#ffff53,#ffff1a,#ffed00,#ffd100,#ffb900,#ffa200,#ff8e00,#ff7c00,#ff6c00,#ff5d00,#ff5000,#ff4400,#ff3900,#ff3000,#ff2700,#ff1f00,#ff1800,#ff1100,#ff0c00,#ff0700,#ff0300,#ff0100,#fd0000,#fc0000,#fb0000,#fa0000,#f90000,#f90000,#f90000,#f90000,#f80000,#f80000,#f70000,#f70000,#f60000,#f60000,#f60000,#f70000,#f90000,#fb0000,#fd0000,#ff0100,#ff0300,#ff0500,#ff0700,#ff0800,#ff0a00,#ff0b00,#ff0c00,#ff0e00,#ff0f00,#ff1000,#ff1100,#ff1200,#ff1300,#ff1400,#ff1400,#ff1500,#ff1500,#ff1600,#ff1700,#ff1700,#ff1800,#ff1900,#ff1a00,#ff1b00,#ff1c00,#ff1d00,#ff1f00,#ff2100,#ff2300,#ff2500,#ff2700,#ff2900,#ff2c00,#ff2f00,#ff3100,#ff3400,#ff3700,#ff3900,#ff3c00,#ff3e00,#ff4100,#ff4300,#ff4600,#ff4800,#ff4b00,#ff4d00,#ff4f00,#ff5100,#ff5300,#ff5600,#ff5800,#ff5a00,#ff5c00,#ff5e00,#ff6000,#ff6200,#ff6500,#ff6700,#ff6900,#ff6c00,#ff6e00,#ff7100,#ff7300,#ff7600,#ff7800,#ff7b00,#ff7d00,#ff8000,#ff8200,#ff8300)"></i>
<i style="top:312px;background:linear-gradient(90deg,#720000,#720000,#720000,#720000,#730000,#730000,#730000,#730000,#730000,#730000,#730000,#730000,#730000,#740000,#740000,#740000,#750000,#770000,#7b0000,#800000,#880000,#950000,#a90000,#c60000,#f50000,#ff2c00,#ff7400,#ffd000,#ffff6a,#ffffe9,#ffffff,#ffffff,#ffffe3,#ffffba,#ffff87,#ffff4e,#ffff0f,#ffe500,#ffc700,#ffad00,#ff9600,#ff8100,#ff6f00,#ff5f00,#ff5100,#ff4400,#ff3800,#ff2e00,#ff2500,#ff1c00,#ff1500,#ff0e00,#ff0800,#ff0200,#fc0000,#f60000,#f20000,#ef0000,#ed0000,#eb0000,#eb0000,#ea0000,#ea0000,#ea0000,#ea0000,#ea0000,#ea0000,#ea0000,#ea0000,#ea0000,#e90000,#ea0000,#ea0000,#ec0000,#ed0000,#f00000,#f20000,#f50000,#f90000,#fc0000,#fe0000,#ff0100,#ff0300,#ff0500,#ff0600,#ff0800,#ff0900,#ff0a00,#ff0b00,#ff0c00,#ff0d00,#ff0e00,#ff0f00,#ff1000,#ff1000,#ff1100,#ff1200,#ff1300,#ff1400,#ff1500,#ff1600,#ff1700,#ff1800,#ff1900,#ff1b00,#ff1d00,#ff1f00,#ff2200,#ff2400,#ff2700,#ff2900,#ff2c00,#ff2f00,#ff3200,#ff3400,#ff3700,#ff3a00,#ff3c00,#ff3f00,#ff4100,#ff4300,#ff4600,#ff4800,#ff4b00,#ff4d00,#ff4f00,#ff5100,#ff5300,#ff5500,#ff5800,#ff5a00,#ff5c00,#ff5e00,#ff6100,#ff6300,#ff6500,#ff6800,#ff6a00,#ff6d00,#ff6f00,#ff7200,#ff7400,#ff7700,#ff7a00,#ff7c00,#ff7e00,#ff8000,#ff8200)"></i>
<i style="top:316px;background:linear-gradient(90deg,#710000,#710000,#720000,#720000,#720000,#720000,#720000,#720000,#720000,#720000,#720000,#720000,#730000,#730000,#730000,#740000,#750000,#780000,#7c0000,#830000,#8d0000,#9e0000,#b80000,#e10000,#ff1900,#ff5d00,#ffb800,#ffff3e,#ffffd3,#ffffff,#ffffff,#ffffe8,#ffffbf,#ffff8a,#ffff4e,#ffff0b,#ffe100,#ffc000,#ffa300,#ff8b00,#ff7600,#ff6300,#ff5300,#ff4500,#ff3800,#ff2d00,#ff2300,#ff1a00,#ff1200,#ff0b00,#ff0400,#fd0000,#f60000,#ef0000,#ea0000,#e50000,#e20000,#df0000,#dd0000,#dd0000,#dc0000,#dc0000,#dc0000,#dc0000,#dd0000,#dd0000,#dd0000,#dd0000,#dd0000,#dd0000,#dd0000,#de0000,#df0000,#e00000,#e20000,#e50000,#e80000,#eb0000,#ef0000,#f20000,#f50000,#f80000,#fb0000,#fd0000,#ff0000,#ff0200,#ff0300,#ff0500,#ff0600,#ff0700,#ff0800,#ff0900,#ff0a00,#ff0b00,#ff0c00,#ff0d00,#ff0e00,#ff0f00,#ff1000,#ff1100,#ff1200,#ff1300,#ff1400,#ff1600,#ff1800,#ff1a00,#ff1c00,#ff1f00,#ff2100,#ff2400,#ff2700,#ff2a00,#ff2d00,#ff2f00,#ff3200,#ff3500,#ff3700,#ff3a00,#ff3c00,#ff3f00,#ff4100,#ff4400,#ff4600,#ff4800,#ff4b00,#ff4d00,#ff4f00,#ff5100,#ff5300,#ff5600,#ff5800,#ff5a00,#ff5c00,#ff5f00,#ff6100,#ff6400,#ff6600,#ff6900,#ff6b00,#ff6e00,#ff7000,#ff7300,#ff7600,#ff7800,#ff7b00,#ff7d00,#ff7f00,#ff8100)"></i>
<i style="top:320px;background:linear-gradient(90deg,#710000,#710000,#710000,#710000,#710000,#710000,#710000,#710000,#710000,#710000,#720000,#720000,#720000,#720000,#720000,#730000,#750000,#790000,#7e0000,#870000,#950000,#ac0000,#d00000,#ff0800,#ff4700,#ff9f00,#ffff0f,#ffffb6,#ffffff,#ffffff,#ffffee,#ffffc5,#ffff90,#ffff52,#ffff0c,#ffdf00,#ffbd00,#ff9d00,#ff8200,#ff6b00,#ff5800,#ff4800,#ff3900,#ff2d00,#ff2200,#ff1800,#ff1000,#ff0800,#ff0100,#f80000,#f00000,#ea0000,#e40000,#de0000,#d90000,#d50000,#d30000,#d10000,#cf0000,#cf0000,#cf0000,#cf0000,#cf0000,#d00000,#d00000,#d00000,#d10000,#d10000,#d20000,#d20000,#d20000,#d30000,#d40000,#d60000,#d80000,#db0000,#de0000,#e20000,#e60000,#e90000,#ed0000,#f00000,#f30000,#f50000,#f80000,#fa0000,#fc0000,#fe0000,#ff0100,#ff0200,#ff0400,#ff0500,#ff0600,#ff0700,#ff0800,#ff0900,#ff0a00,#ff0b00,#ff0c00,#ff0d00,#ff0e00,#ff1000,#ff1100,#ff1300,#ff1500,#ff1700,#ff1a00,#ff1c00,#ff1f00,#ff2200,#ff2500,#ff2800,#ff2a00,#ff2d00,#ff3000,#ff3300,#ff3500,#ff3800,#ff3a00,#ff3d00,#ff3f00,#ff4200,#ff4400,#ff4700,#ff4900,#ff4b00,#ff4d00,#ff4f00,#ff5200,#ff5400,#ff5600,#ff5800,#ff5b00,#ff5d00,#ff5f00,#ff6200,#ff6400,#ff6700,#ff6a00,#ff6c00,#ff6f00,#ff7200,#ff7400,#ff7700,#ff7a00,#ff7c00,#ff7e00,#ff8000)"></i>
<i style="top:324px;background:linear-gradient(90deg,#700000,#700000,#700000,#700000,#700000,#700000,#700000,#710000,#710000,#710000,#710000,#710000,#710000,#720000,#720000,#740000,#760000,#7b0000,#820000,#8e0000,#a20000,#c10000,#f50000,#ff3400,#ff8700,#ffee00,#ffff95,#ffffff,#ffffff,#fffff4,#ffffcd,#ffff98,#ffff59,#ffff11,#ffe000,#ffbc00,#ff9b00,#ff7d00,#ff6400,#ff4e00,#ff3d00,#ff2f00,#ff2200,#ff1700,#ff0e00,#ff0500,#fc0000,#f30000,#eb0000,#e40000,#de0000,#d80000,#d30000,#ce0000,#ca0000,#c70000,#c50000,#c30000,#c20000,#c20000,#c20000,#c30000,#c30000,#c40000,#c40000,#c50000,#c60000,#c60000,#c70000,#c70000,#c80000,#c90000,#ca0000,#cc0000,#cf0000,#d20000,#d50000,#d90000,#dd0000,#e10000,#e50000,#e80000,#eb0000,#ee0000,#f10000,#f30000,#f60000,#f80000,#fa0000,#fc0000,#fe0000,#ff0000,#ff0200,#ff0300,#ff0400,#ff0500,#ff0600,#ff0700,#ff0900,#ff0a00,#ff0b00,#ff0d00,#ff0e00,#ff1000,#ff1200,#ff1500,#ff1700,#ff1a00,#ff1d00,#ff2000,#ff2300,#ff2500,#ff2800,#ff2b00,#ff2e00,#ff3100,#ff3300,#ff3600,#ff3800,#ff3b00,#ff3d00,#ff4000,#ff4200,#ff4500,#ff4700,#ff4900,#ff4b00,#ff4e00,#ff5000,#ff5200,#ff5400,#ff5700,#ff5900,#ff5b00,#ff5e00,#ff6000,#ff6300,#ff6600,#ff6800,#ff6b00,#ff6e00,#ff7000,#ff7300,#ff7600,#ff7900,#ff7b00,#ff7d00,#ff7f00)"></i>
<i style="top:328px;background:linear-gradient(90deg,#6f0000,#6f0000,#700000,#700000,#700000,#700000,#700000,#700000,#700000,#700000,#700000,#710000,#710000,#710000,#720000,#740000,#780000,#7e0000,#880000,#990000,#b50000,#e30000,#ff2200,#ff7200,#ffd900,#ffff7a,#fffff0,#ffffff,#fffff9,#ffffd4,#ffffa0,#ffff61,#ffff19,#ffe200,#ffbc00,#ff9a00,#ff7b00,#ff6000,#ff4900,#ff3400,#ff2500,#ff1800,#ff0d00,#ff0400,#f90000,#f00000,#e70000,#df0000,#d80000,#d20000,#cd0000,#c80000,#c40000,#c00000,#bc0000,#ba0000,#b80000,#b70000,#b60000,#b60000,#b70000,#b70000,#b80000,#b80000,#b90000,#ba0000,#bb0000,#bc0000,#bc0000,#bd0000,#be0000,#bf0000,#c10000,#c30000,#c60000,#c90000,#cd0000,#d10000,#d50000,#d90000,#dd0000,#e10000,#e40000,#e70000,#ea0000,#ed0000,#f00000,#f20000,#f40000,#f60000,#f80000,#fa0000,#fc0000,#fd0000,#ff0000,#ff0100,#ff0300,#ff0400,#ff0500,#ff0700,#ff0800,#ff0a00,#ff0c00,#ff0e00,#ff1000,#ff1200,#ff1500,#ff1800,#ff1b00,#ff1e00,#ff2100,#ff2400,#ff2600,#ff2900,#ff2c00,#ff2f00,#ff3100,#ff3400,#ff3700,#ff3900,#ff3c00,#ff3e00,#ff4100,#ff4300,#ff4500,#ff4700,#ff4a00,#ff4c00,#ff4e00,#ff5000,#ff5300,#ff5500,#ff5800,#ff5a00,#ff5c00,#ff5f00,#ff6200,#ff6400,#ff6700,#ff6a00,#ff6c00,#ff6f00,#ff7200,#ff7500,#ff7800,#ff7a00,#ff7d00,#ff7f00)"></i>
<i style="top:332px;background:linear-gradient(90deg,#6f0000,#6f0000,#6f0000,#6f0000,#6f0000,#6f0000,#6f0000,#6f0000,#700000,#700000,#700000,#700000,#700000,#710000,#730000,#760000,#7b0000,#830000,#910000,#aa0000,#d30000,#ff1100,#ff5d00,#ffc300,#ffff5e,#ffffe1,#ffffff,#fffffc,#ffffda,#ffffa8,#ffff6a,#ffff21,#ffe600,#ffbe00,#ff9b00,#ff7a00,#ff5e00,#ff4500,#ff3000,#ff1e00,#ff0f00,#ff0400,#f80000,#ed0000,#e30000,#db0000,#d30000,#cd0000,#c70000,#c20000,#bd0000,#b90000,#b60000,#b20000,#b00000,#ae0000,#ac0000,#ab0000,#ab0000,#ab0000,#ac0000,#ad0000,#ad0000,#ae0000,#af0000,#b00000,#b10000,#b20000,#b30000,#b40000,#b50000,#b60000,#b80000,#ba0000,#bd0000,#c10000,#c50000,#c90000,#cd0000,#d20000,#d60000,#da0000,#dd0000,#e10000,#e40000,#e70000,#ea0000,#ec0000,#ee0000,#f10000,#f30000,#f50000,#f70000,#f90000,#fa0000,#fc0000,#fe0000,#ff0100,#ff0200,#ff0400,#ff0500,#ff0700,#ff0900,#ff0b00,#ff0e00,#ff1100,#ff1300,#ff1600,#ff1900,#ff1c00,#ff1f00,#ff2200,#ff2500,#ff2700,#ff2a00,#ff2d00,#ff3000,#ff3200,#ff3500,#ff3700,#ff3a00,#ff3c00,#ff3f00,#ff4100,#ff4400,#ff4600,#ff4800,#ff4a00,#ff4d00,#ff4f00,#ff5100,#ff5400,#ff5600,#ff5900,#ff5b00,#ff5e00,#ff6000,#ff6300,#ff6600,#ff6900,#ff6b00,#ff6e00,#ff7100,#ff7400,#ff7700,#ff7a00,#ff7c00,#ff7e00)"></i>
<i style="top:336px;background:linear-gradient(90deg,#6e0000,#6e0000,#6e0000,#6e0000,#6f0000,#6f0000,#6f0000,#6f0000,#6f0000,#6f0000,#6f0000,#6f0000,#700000,#710000,#740000,#780000,#7f0000,#8b0000,#a00000,#c40000,#ff0000,#ff4700,#ffab00,#ffff3e,#ffffd6,#ffffff,#ffffff,#ffffdf,#ffffaf,#ffff71,#ffff2a,#ffe900,#ffc100,#ff9c00,#ff7b00,#ff5d00,#ff4400,#ff2d00,#ff1a00,#ff0a00,#fa0000,#ec0000,#e10000,#d80000,#cf0000,#c80000,#c20000,#bc0000,#b70000,#b30000,#af0000,#ac0000,#a90000,#a60000,#a40000,#a20000,#a10000,#a10000,#a10000,#a10000,#a20000,#a30000,#a30000,#a40000,#a50000,#a70000,#a80000,#a90000,#aa0000,#ab0000,#ac0000,#ae0000,#b00000,#b20000,#b50000,#b90000,#bd0000,#c20000,#c60000,#cb0000,#cf0000,#d30000,#d70000,#db0000,#de0000,#e10000,#e40000,#e70000,#e90000,#eb0000,#ee0000,#f00000,#f20000,#f40000,#f60000,#f80000,#fa0000,#fc0000,#fe0000,#ff0100,#ff0300,#ff0500,#ff0700,#ff0900,#ff0c00,#ff0f00,#ff1200,#ff1400,#ff1700,#ff1a00,#ff1d00,#ff2000,#ff2300,#ff2600,#ff2800,#ff2b00,#ff2e00,#ff3100,#ff3300,#ff3600,#ff3800,#ff3b00,#ff3d00,#ff4000,#ff4200,#ff4400,#ff4700,#ff4900,#ff4b00,#ff4d00,#ff5000,#ff5200,#ff5500,#ff5700,#ff5a00,#ff5d00,#ff5f00,#ff6200,#ff6500,#ff6700,#ff6a00,#ff6d00,#ff7000,#ff7300,#ff7600,#ff7900,#ff7b00,#ff7d00)"></i>
<i style="top:340px;background:linear-gradient(90deg,#6e0000,#6e0000,#6e0000,#6e0000,#6e0000,#6e0000,#6e0000,#6e0000,#6e0000,#6f0000,#6f0000,#6f0000,#700000,#720000,#750000,#7b0000,#850000,#960000,#b50000,#eb0000,#ff3000,#ff9100,#ffff14,#ffffc5,#ffffff,#ffffff,#ffffe3,#ffffb4,#ffff77,#ffff30,#ffec00,#ffc400,#ff9e00,#ff7b00,#ff5d00,#ff4300,#ff2c00,#ff1800,#ff0700,#f50000,#e40000,#d60000,#cd0000,#c50000,#be0000,#b80000,#b20000,#ad0000,#a90000,#a50000,#a20000,#9f0000,#9d0000,#9b0000,#990000,#980000,#970000,#970000,#970000,#980000,#980000,#990000,#9a0000,#9b0000,#9c0000,#9e0000,#9f0000,#a00000,#a10000,#a20000,#a40000,#a60000,#a80000,#aa0000,#ae0000,#b20000,#b60000,#bb0000,#bf0000,#c40000,#c90000,#cd0000,#d10000,#d50000,#d90000,#dc0000,#df0000,#e20000,#e40000,#e70000,#e90000,#eb0000,#ed0000,#f00000,#f20000,#f40000,#f60000,#f80000,#fb0000,#fd0000,#ff0000,#ff0300,#ff0500,#ff0800,#ff0b00,#ff0d00,#ff1000,#ff1300,#ff1600,#ff1900,#ff1c00,#ff1e00,#ff2100,#ff2400,#ff2700,#ff2a00,#ff2c00,#ff2f00,#ff3200,#ff3400,#ff3700,#ff3900,#ff3c00,#ff3e00,#ff4100,#ff4300,#ff4500,#ff4700,#ff4a00,#ff4c00,#ff4f00,#ff5100,#ff5400,#ff5600,#ff5900,#ff5b00,#ff5e00,#ff6100,#ff6400,#ff6700,#ff6900,#ff6d00,#ff7000,#ff7300,#ff7600,#ff7800,#ff7b00,#ff7d00)"></i>
<i style="top:344px;background:linear-gradient(90deg,#6d0000,#6d0000,#6d0000,#6d0000,#6d0000,#6e0000,#6e0000,#6e0000,#6e0000,#6e0000,#6e0000,#6f0000,#700000,#730000,#770000,#7f0000,#8e0000,#a70000,#d60000,#ff1c00,#ff7300,#ffec00,#ffffac,#ffffff,#ffffff,#ffffe7,#ffffb8,#ffff7c,#ffff35,#ffef00,#ffc500,#ff9f00,#ff7c00,#ff5d00,#ff4200,#ff2a00,#ff1600,#ff0400,#f00000,#df0000,#d00000,#c30000,#bb0000,#b40000,#ae0000,#a90000,#a40000,#a00000,#9c0000,#990000,#960000,#940000,#920000,#900000,#8f0000,#8e0000,#8e0000,#8e0000,#8e0000,#8f0000,#900000,#910000,#920000,#930000,#940000,#950000,#970000,#980000,#990000,#9b0000,#9c0000,#9e0000,#a00000,#a30000,#a70000,#ab0000,#af0000,#b40000,#b90000,#be0000,#c30000,#c70000,#cc0000,#d00000,#d30000,#d70000,#da0000,#dd0000,#e00000,#e20000,#e50000,#e70000,#e90000,#ec0000,#ee0000,#f00000,#f20000,#f50000,#f70000,#fa0000,#fd0000,#ff0100,#ff0400,#ff0600,#ff0900,#ff0c00,#ff0f00,#ff1100,#ff1400,#ff1700,#ff1a00,#ff1d00,#ff2000,#ff2300,#ff2600,#ff2800,#ff2b00,#ff2e00,#ff3000,#ff3300,#ff3600,#ff3800,#ff3a00,#ff3d00,#ff3f00,#ff4200,#ff4400,#ff4600,#ff4900,#ff4b00,#ff4d00,#ff5000,#ff5300,#ff5500,#ff5800,#ff5a00,#ff5d00,#ff6000,#ff6300,#ff6600,#ff6900,#ff6c00,#ff6f00,#ff7200,#ff7500,#ff7800,#ff7a00,#ff7d00)"></i>
<i style="top:348px;background:linear-gradient(90deg,#6d0000,#6d0000,#6d0000,#6d0000,#6d0000,#6d0000,#6d0000,#6d0000,#6d0000,#6e0000,#6e0000,#6f0000,#710000,#740000,#7b0000,#860000,#9b0000,#c10000,#ff0600,#ff5700,#ffc800,#ffff84,#ffffff,#ffffff,#ffffee,#ffffbe,#ffff81,#ffff39,#fff000,#ffc600,#ff9f00,#ff7c00,#ff5d00,#ff4100,#ff2900,#ff1400,#ff0200,#ed0000,#db0000,#cc0000,#be0000,#b30000,#aa0000,#a40000,#9f0000,#9b0000,#970000,#930000,#900000,#8e0000,#8b0000,#890000,#880000,#860000,#850000,#850000,#850000,#850000,#860000,#870000,#880000,#890000,#8a0000,#8b0000,#8c0000,#8d0000,#8f0000,#900000,#920000,#930000,#950000,#970000,#990000,#9c0000,#a00000,#a40000,#a90000,#ae0000,#b30000,#b80000,#bd0000,#c20000,#c60000,#cb0000,#ce0000,#d20000,#d50000,#d80000,#db0000,#de0000,#e00000,#e30000,#e50000,#e80000,#ea0000,#ed0000,#ef0000,#f20000,#f40000,#f80000,#fb0000,#ff0000,#ff0200,#ff0500,#ff0800,#ff0a00,#ff0d00,#ff1000,#ff1300,#ff1600,#ff1900,#ff1c00,#ff1f00,#ff2100,#ff2400,#ff2700,#ff2a00,#ff2d00,#ff2f00,#ff3200,#ff3400,#ff3700,#ff3900,#ff3c00,#ff3e00,#ff4000,#ff4300,#ff4500,#ff4700,#ff4a00,#ff4c00,#ff4f00,#ff5200,#ff5400,#ff5700,#ff5a00,#ff5c00,#ff5f00,#ff6200,#ff6500,#ff6800,#ff6b00,#ff6e00,#ff7200,#ff7500,#ff7800,#ff7a00,#ff7c00)"></i>
<i style="top:352px;background:linear-gradient(90deg,#6c0000,#6c0000,#6c0000,#6c0000,#6c0000,#6c0000,#6d0000,#6d0000,#6d0000,#6d0000,#6e0000,#6f0000,#720000,#760000,#7f0000,#900000,#af0000,#e70000,#ff3800,#ffa400,#ffff47,#fffff0,#ffffff,#fffff4,#ffffc6,#ffff88,#ffff3e,#fff200,#ffc700,#ffa000,#ff7c00,#ff5c00,#ff4000,#ff2800,#ff1300,#ff0000,#ea0000,#d80000,#c80000,#ba0000,#af0000,#a50000,#9c0000,#970000,#920000,#8f0000,#8b0000,#880000,#860000,#830000,#810000,#800000,#7f0000,#7d0000,#7d0000,#7d0000,#7d0000,#7d0000,#7e0000,#7f0000,#800000,#810000,#820000,#830000,#850000,#860000,#880000,#890000,#8b0000,#8c0000,#8e0000,#900000,#930000,#960000,#9a0000,#9e0000,#a30000,#a80000,#ad0000,#b30000,#b80000,#bd0000,#c20000,#c60000,#ca0000,#ce0000,#d10000,#d40000,#d70000,#da0000,#dd0000,#df0000,#e20000,#e40000,#e70000,#e90000,#ec0000,#ef0000,#f20000,#f60000,#f90000,#fd0000,#ff0100,#ff0400,#ff0600,#ff0900,#ff0c00,#ff0f00,#ff1200,#ff1500,#ff1700,#ff1a00,#ff1d00,#ff2000,#ff2300,#ff2600,#ff2900,#ff2b00,#ff2e00,#ff3100,#ff3300,#ff3600,#ff3800,#ff3a00,#ff3d00,#ff3f00,#ff4200,#ff4400,#ff4600,#ff4900,#ff4b00,#ff4e00,#ff5100,#ff5300,#ff5600,#ff5900,#ff5c00,#ff5e00,#ff6100,#ff6400,#ff6800,#ff6b00,#ff6e00,#ff7100,#ff7400,#ff7700,#ff7a00,#ff7c00)"></i>
<i style="top:356px;background:linear-gradient(90deg,#6b0000,#6b0000,#6c0000,#6c0000,#6c0000,#6c0000,#6c0000,#6c0000,#6c0000,#6c0000,#6e0000,#700000,#730000,#7a0000,#860000,#9e0000,#cc0000,#ff1600,#ff7a00,#fffb00,#ffffc9,#ffffff,#fffffc,#ffffd0,#ffff92,#ffff47,#fff500,#ffc900,#ffa000,#ff7b00,#ff5b00,#ff3f00,#ff2600,#ff1100,#fd0000,#e70000,#d50000,#c50000,#b70000,#ab0000,#a00000,#970000,#900000,#8a0000,#870000,#830000,#810000,#7e0000,#7c0000,#7a0000,#780000,#770000,#760000,#750000,#750000,#750000,#750000,#760000,#770000,#780000,#790000,#7a0000,#7b0000,#7c0000,#7e0000,#7f0000,#810000,#820000,#840000,#860000,#880000,#8a0000,#8d0000,#900000,#940000,#980000,#9d0000,#a20000,#a80000,#ae0000,#b30000,#b80000,#bd0000,#c10000,#c60000,#c90000,#cd0000,#d00000,#d30000,#d60000,#d90000,#dc0000,#de0000,#e10000,#e40000,#e60000,#e90000,#ed0000,#f00000,#f40000,#f70000,#fb0000,#ff0000,#ff0200,#ff0500,#ff0800,#ff0b00,#ff0e00,#ff1000,#ff1300,#ff1600,#ff1900,#ff1c00,#ff1f00,#ff2200,#ff2500,#ff2800,#ff2a00,#ff2d00,#ff3000,#ff3200,#ff3500,#ff3700,#ff3900,#ff3c00,#ff3e00,#ff4000,#ff4300,#ff4500,#ff4800,#ff4a00,#ff4d00,#ff5000,#ff5300,#ff5500,#ff5800,#ff5b00,#ff5e00,#ff6100,#ff6400,#ff6700,#ff6a00,#ff6e00,#ff7100,#ff7400,#ff7700,#ff7a00,#ff7c00)"></i>
<i style="top:360px;background:linear-gradient(90deg,#6b0000,#6b0000,#6b0000,#6b0000,#6b0000,#6b0000,#6b0000,#6c0000,#6c0000,#6c0000,#6e0000,#700000,#750000,#7f0000,#900000,#b30000,#f40000,#ff4d00,#ffcc00,#ffff8c,#ffffff,#ffffff,#ffffdc,#ffff9f,#ffff53,#fffa00,#ffcc00,#ffa200,#ff7b00,#ff5a00,#ff3d00,#ff2400,#ff0f00,#fa0000,#e40000,#d20000,#c20000,#b30000,#a70000,#9d0000,#930000,#8b0000,#840000,#7f0000,#7c0000,#790000,#770000,#740000,#730000,#710000,#700000,#6f0000,#6e0000,#6d0000,#6d0000,#6e0000,#6e0000,#6f0000,#700000,#710000,#720000,#730000,#740000,#760000,#770000,#790000,#7a0000,#7c0000,#7d0000,#7f0000,#810000,#840000,#870000,#8a0000,#8e0000,#930000,#980000,#9d0000,#a30000,#a90000,#ae0000,#b30000,#b80000,#bd0000,#c10000,#c50000,#c90000,#cd0000,#d00000,#d30000,#d60000,#d80000,#db0000,#de0000,#e10000,#e40000,#e70000,#eb0000,#ef0000,#f20000,#f60000,#f90000,#fd0000,#ff0100,#ff0400,#ff0700,#ff0a00,#ff0c00,#ff0f00,#ff1200,#ff1500,#ff1800,#ff1b00,#ff1e00,#ff2100,#ff2400,#ff2700,#ff2900,#ff2c00,#ff2f00,#ff3100,#ff3400,#ff3600,#ff3800,#ff3b00,#ff3d00,#ff4000,#ff4200,#ff4500,#ff4700,#ff4a00,#ff4c00,#ff4f00,#ff5200,#ff5500,#ff5700,#ff5a00,#ff5d00,#ff6000,#ff6300,#ff6700,#ff6a00,#ff6d00,#ff7100,#ff7400,#ff7700,#ff7a00,#ff7c00)"></i>
<i style="top:364px;background:linear-gradient(90deg,#6a0000,#6a0000,#6a0000,#6b0000,#6b0000,#6b0000,#6b0000,#6b0000,#6b0000,#6c0000,#6e0000,#720000,#780000,#850000,#9f0000,#d20000,#ff2100,#ff9400,#ffff44,#ffffea,#ffffff,#ffffeb,#ffffb0,#ffff63,#ffff07,#ffd100,#ffa400,#ff7d00,#ff5a00,#ff3c00,#ff2200,#ff0d00,#f70000,#e10000,#ce0000,#be0000,#b00000,#a40000,#990000,#900000,#880000,#800000,#7a0000,#750000,#720000,#700000,#6e0000,#6c0000,#6a0000,#690000,#680000,#670000,#660000,#660000,#660000,#670000,#670000,#680000,#690000,#6a0000,#6b0000,#6d0000,#6e0000,#6f0000,#710000,#720000,#740000,#760000,#770000,#790000,#7c0000,#7e0000,#810000,#850000,#890000,#8d0000,#930000,#980000,#9e0000,#a40000,#aa0000,#af0000,#b40000,#b90000,#be0000,#c20000,#c50000,#c90000,#cc0000,#cf0000,#d20000,#d50000,#d80000,#db0000,#de0000,#e20000,#e60000,#e90000,#ed0000,#f10000,#f40000,#f80000,#fc0000,#ff0000,#ff0300,#ff0600,#ff0900,#ff0b00,#ff0e00,#ff1100,#ff1400,#ff1700,#ff1a00,#ff1d00,#ff2000,#ff2300,#ff2600,#ff2800,#ff2b00,#ff2e00,#ff3000,#ff3300,#ff3500,#ff3700,#ff3a00,#ff3c00,#ff3f00,#ff4100,#ff4400,#ff4600,#ff4900,#ff4c00,#ff4e00,#ff5100,#ff5400,#ff5700,#ff5a00,#ff5d00,#ff6000,#ff6300,#ff6600,#ff6a00,#ff6d00,#ff7100,#ff7400,#ff7700,#ff7a00,#ff7c00)"></i>
<i style="top:368px;background:linear-gradient(90deg,#6a0000,#6a0000,#6a0000,#6a0000,#6a0000,#6a0000,#6a0000,#6a0000,#6b0000,#6c0000,#6f0000,#740000,#7d0000,#8f0000,#b40000,#fc0000,#ff5a00,#ffe700,#ffffbc,#ffffff,#fffff9,#ffffc4,#ffff78,#ffff1d,#ffd900,#ffaa00,#ff7f00,#ff5b00,#ff3c00,#ff2100,#ff0b00,#f30000,#dd0000,#ca0000,#ba0000,#ac0000,#a00000,#960000,#8c0000,#840000,#7d0000,#760000,#710000,#6c0000,#690000,#670000,#650000,#640000,#620000,#610000,#600000,#600000,#5f0000,#5f0000,#600000,#600000,#610000,#620000,#630000,#640000,#650000,#670000,#680000,#690000,#6b0000,#6c0000,#6e0000,#700000,#720000,#740000,#760000,#790000,#7c0000,#7f0000,#840000,#880000,#8e0000,#930000,#990000,#9f0000,#a50000,#ab0000,#b00000,#b50000,#ba0000,#be0000,#c20000,#c60000,#c90000,#cc0000,#cf0000,#d20000,#d50000,#d80000,#dc0000,#e00000,#e40000,#e80000,#eb0000,#ef0000,#f30000,#f60000,#fa0000,#fe0000,#ff0200,#ff0500,#ff0800,#ff0b00,#ff0d00,#ff1000,#ff1300,#ff1600,#ff1900,#ff1c00,#ff1f00,#ff2200,#ff2500,#ff2800,#ff2a00,#ff2d00,#ff2f00,#ff3200,#ff3400,#ff3700,#ff3900,#ff3b00,#ff3e00,#ff4000,#ff4300,#ff4600,#ff4800,#ff4b00,#ff4e00,#ff5100,#ff5300,#ff5600,#ff5900,#ff5c00,#ff6000,#ff6300,#ff6600,#ff6a00,#ff6d00,#ff7100,#ff7400,#ff7700,#ff7a00,#ff7c00)"></i>
<i style="top:372px;background:linear-gradient(90deg,#690000,#690000,#690000,#690000,#6a0000,#6a0000,#6a0000,#6a0000,#6b0000,#6c0000,#700000,#760000,#830000,#9d0000,#d20000,#ff2900,#ffa300,#ffff70,#fffffc,#ffffff,#ffffd9,#ffff92,#ffff37,#ffe500,#ffb200,#ff8500,#ff5e00,#ff3d00,#ff2100,#ff0900,#f10000,#da0000,#c70000,#b70000,#a90000,#9d0000,#920000,#890000,#810000,#790000,#730000,#6d0000,#680000,#640000,#610000,#5f0000,#5e0000,#5c0000,#5b0000,#5a0000,#590000,#590000,#590000,#590000,#590000,#5a0000,#5b0000,#5c0000,#5d0000,#5e0000,#5f0000,#610000,#620000,#640000,#650000,#670000,#690000,#6a0000,#6c0000,#6e0000,#710000,#730000,#770000,#7a0000,#7f0000,#840000,#890000,#8f0000,#950000,#9b0000,#a10000,#a70000,#ac0000,#b20000,#b60000,#bb0000,#bf0000,#c20000,#c60000,#c90000,#cc0000,#d00000,#d30000,#d70000,#db0000,#df0000,#e20000,#e60000,#ea0000,#ee0000,#f10000,#f50000,#f90000,#fd0000,#ff0100,#ff0400,#ff0700,#ff0a00,#ff0d00,#ff1000,#ff1300,#ff1600,#ff1900,#ff1b00,#ff1e00,#ff2100,#ff2400,#ff2700,#ff2900,#ff2c00,#ff2e00,#ff3100,#ff3300,#ff3600,#ff3800,#ff3b00,#ff3d00,#ff4000,#ff4200,#ff4500,#ff4800,#ff4a00,#ff4d00,#ff5000,#ff5300,#ff5600,#ff5900,#ff5c00,#ff5f00,#ff6300,#ff6600,#ff6a00,#ff6d00,#ff7100,#ff7400,#ff7700,#ff7a00,#ff7c00)"></i>
<i style="top:376px;background:linear-gradient(90deg,#690000,#690000,#690000,#690000,#690000,#690000,#690000,#690000,#6b0000,#6d0000,#710000,#7a0000,#8d0000,#b10000,#fe0000,#ff6100,#fff800,#ffffd9,#ffffff,#ffffed,#ffffad,#ffff56,#fff400,#ffbf00,#ff8e00,#ff6400,#ff4000,#ff2200,#ff0900,#ef0000,#d70000,#c40000,#b30000,#a50000,#990000,#8e0000,#850000,#7d0000,#760000,#6f0000,#6a0000,#650000,#600000,#5c0000,#590000,#580000,#560000,#550000,#540000,#530000,#530000,#520000,#520000,#530000,#530000,#540000,#550000,#560000,#570000,#590000,#5a0000,#5b0000,#5d0000,#5e0000,#600000,#610000,#630000,#650000,#670000,#690000,#6c0000,#6e0000,#720000,#760000,#7a0000,#7f0000,#850000,#8b0000,#910000,#970000,#9d0000,#a30000,#a90000,#ae0000,#b30000,#b70000,#bc0000,#bf0000,#c30000,#c60000,#ca0000,#cd0000,#d10000,#d50000,#d90000,#dd0000,#e10000,#e50000,#e90000,#ec0000,#f00000,#f40000,#f80000,#fb0000,#ff0000,#ff0300,#ff0600,#ff0900,#ff0c00,#ff0f00,#ff1200,#ff1500,#ff1800,#ff1b00,#ff1e00,#ff2100,#ff2300,#ff2600,#ff2900,#ff2b00,#ff2e00,#ff3000,#ff3300,#ff3500,#ff3800,#ff3a00,#ff3d00,#ff3f00,#ff4200,#ff4400,#ff4700,#ff4a00,#ff4d00,#ff5000,#ff5300,#ff5600,#ff5900,#ff5c00,#ff5f00,#ff6200,#ff6600,#ff6a00,#ff6d00,#ff7100,#ff7400,#ff7700,#ff7a00,#ff7c00)"></i>
<i style="top:380px;background:linear-gradient(90deg,#680000,#680000,#680000,#680000,#680000,#680000,#690000,#690000,#6b0000,#6e0000,#740000,#800000,#9a0000,#cf0000,#ff2b00,#ffaa00,#ffff8a,#ffffff,#fffffe,#ffffc9,#ffff77,#ffff10,#ffce00,#ff9a00,#ff6d00,#ff4600,#ff2500,#ff0a00,#ef0000,#d60000,#c10000,#b00000,#a10000,#950000,#8a0000,#810000,#790000,#720000,#6c0000,#660000,#610000,#5d0000,#590000,#550000,#520000,#510000,#500000,#4f0000,#4e0000,#4d0000,#4c0000,#4c0000,#4c0000,#4d0000,#4e0000,#4f0000,#500000,#510000,#520000,#530000,#540000,#560000,#570000,#590000,#5a0000,#5c0000,#5e0000,#600000,#620000,#640000,#670000,#6a0000,#6d0000,#710000,#760000,#7b0000,#800000,#860000,#8d0000,#930000,#990000,#a00000,#a50000,#ab0000,#b00000,#b40000,#b90000,#bd0000,#c00000,#c40000,#c70000,#cc0000,#d00000,#d40000,#d80000,#dc0000,#df0000,#e30000,#e70000,#eb0000,#ef0000,#f30000,#f60000,#fa0000,#fe0000,#ff0200,#ff0500,#ff0800,#ff0b00,#ff0e00,#ff1100,#ff1400,#ff1700,#ff1a00,#ff1d00,#ff2000,#ff2300,#ff2500,#ff2800,#ff2b00,#ff2d00,#ff2f00,#ff3200,#ff3400,#ff3700,#ff3900,#ff3c00,#ff3f00,#ff4100,#ff4400,#ff4700,#ff4a00,#ff4c00,#ff4f00,#ff5200,#ff5500,#ff5800,#ff5c00,#ff5f00,#ff6200,#ff6600,#ff6a00,#ff6d00,#ff7100,#ff7400,#ff7700,#ff7a00,#ff7c00)"></i>
<i style="top:384px;background:linear-gradient(90deg,#670000,#680000,#680000,#680000,#680000,#680000,#680000,#690000,#6b0000,#6f0000,#780000,#890000,#ad0000,#fa0000,#ff6400,#ffff03,#ffffea,#ffffff,#ffffe3,#ffff99,#ffff38,#ffe000,#ffa900,#ff7800,#ff4e00,#ff2b00,#ff0e00,#f10000,#d60000,#c00000,#ae0000,#9e0000,#920000,#870000,#7e0000,#760000,#6f0000,#680000,#630000,#5e0000,#590000,#550000,#520000,#4e0000,#4c0000,#4a0000,#490000,#480000,#480000,#470000,#470000,#470000,#470000,#480000,#480000,#490000,#4a0000,#4c0000,#4d0000,#4e0000,#4f0000,#510000,#520000,#540000,#550000,#570000,#590000,#5b0000,#5d0000,#5f0000,#620000,#650000,#690000,#6d0000,#710000,#760000,#7c0000,#820000,#890000,#8f0000,#960000,#9c0000,#a20000,#a80000,#ad0000,#b20000,#b60000,#ba0000,#be0000,#c20000,#c60000,#ca0000,#ce0000,#d20000,#d60000,#da0000,#de0000,#e20000,#e60000,#ea0000,#ee0000,#f20000,#f50000,#f90000,#fd0000,#ff0200,#ff0500,#ff0800,#ff0b00,#ff0e00,#ff1100,#ff1400,#ff1700,#ff1a00,#ff1c00,#ff1f00,#ff2200,#ff2500,#ff2700,#ff2a00,#ff2c00,#ff2f00,#ff3100,#ff3400,#ff3600,#ff3900,#ff3b00,#ff3e00,#ff4100,#ff4400,#ff4600,#ff4900,#ff4c00,#ff4f00,#ff5200,#ff5500,#ff5800,#ff5b00,#ff5f00,#ff6200,#ff6600,#ff6a00,#ff6d00,#ff7100,#ff7400,#ff7800,#ff7a00,#ff7c00)"></i>
<i style="top:388px;background:linear-gradient(90deg,#670000,#670000,#670000,#670000,#670000,#670000,#680000,#690000,#6c0000,#720000,#7d0000,#960000,#ca0000,#ff2800,#ffaa00,#ffff97,#ffffff,#fffff8,#ffffbb,#ffff60,#fff500,#ffbb00,#ff8600,#ff5900,#ff3300,#ff1300,#f60000,#d90000,#c00000,#ad0000,#9c0000,#8f0000,#840000,#7a0000,#720000,#6b0000,#650000,#600000,#5b0000,#560000,#520000,#4e0000,#4b0000,#480000,#450000,#440000,#430000,#430000,#420000,#410000,#410000,#410000,#420000,#430000,#430000,#440000,#450000,#470000,#480000,#490000,#4a0000,#4c0000,#4d0000,#4f0000,#510000,#520000,#540000,#560000,#590000,#5b0000,#5e0000,#610000,#640000,#680000,#6d0000,#720000,#780000,#7f0000,#850000,#8c0000,#920000,#990000,#9f0000,#a50000,#aa0000,#af0000,#b30000,#b70000,#bc0000,#c00000,#c40000,#c90000,#cd0000,#d10000,#d50000,#d90000,#dd0000,#e10000,#e50000,#e90000,#ed0000,#f10000,#f40000,#f80000,#fc0000,#ff0100,#ff0400,#ff0700,#ff0a00,#ff0d00,#ff1000,#ff1300,#ff1600,#ff1900,#ff1c00,#ff1f00,#ff2100,#ff2400,#ff2700,#ff2900,#ff2c00,#ff2e00,#ff3100,#ff3300,#ff3600,#ff3800,#ff3b00,#ff3e00,#ff4000,#ff4300,#ff4600,#ff4900,#ff4c00,#ff4f00,#ff5200,#ff5500,#ff5800,#ff5b00,#ff5f00,#ff6200,#ff6600,#ff6a00,#ff6e00,#ff7100,#ff7500,#ff7800,#ff7b00,#ff7d00)"></i>
<i style="top:392px;background:linear-gradient(90deg,#660000,#660000,#660000,#670000,#670000,#670000,#680000,#690000,#6d0000,#750000,#850000,#a80000,#f40000,#ff6200,#ffff09,#fffff4,#ffffff,#ffffda,#ffff88,#ffff1d,#ffcf00,#ff9700,#ff6600,#ff3d00,#ff1b00,#fd0000,#dd0000,#c30000,#ae0000,#9c0000,#8d0000,#810000,#770000,#6f0000,#680000,#620000,#5c0000,#570000,#530000,#4f0000,#4b0000,#480000,#450000,#420000,#400000,#3f0000,#3e0000,#3d0000,#3c0000,#3c0000,#3c0000,#3c0000,#3d0000,#3e0000,#3f0000,#400000,#410000,#420000,#430000,#440000,#460000,#470000,#490000,#4a0000,#4c0000,#4e0000,#500000,#520000,#540000,#570000,#590000,#5d0000,#600000,#640000,#690000,#6f0000,#750000,#7b0000,#820000,#890000,#8f0000,#960000,#9c0000,#a20000,#a70000,#ac0000,#b10000,#b50000,#ba0000,#bf0000,#c30000,#c70000,#cb0000,#cf0000,#d40000,#d80000,#dc0000,#e00000,#e40000,#e80000,#ec0000,#f00000,#f40000,#f80000,#fc0000,#ff0000,#ff0300,#ff0600,#ff0a00,#ff0d00,#ff1000,#ff1300,#ff1600,#ff1900,#ff1b00,#ff1e00,#ff2100,#ff2400,#ff2600,#ff2900,#ff2b00,#ff2e00,#ff3000,#ff3300,#ff3500,#ff3800,#ff3b00,#ff3d00,#ff4000,#ff4300,#ff4600,#ff4900,#ff4c00,#ff4f00,#ff5200,#ff5500,#ff5800,#ff5b00,#ff5f00,#ff6300,#ff6600,#ff6a00,#ff6e00,#ff7200,#ff7500,#ff7800,#ff7b00,#ff7d00)"></i>
<i style="top:396px;background:linear-gradient(90deg,#660000,#660000,#660000,#660000,#660000,#660000,#680000,#6a0000,#6f0000,#790000,#910000,#c20000,#ff2300,#ffa900,#ffff9e,#ffffff,#fffff2,#ffffaf,#ffff4b,#ffe600,#ffaa00,#ff7600,#ff4900,#ff2400,#ff0500,#e40000,#c70000,#b00000,#9d0000,#8d0000,#800000,#750000,#6d0000,#650000,#5f0000,#590000,#540000,#500000,#4c0000,#480000,#450000,#420000,#3f0000,#3d0000,#3b0000,#390000,#390000,#380000,#370000,#370000,#370000,#380000,#380000,#390000,#3a0000,#3b0000,#3c0000,#3d0000,#3f0000,#400000,#410000,#430000,#440000,#460000,#480000,#4a0000,#4c0000,#4e0000,#500000,#530000,#550000,#590000,#5c0000,#610000,#660000,#6b0000,#710000,#780000,#7e0000,#850000,#8c0000,#930000,#990000,#9f0000,#a50000,#aa0000,#af0000,#b40000,#b90000,#bd0000,#c10000,#c60000,#ca0000,#ce0000,#d20000,#d70000,#db0000,#df0000,#e30000,#e70000,#eb0000,#ef0000,#f30000,#f70000,#fb0000,#ff0000,#ff0300,#ff0600,#ff0900,#ff0c00,#ff0f00,#ff1200,#ff1500,#ff1800,#ff1b00,#ff1e00,#ff2100,#ff2300,#ff2600,#ff2800,#ff2b00,#ff2d00,#ff3000,#ff3200,#ff3500,#ff3800,#ff3a00,#ff3d00,#ff4000,#ff4300,#ff4600,#ff4900,#ff4b00,#ff4e00,#ff5200,#ff5500,#ff5800,#ff5c00,#ff5f00,#ff6300,#ff6700,#ff6a00,#ff6e00,#ff7200,#ff7500,#ff7800,#ff7b00,#ff7d00)"></i>
<i style="top:400px;background:linear-gradient(90deg,#650000,#650000,#650000,#650000,#660000,#660000,#680000,#6b0000,#720000,#800000,#a20000,#ea0000,#ff5d00,#ffff00,#fffff7,#ffffff,#ffffd0,#ffff77,#ffff01,#ffc000,#ff8800,#ff5700,#ff2e00,#ff0d00,#ec0000,#cd0000,#b40000,#a00000,#8f0000,#800000,#750000,#6b0000,#630000,#5c0000,#560000,#510000,#4d0000,#490000,#460000,#420000,#3f0000,#3d0000,#3a0000,#380000,#360000,#350000,#340000,#330000,#330000,#330000,#330000,#340000,#340000,#350000,#360000,#370000,#380000,#390000,#3b0000,#3c0000,#3d0000,#3f0000,#400000,#420000,#440000,#460000,#480000,#4a0000,#4c0000,#4f0000,#520000,#550000,#590000,#5d0000,#620000,#680000,#6e0000,#750000,#7b0000,#820000,#890000,#900000,#970000,#9d0000,#a20000,#a80000,#ad0000,#b20000,#b70000,#bc0000,#c00000,#c50000,#c90000,#cd0000,#d10000,#d50000,#da0000,#de0000,#e20000,#e60000,#ea0000,#ee0000,#f20000,#f60000,#fa0000,#fe0000,#ff0300,#ff0600,#ff0900,#ff0c00,#ff0f00,#ff1200,#ff1500,#ff1800,#ff1b00,#ff1d00,#ff2000,#ff2300,#ff2500,#ff2800,#ff2a00,#ff2d00,#ff3000,#ff3200,#ff3500,#ff3700,#ff3a00,#ff3d00,#ff4000,#ff4300,#ff4500,#ff4800,#ff4b00,#ff4e00,#ff5200,#ff5500,#ff5800,#ff5c00,#ff5f00,#ff6300,#ff6700,#ff6b00,#ff6f00,#ff7200,#ff7600,#ff7900,#ff7b00,#ff7d00)"></i>
<i style="top:404px;background:linear-gradient(90deg,#650000,#650000,#650000,#650000,#650000,#660000,#680000,#6c0000,#760000,#8a0000,#b90000,#ff1900,#ffa200,#ffff99,#ffffff,#ffffeb,#ffffa0,#ffff34,#ffd700,#ff9b00,#ff6700,#ff3b00,#ff1700,#f60000,#d50000,#ba0000,#a40000,#910000,#820000,#750000,#6a0000,#610000,#5a0000,#540000,#4f0000,#4a0000,#460000,#430000,#400000,#3d0000,#3a0000,#380000,#350000,#330000,#310000,#300000,#300000,#300000,#300000,#300000,#300000,#300000,#300000,#310000,#320000,#330000,#340000,#350000,#370000,#380000,#390000,#3b0000,#3d0000,#3e0000,#400000,#420000,#440000,#460000,#490000,#4b0000,#4e0000,#520000,#550000,#5a0000,#5f0000,#650000,#6b0000,#720000,#790000,#800000,#870000,#8e0000,#940000,#9a0000,#a00000,#a60000,#ac0000,#b10000,#b60000,#bb0000,#bf0000,#c30000,#c80000,#cc0000,#d00000,#d40000,#d90000,#dd0000,#e10000,#e50000,#e90000,#ed0000,#f10000,#f60000,#fa0000,#fe0000,#ff0200,#ff0500,#ff0800,#ff0c00,#ff0f00,#ff1200,#ff1500,#ff1800,#ff1a00,#ff1d00,#ff2000,#ff2200,#ff2500,#ff2800,#ff2a00,#ff2d00,#ff2f00,#ff3200,#ff3400,#ff3700,#ff3a00,#ff3d00,#ff4000,#ff4200,#ff4500,#ff4800,#ff4b00,#ff4e00,#ff5200,#ff5500,#ff5800,#ff5c00,#ff6000,#ff6300,#ff6700,#ff6b00,#ff6f00,#ff7200,#ff7600,#ff7900,#ff7b00,#ff7d00)"></i>
<i style="top:408px;background:linear-gradient(90deg,#640000,#640000,#640000,#640000,#650000,#660000,#690000,#6e0000,#7b0000,#990000,#db0000,#ff4f00,#fff200,#fffff5,#ffffff,#ffffc6,#ffff64,#fff000,#ffaf00,#ff7700,#ff4800,#ff2200,#ff0200,#de0000,#c10000,#a90000,#950000,#840000,#760000,#6b0000,#610000,#590000,#520000,#4d0000,#480000,#440000,#400000,#3d0000,#3a0000,#380000,#350000,#330000,#300000,#300000,#300000,#300000,#300000,#300000,#300000,#300000,#300000,#300000,#300000,#300000,#300000,#300000,#300000,#320000,#330000,#340000,#360000,#370000,#390000,#3b0000,#3c0000,#3e0000,#410000,#430000,#450000,#480000,#4b0000,#4e0000,#520000,#570000,#5c0000,#620000,#680000,#6f0000,#760000,#7d0000,#840000,#8b0000,#920000,#990000,#9f0000,#a50000,#ab0000,#b00000,#b50000,#b90000,#be0000,#c20000,#c70000,#cb0000,#cf0000,#d40000,#d80000,#dc0000,#e00000,#e40000,#e90000,#ed0000,#f10000,#f50000,#f90000,#fd0000,#ff0200,#ff0500,#ff0800,#ff0b00,#ff0e00,#ff1100,#ff1400,#ff1700,#ff1a00,#ff1d00,#ff1f00,#ff2200,#ff2500,#ff2700,#ff2a00,#ff2c00,#ff2f00,#ff3100,#ff3400,#ff3700,#ff3a00,#ff3c00,#ff3f00,#ff4200,#ff4500,#ff4800,#ff4b00,#ff4e00,#ff5200,#ff5500,#ff5800,#ff5c00,#ff6000,#ff6400,#ff6700,#ff6b00,#ff6f00,#ff7300,#ff7600,#ff7900,#ff7b00,#ff7d00)"></i>
<i style="top:412px;background:linear-gradient(90deg,#640000,#640000,#640000,#640000,#640000,#660000,#6a0000,#720000,#830000,#ad0000,#ff0a00,#ff9200,#ffff86,#ffffff,#ffffe6,#ffff94,#ffff1d,#ffc700,#ff8a00,#ff5600,#ff2c00,#ff0b00,#e80000,#c90000,#af0000,#9a0000,#880000,#790000,#6c0000,#620000,#590000,#520000,#4b0000,#460000,#420000,#3e0000,#3b0000,#380000,#350000,#330000,#300000,#300000,#300000,#300000,#300000,#300000,#300000,#300000,#300000,#300000,#300000,#300000,#300000,#300000,#300000,#300000,#300000,#300000,#300000,#310000,#320000,#340000,#350000,#370000,#390000,#3b0000,#3d0000,#400000,#420000,#450000,#480000,#4b0000,#4f0000,#540000,#590000,#5f0000,#650000,#6c0000,#730000,#7b0000,#820000,#890000,#900000,#970000,#9e0000,#a40000,#a90000,#af0000,#b30000,#b80000,#bd0000,#c10000,#c60000,#ca0000,#ce0000,#d30000,#d70000,#db0000,#df0000,#e40000,#e80000,#ec0000,#f00000,#f40000,#f90000,#fd0000,#ff0100,#ff0500,#ff0800,#ff0b00,#ff0e00,#ff1100,#ff1400,#ff1700,#ff1a00,#ff1c00,#ff1f00,#ff2200,#ff2400,#ff2700,#ff2900,#ff2c00,#ff2e00,#ff3100,#ff3400,#ff3700,#ff3900,#ff3c00,#ff3f00,#ff4200,#ff4500,#ff4800,#ff4b00,#ff4e00,#ff5100,#ff5500,#ff5800,#ff5c00,#ff6000,#ff6400,#ff6800,#ff6b00,#ff6f00,#ff7300,#ff7600,#ff7900,#ff7b00,#ff7d00)"></i>
<i style="top:416px;background:linear-gradient(90deg,#630000,#630000,#630000,#630000,#640000,#670000,#6b0000,#760000,#8f0000,#ca0000,#ff3b00,#ffdc00,#ffffec,#ffffff,#ffffc0,#ffff55,#ffe300,#ff9f00,#ff6700,#ff3900,#ff1300,#f10000,#d00000,#b60000,#9f0000,#8c0000,#7c0000,#6f0000,#630000,#5a0000,#520000,#4b0000,#450000,#400000,#3c0000,#390000,#360000,#330000,#300000,#300000,#300000,#300000,#300000,#300000,#300000,#300000,#300000,#300000,#300000,#300000,#300000,#300000,#300000,#300000,#300000,#300000,#300000,#300000,#300000,#300000,#300000,#300000,#320000,#340000,#360000,#380000,#3a0000,#3c0000,#3f0000,#420000,#450000,#480000,#4c0000,#510000,#560000,#5c0000,#630000,#6a0000,#710000,#780000,#800000,#870000,#8f0000,#960000,#9c0000,#a20000,#a80000,#ad0000,#b20000,#b70000,#bc0000,#c00000,#c40000,#c90000,#cd0000,#d20000,#d60000,#da0000,#de0000,#e30000,#e70000,#eb0000,#ef0000,#f40000,#f80000,#fc0000,#ff0100,#ff0400,#ff0700,#ff0a00,#ff0d00,#ff1000,#ff1300,#ff1600,#ff1900,#ff1c00,#ff1f00,#ff2100,#ff2400,#ff2600,#ff2900,#ff2b00,#ff2e00,#ff3100,#ff3300,#ff3600,#ff3900,#ff3c00,#ff3f00,#ff4200,#ff4500,#ff4800,#ff4b00,#ff4e00,#ff5100,#ff5500,#ff5800,#ff5c00,#ff6000,#ff6400,#ff6800,#ff6b00,#ff6f00,#ff7300,#ff7600,#ff7900,#ff7b00,#ff7d00)"></i>
<i style="top:420px;background:linear-gradient(90deg,#630000,#630000,#630000,#630000,#640000,#670000,#6e0000,#7c0000,#a00000,#f20000,#ff7a00,#ffff61,#ffffff,#ffffe4,#ffff8c,#ffff08,#ffb900,#ff7b00,#ff4700,#ff1e00,#fc0000,#d80000,#bc0000,#a40000,#910000,#800000,#720000,#660000,#5b0000,#520000,#4b0000,#450000,#3f0000,#3b0000,#370000,#340000,#310000,#300000,#300000,#300000,#300000,#300000,#300000,#300000,#300000,#300000,#300000,#300000,#300000,#300000,#300000,#300000,#300000,#300000,#300000,#300000,#300000,#300000,#300000,#300000,#300000,#300000,#300000,#310000,#330000,#350000,#370000,#3a0000,#3c0000,#3f0000,#420000,#460000,#4a0000,#4e0000,#540000,#5a0000,#600000,#670000,#6f0000,#760000,#7e0000,#860000,#8d0000,#940000,#9b0000,#a10000,#a70000,#ac0000,#b10000,#b60000,#ba0000,#bf0000,#c30000,#c80000,#cc0000,#d10000,#d50000,#d90000,#dd0000,#e20000,#e60000,#ea0000,#ef0000,#f30000,#f70000,#fb0000,#ff0000,#ff0400,#ff0700,#ff0a00,#ff0d00,#ff1000,#ff1300,#ff1600,#ff1900,#ff1b00,#ff1e00,#ff2100,#ff2300,#ff2600,#ff2800,#ff2b00,#ff2e00,#ff3000,#ff3300,#ff3600,#ff3900,#ff3b00,#ff3e00,#ff4100,#ff4400,#ff4700,#ff4a00,#ff4e00,#ff5100,#ff5400,#ff5800,#ff5c00,#ff6000,#ff6400,#ff6700,#ff6b00,#ff6f00,#ff7200,#ff7600,#ff7800,#ff7a00,#ff7c00)"></i>
<i style="top:424px;background:linear-gradient(90deg,#620000,#620000,#630000,#630000,#650000,#680000,#710000,#840000,#b70000,#ff2100,#ffc000,#ffffd6,#ffffff,#ffffbe,#ffff4b,#ffd800,#ff9200,#ff5900,#ff2b00,#ff0700,#e10000,#c30000,#aa0000,#950000,#840000,#760000,#690000,#5e0000,#540000,#4c0000,#450000,#3f0000,#3a0000,#360000,#330000,#300000,#300000,#300000,#300000,#300000,#300000,#300000,#300000,#300000,#300000,#300000,#300000,#300000,#300000,#300000,#300000,#300000,#300000,#300000,#300000,#300000,#300000,#300000,#300000,#300000,#300000,#300000,#300000,#300000,#300000,#320000,#340000,#370000,#390000,#3c0000,#3f0000,#430000,#470000,#4c0000,#510000,#570000,#5e0000,#650000,#6d0000,#750000,#7d0000,#850000,#8c0000,#930000,#9a0000,#a00000,#a50000,#ab0000,#b00000,#b50000,#b90000,#be0000,#c20000,#c70000,#cb0000,#cf0000,#d40000,#d80000,#dc0000,#e10000,#e50000,#e90000,#ee0000,#f20000,#f60000,#fa0000,#ff0000,#ff0300,#ff0600,#ff0900,#ff0c00,#ff0f00,#ff1200,#ff1500,#ff1800,#ff1b00,#ff1d00,#ff2000,#ff2300,#ff2500,#ff2800,#ff2a00,#ff2d00,#ff3000,#ff3200,#ff3500,#ff3800,#ff3b00,#ff3e00,#ff4100,#ff4400,#ff4700,#ff4a00,#ff4d00,#ff5100,#ff5400,#ff5800,#ff5b00,#ff5f00,#ff6300,#ff6700,#ff6b00,#ff6f00,#ff7200,#ff7500,#ff7800,#ff7a00,#ff7c00)"></i>
<i style="top:428px;background:linear-gradient(90deg,#620000,#620000,#620000,#630000,#650000,#6a0000,#750000,#900000,#d50000,#ff5700,#ffff21,#ffffff,#ffffe6,#ffff89,#fffb00,#ffae00,#ff6e00,#ff3a00,#ff1200,#ec0000,#ca0000,#b00000,#9a0000,#880000,#790000,#6c0000,#600000,#560000,#4d0000,#460000,#3f0000,#3a0000,#350000,#320000,#300000,#300000,#300000,#300000,#300000,#300000,#300000,#300000,#300000,#300000,#300000,#300000,#300000,#300000,#300000,#300000,#300000,#300000,#300000,#300000,#300000,#300000,#300000,#300000,#300000,#300000,#300000,#300000,#300000,#300000,#300000,#300000,#320000,#340000,#370000,#3a0000,#3d0000,#410000,#450000,#4a0000,#4f0000,#550000,#5c0000,#630000,#6b0000,#730000,#7b0000,#830000,#8b0000,#920000,#980000,#9f0000,#a40000,#aa0000,#af0000,#b30000,#b80000,#bc0000,#c10000,#c50000,#ca0000,#ce0000,#d30000,#d70000,#db0000,#e00000,#e40000,#e80000,#ec0000,#f10000,#f50000,#f90000,#fe0000,#ff0200,#ff0500,#ff0800,#ff0c00,#ff0f00,#ff1200,#ff1400,#ff1700,#ff1a00,#ff1d00,#ff1f00,#ff2200,#ff2400,#ff2700,#ff2a00,#ff2c00,#ff2f00,#ff3200,#ff3500,#ff3700,#ff3a00,#ff3d00,#ff4000,#ff4300,#ff4600,#ff4900,#ff4d00,#ff5000,#ff5400,#ff5700,#ff5b00,#ff5f00,#ff6300,#ff6700,#ff6b00,#ff6e00,#ff7200,#ff7500,#ff7700,#ff7900,#ff7b00)"></i>
<i style="top:432px;background:linear-gradient(90deg,#620000,#620000,#620000,#630000,#650000,#6b0000,#7a0000,#a00000,#fe0000,#ff9600,#ffffa5,#ffffff,#ffffbf,#ffff47,#ffd000,#ff8800,#ff4d00,#ff1f00,#f90000,#d40000,#b70000,#9f0000,#8c0000,#7c0000,#6f0000,#630000,#590000,#500000,#470000,#400000,#3a0000,#350000,#310000,#300000,#300000,#300000,#300000,#300000,#300000,#300000,#300000,#300000,#300000,#300000,#300000,#300000,#300000,#300000,#300000,#300000,#300000,#300000,#300000,#300000,#300000,#300000,#300000,#300000,#300000,#300000,#300000,#300000,#300000,#300000,#300000,#300000,#300000,#320000,#340000,#370000,#3a0000,#3e0000,#420000,#470000,#4d0000,#530000,#5a0000,#620000,#6a0000,#720000,#7a0000,#820000,#890000,#910000,#970000,#9d0000,#a30000,#a80000,#ad0000,#b20000,#b70000,#bb0000,#c00000,#c40000,#c90000,#cd0000,#d10000,#d60000,#da0000,#de0000,#e30000,#e70000,#eb0000,#f00000,#f40000,#f80000,#fd0000,#ff0100,#ff0500,#ff0800,#ff0b00,#ff0e00,#ff1100,#ff1400,#ff1600,#ff1900,#ff1c00,#ff1f00,#ff2100,#ff2400,#ff2600,#ff2900,#ff2c00,#ff2e00,#ff3100,#ff3400,#ff3700,#ff3a00,#ff3d00,#ff4000,#ff4300,#ff4600,#ff4900,#ff4c00,#ff4f00,#ff5300,#ff5700,#ff5a00,#ff5e00,#ff6200,#ff6600,#ff6a00,#ff6e00,#ff7100,#ff7400,#ff7700,#ff7900,#ff7a00)"></i>
<i style="top:436px;background:linear-gradient(90deg,#610000,#610000,#620000,#630000,#660000,#6e0000,#810000,#b60000,#ff2a00,#ffd600,#ffffed,#ffffe0,#ffff86,#fff700,#ffa600,#ff6400,#ff3000,#ff0700,#df0000,#bf0000,#a50000,#910000,#800000,#720000,#660000,#5b0000,#520000,#4a0000,#420000,#3c0000,#360000,#310000,#300000,#300000,#300000,#300000,#300000,#300000,#300000,#300000,#300000,#300000,#300000,#300000,#300000,#300000,#300000,#300000,#300000,#300000,#300000,#300000,#300000,#300000,#300000,#300000,#300000,#300000,#300000,#300000,#300000,#300000,#300000,#300000,#300000,#300000,#300000,#300000,#320000,#350000,#380000,#3c0000,#400000,#450000,#4b0000,#520000,#590000,#610000,#690000,#710000,#790000,#810000,#880000,#8f0000,#960000,#9c0000,#a20000,#a70000,#ac0000,#b10000,#b60000,#ba0000,#bf0000,#c30000,#c70000,#cc0000,#d00000,#d50000,#d90000,#dd0000,#e20000,#e60000,#ea0000,#ef0000,#f30000,#f70000,#fb0000,#ff0100,#ff0400,#ff0700,#ff0a00,#ff0d00,#ff1000,#ff1300,#ff1600,#ff1800,#ff1b00,#ff1e00,#ff2000,#ff2300,#ff2600,#ff2800,#ff2b00,#ff2e00,#ff3000,#ff3300,#ff3600,#ff3900,#ff3c00,#ff3f00,#ff4200,#ff4500,#ff4800,#ff4b00,#ff4f00,#ff5200,#ff5600,#ff5a00,#ff5e00,#ff6200,#ff6600,#ff6a00,#ff6d00,#ff7100,#ff7400,#ff7600,#ff7800,#ff7a00)"></i>
<i style="top:440px;background:linear-gradient(90deg,#610000,#610000,#620000,#630000,#670000,#710000,#8c0000,#d10000,#ff6000,#ffff4f,#fffff2,#ffffb9,#ffff40,#ffc900,#ff7e00,#ff4300,#ff1500,#ed0000,#c90000,#ad0000,#960000,#840000,#750000,#690000,#5e0000,#540000,#4c0000,#440000,#3d0000,#370000,#320000,#300000,#300000,#300000,#300000,#300000,#300000,#300000,#300000,#300000,#300000,#300000,#300000,#300000,#300000,#300000,#300000,#300000,#300000,#300000,#300000,#300000,#300000,#300000,#300000,#300000,#300000,#300000,#300000,#300000,#300000,#300000,#300000,#300000,#300000,#300000,#300000,#300000,#300000,#330000,#360000,#3a0000,#3e0000,#440000,#4a0000,#500000,#580000,#5f0000,#670000,#700000,#780000,#800000,#870000,#8e0000,#950000,#9b0000,#a10000,#a60000,#ab0000,#b00000,#b40000,#b90000,#bd0000,#c20000,#c60000,#cb0000,#cf0000,#d40000,#d80000,#dc0000,#e10000,#e50000,#e90000,#ed0000,#f20000,#f60000,#fa0000,#ff0000,#ff0300,#ff0600,#ff0900,#ff0c00,#ff0f00,#ff1200,#ff1500,#ff1800,#ff1a00,#ff1d00,#ff2000,#ff2200,#ff2500,#ff2700,#ff2a00,#ff2d00,#ff3000,#ff3200,#ff3500,#ff3800,#ff3b00,#ff3e00,#ff4100,#ff4400,#ff4800,#ff4b00,#ff4e00,#ff5200,#ff5500,#ff5900,#ff5d00,#ff6100,#ff6500,#ff6900,#ff6d00,#ff7000,#ff7300,#ff7600,#ff7800,#ff7900)"></i>
<i style="top:444px;background:linear-gradient(90deg,#610000,#610000,#610000,#640000,#690000,#760000,#9a0000,#fc0000,#ff9b00,#ffffb8,#ffffd9,#ffff84,#fff200,#ff9e00,#ff5a00,#ff2600,#fd0000,#d40000,#b50000,#9d0000,#890000,#7a0000,#6c0000,#610000,#570000,#4e0000,#460000,#3f0000,#390000,#330000,#300000,#300000,#300000,#300000,#300000,#300000,#300000,#300000,#300000,#300000,#300000,#300000,#300000,#300000,#300000,#300000,#300000,#300000,#300000,#300000,#300000,#300000,#300000,#300000,#300000,#300000,#300000,#300000,#300000,#300000,#300000,#300000,#300000,#300000,#300000,#300000,#300000,#300000,#300000,#300000,#340000,#380000,#3d0000,#420000,#490000,#4f0000,#570000,#5e0000,#660000,#6e0000,#770000,#7e0000,#860000,#8d0000,#940000,#9a0000,#a00000,#a50000,#aa0000,#af0000,#b30000,#b80000,#bc0000,#c10000,#c50000,#ca0000,#ce0000,#d20000,#d70000,#db0000,#df0000,#e40000,#e80000,#ec0000,#f10000,#f50000,#f90000,#fe0000,#ff0200,#ff0500,#ff0900,#ff0c00,#ff0f00,#ff1100,#ff1400,#ff1700,#ff1a00,#ff1c00,#ff1f00,#ff2200,#ff2400,#ff2700,#ff2a00,#ff2c00,#ff2f00,#ff3200,#ff3500,#ff3800,#ff3b00,#ff3e00,#ff4100,#ff4400,#ff4700,#ff4a00,#ff4e00,#ff5100,#ff5500,#ff5900,#ff5d00,#ff6100,#ff6500,#ff6800,#ff6c00,#ff7000,#ff7300,#ff7500,#ff7700,#ff7900)"></i>
<i style="top:448px;background:linear-gradient(90deg,#610000,#610000,#610000,#640000,#6a0000,#7c0000,#ad0000,#ff2600,#ffe000,#ffffde,#ffffb8,#ffff3f,#ffc400,#ff7600,#ff3a00,#ff0c00,#e10000,#bf0000,#a40000,#8f0000,#7e0000,#700000,#640000,#5a0000,#510000,#490000,#410000,#3b0000,#350000,#300000,#300000,#300000,#300000,#300000,#300000,#300000,#300000,#300000,#300000,#300000,#300000,#300000,#300000,#300000,#300000,#300000,#300000,#300000,#300000,#300000,#300000,#300000,#300000,#300000,#300000,#300000,#300000,#300000,#300000,#300000,#300000,#300000,#300000,#300000,#300000,#300000,#300000,#300000,#300000,#300000,#330000,#370000,#3c0000,#410000,#470000,#4e0000,#560000,#5d0000,#650000,#6d0000,#760000,#7d0000,#850000,#8c0000,#930000,#990000,#9f0000,#a40000,#a90000,#ae0000,#b20000,#b70000,#bb0000,#c00000,#c40000,#c90000,#cd0000,#d20000,#d60000,#da0000,#df0000,#e30000,#e70000,#eb0000,#f00000,#f40000,#f80000,#fd0000,#ff0200,#ff0500,#ff0800,#ff0b00,#ff0e00,#ff1100,#ff1400,#ff1600,#ff1900,#ff1c00,#ff1e00,#ff2100,#ff2400,#ff2600,#ff2900,#ff2c00,#ff2e00,#ff3100,#ff3400,#ff3700,#ff3a00,#ff3d00,#ff4000,#ff4300,#ff4600,#ff4a00,#ff4d00,#ff5100,#ff5400,#ff5800,#ff5c00,#ff6000,#ff6400,#ff6800,#ff6c00,#ff6f00,#ff7200,#ff7500,#ff7700,#ff7800)"></i>
<i style="top:452px;background:linear-gradient(90deg,#600000,#600000,#610000,#650000,#6d0000,#840000,#c50000,#ff5700,#ffff58,#ffffd1,#ffff88,#fff200,#ff9900,#ff5300,#ff1d00,#f10000,#ca0000,#ac0000,#960000,#840000,#750000,#680000,#5d0000,#540000,#4b0000,#440000,#3d0000,#370000,#310000,#300000,#300000,#300000,#300000,#300000,#300000,#300000,#300000,#300000,#300000,#300000,#300000,#300000,#300000,#300000,#300000,#300000,#300000,#300000,#300000,#300000,#300000,#300000,#300000,#300000,#300000,#300000,#300000,#300000,#300000,#300000,#300000,#300000,#300000,#300000,#300000,#300000,#300000,#300000,#300000,#300000,#320000,#360000,#3b0000,#400000,#460000,#4d0000,#540000,#5c0000,#640000,#6d0000,#750000,#7d0000,#840000,#8b0000,#920000,#980000,#9e0000,#a30000,#a80000,#ad0000,#b20000,#b60000,#bb0000,#bf0000,#c30000,#c80000,#cc0000,#d10000,#d50000,#d90000,#de0000,#e20000,#e60000,#eb0000,#ef0000,#f30000,#f80000,#fc0000,#ff0100,#ff0400,#ff0700,#ff0a00,#ff0d00,#ff1000,#ff1300,#ff1600,#ff1800,#ff1b00,#ff1e00,#ff2000,#ff2300,#ff2600,#ff2800,#ff2b00,#ff2e00,#ff3100,#ff3400,#ff3700,#ff3a00,#ff3d00,#ff4000,#ff4300,#ff4600,#ff4900,#ff4d00,#ff5000,#ff5400,#ff5800,#ff5c00,#ff6000,#ff6400,#ff6800,#ff6b00,#ff6f00,#ff7200,#ff7400,#ff7600,#ff7800)"></i>
<i style="top:456px;background:linear-gradient(90deg,#600000,#600000,#620000,#650000,#700000,#8f0000,#ea0000,#ff8a00,#ffffac,#ffffb9,#ffff48,#ffc400,#ff7200,#ff3300,#ff0400,#d70000,#b60000,#9d0000,#890000,#7a0000,#6c0000,#610000,#570000,#4e0000,#470000,#3f0000,#390000,#330000,#300000,#300000,#300000,#300000,#300000,#300000,#300000,#300000,#300000,#300000,#300000,#300000,#300000,#300000,#300000,#300000,#300000,#300000,#300000,#300000,#300000,#300000,#300000,#300000,#300000,#300000,#300000,#300000,#300000,#300000,#300000,#300000,#300000,#300000,#300000,#300000,#300000,#300000,#300000,#300000,#300000,#300000,#300000,#350000,#3a0000,#3f0000,#450000,#4c0000,#540000,#5b0000,#630000,#6c0000,#740000,#7c0000,#830000,#8a0000,#910000,#970000,#9d0000,#a20000,#a70000,#ac0000,#b10000,#b50000,#ba0000,#be0000,#c30000,#c70000,#cb0000,#d00000,#d40000,#d80000,#dd0000,#e10000,#e50000,#ea0000,#ee0000,#f20000,#f70000,#fb0000,#ff0000,#ff0300,#ff0700,#ff0a00,#ff0d00,#ff1000,#ff1200,#ff1500,#ff1800,#ff1b00,#ff1d00,#ff2000,#ff2200,#ff2500,#ff2800,#ff2b00,#ff2d00,#ff3000,#ff3300,#ff3600,#ff3900,#ff3c00,#ff3f00,#ff4200,#ff4500,#ff4900,#ff4c00,#ff5000,#ff5300,#ff5700,#ff5b00,#ff5f00,#ff6300,#ff6700,#ff6b00,#ff6e00,#ff7100,#ff7400,#ff7600,#ff7800)"></i>
<i style="top:460px;background:linear-gradient(90deg,#600000,#600000,#620000,#670000,#740000,#9d0000,#ff1200,#ffd300,#ffffbf,#ffff93,#fff800,#ff9a00,#ff4f00,#ff1700,#e80000,#c10000,#a50000,#8f0000,#7e0000,#710000,#650000,#5b0000,#520000,#4a0000,#420000,#3c0000,#350000,#300000,#300000,#300000,#300000,#300000,#300000,#300000,#300000,#300000,#300000,#300000,#300000,#300000,#300000,#300000,#300000,#300000,#300000,#300000,#300000,#300000,#300000,#300000,#300000,#300000,#300000,#300000,#300000,#300000,#300000,#300000,#300000,#300000,#300000,#300000,#300000,#300000,#300000,#300000,#300000,#300000,#300000,#300000,#300000,#340000,#390000,#3e0000,#440000,#4b0000,#530000,#5a0000,#630000,#6b0000,#730000,#7b0000,#820000,#8a0000,#900000,#960000,#9c0000,#a10000,#a60000,#ab0000,#b00000,#b40000,#b90000,#bd0000,#c20000,#c60000,#cb0000,#cf0000,#d30000,#d80000,#dc0000,#e00000,#e50000,#e90000,#ed0000,#f20000,#f60000,#fa0000,#ff0000,#ff0300,#ff0600,#ff0900,#ff0c00,#ff0f00,#ff1200,#ff1500,#ff1700,#ff1a00,#ff1d00,#ff1f00,#ff2200,#ff2500,#ff2700,#ff2a00,#ff2d00,#ff3000,#ff3300,#ff3600,#ff3900,#ff3c00,#ff3f00,#ff4200,#ff4500,#ff4800,#ff4c00,#ff4f00,#ff5300,#ff5700,#ff5b00,#ff5f00,#ff6300,#ff6700,#ff6a00,#ff6e00,#ff7100,#ff7400,#ff7600,#ff7700)"></i>
<i style="top:464px;background:linear-gradient(90deg,#5f0000,#600000,#620000,#680000,#790000,#ae0000,#ff3800,#ffff30,#ffffb7,#ffff5c,#ffcc00,#ff7300,#ff2f00,#fd0000,#cf0000,#ae0000,#960000,#840000,#750000,#690000,#5f0000,#550000,#4d0000,#460000,#3f0000,#380000,#320000,#300000,#300000,#300000,#300000,#300000,#300000,#300000,#300000,#300000,#300000,#300000,#300000,#300000,#300000,#300000,#300000,#300000,#300000,#300000,#300000,#300000,#300000,#300000,#300000,#300000,#300000,#300000,#300000,#300000,#300000,#300000,#300000,#300000,#300000,#300000,#300000,#300000,#300000,#300000,#300000,#300000,#300000,#300000,#300000,#330000,#380000,#3d0000,#440000,#4a0000,#520000,#5a0000,#620000,#6a0000,#720000,#7a0000,#820000,#890000,#8f0000,#960000,#9b0000,#a10000,#a60000,#aa0000,#af0000,#b40000,#b80000,#bd0000,#c10000,#c50000,#ca0000,#ce0000,#d20000,#d70000,#db0000,#df0000,#e40000,#e80000,#ec0000,#f10000,#f50000,#fa0000,#fe0000,#ff0200,#ff0500,#ff0900,#ff0c00,#ff0f00,#ff1100,#ff1400,#ff1700,#ff1a00,#ff1c00,#ff1f00,#ff2100,#ff2400,#ff2700,#ff2a00,#ff2c00,#ff2f00,#ff3200,#ff3500,#ff3800,#ff3b00,#ff3e00,#ff4100,#ff4500,#ff4800,#ff4b00,#ff4f00,#ff5300,#ff5600,#ff5a00,#ff5e00,#ff6200,#ff6600,#ff6a00,#ff6e00,#ff7100,#ff7300,#ff7500,#ff7700)"></i>
<i style="top:468px;background:linear-gradient(90deg,#5f0000,#600000,#620000,#6a0000,#800000,#c80000,#ff6500,#ffff79,#ffffa4,#ffff14,#ffa500,#ff5000,#ff1300,#e10000,#ba0000,#9f0000,#8a0000,#7a0000,#6d0000,#620000,#590000,#510000,#490000,#420000,#3b0000,#350000,#300000,#300000,#300000,#300000,#300000,#300000,#300000,#300000,#300000,#300000,#300000,#300000,#300000,#300000,#300000,#300000,#300000,#300000,#300000,#300000,#300000,#300000,#300000,#300000,#300000,#300000,#300000,#300000,#300000,#300000,#300000,#300000,#300000,#300000,#300000,#300000,#300000,#300000,#300000,#300000,#300000,#300000,#300000,#300000,#300000,#320000,#370000,#3c0000,#430000,#4a0000,#510000,#590000,#610000,#690000,#710000,#790000,#810000,#880000,#8f0000,#950000,#9b0000,#a00000,#a50000,#aa0000,#ae0000,#b30000,#b70000,#bc0000,#c00000,#c50000,#c90000,#cd0000,#d20000,#d60000,#da0000,#df0000,#e30000,#e70000,#ec0000,#f00000,#f40000,#f90000,#fd0000,#ff0200,#ff0500,#ff0800,#ff0b00,#ff0e00,#ff1100,#ff1400,#ff1600,#ff1900,#ff1c00,#ff1e00,#ff2100,#ff2400,#ff2600,#ff2900,#ff2c00,#ff2f00,#ff3200,#ff3500,#ff3800,#ff3b00,#ff3e00,#ff4100,#ff4400,#ff4700,#ff4b00,#ff4e00,#ff5200,#ff5600,#ff5a00,#ff5e00,#ff6200,#ff6600,#ff6a00,#ff6d00,#ff7000,#ff7300,#ff7500,#ff7600)"></i>
<i style="top:472px;background:linear-gradient(90deg,#5f0000,#600000,#630000,#6c0000,#890000,#e80000,#ffa400,#ffff91,#ffff7c,#ffe000,#ff7f00,#ff3100,#fb0000,#ca0000,#a90000,#910000,#800000,#720000,#660000,#5d0000,#540000,#4c0000,#450000,#3f0000,#380000,#320000,#300000,#300000,#300000,#300000,#300000,#300000,#300000,#300000,#300000,#300000,#300000,#300000,#300000,#300000,#300000,#300000,#300000,#300000,#300000,#300000,#300000,#300000,#300000,#300000,#300000,#300000,#300000,#300000,#300000,#300000,#300000,#300000,#300000,#300000,#300000,#300000,#300000,#300000,#300000,#300000,#300000,#300000,#300000,#300000,#300000,#310000,#360000,#3c0000,#420000,#490000,#500000,#580000,#600000,#680000,#700000,#780000,#800000,#870000,#8e0000,#940000,#9a0000,#9f0000,#a40000,#a90000,#ae0000,#b20000,#b70000,#bb0000,#bf0000,#c40000,#c80000,#cd0000,#d10000,#d50000,#da0000,#de0000,#e20000,#e70000,#eb0000,#ef0000,#f40000,#f80000,#fc0000,#ff0100,#ff0400,#ff0800,#ff0b00,#ff0e00,#ff1000,#ff1300,#ff1600,#ff1900,#ff1b00,#ff1e00,#ff2000,#ff2300,#ff2600,#ff2900,#ff2b00,#ff2e00,#ff3100,#ff3400,#ff3700,#ff3a00,#ff3d00,#ff4000,#ff4400,#ff4700,#ff4a00,#ff4e00,#ff5200,#ff5600,#ff5a00,#ff5e00,#ff6200,#ff6600,#ff6900,#ff6d00,#ff7000,#ff7200,#ff7500,#ff7600)"></i>
<i style="top:476px;background:linear-gradient(90deg,#5f0000,#600000,#640000,#6f0000,#940000,#ff0900,#ffdf00,#ffffa7,#ffff41,#ffba00,#ff5b00,#ff1700,#e10000,#b70000,#9b0000,#860000,#770000,#6b0000,#610000,#580000,#500000,#490000,#420000,#3b0000,#350000,#300000,#300000,#300000,#300000,#300000,#300000,#300000,#300000,#300000,#300000,#300000,#300000,#300000,#300000,#300000,#300000,#300000,#300000,#300000,#300000,#300000,#300000,#300000,#300000,#300000,#300000,#300000,#300000,#300000,#300000,#300000,#300000,#300000,#300000,#300000,#300000,#300000,#300000,#300000,#300000,#300000,#300000,#300000,#300000,#300000,#300000,#300000,#350000,#3b0000,#410000,#480000,#4f0000,#570000,#5f0000,#680000,#700000,#780000,#7f0000,#860000,#8d0000,#930000,#990000,#9e0000,#a30000,#a80000,#ad0000,#b10000,#b60000,#ba0000,#bf0000,#c30000,#c80000,#cc0000,#d00000,#d50000,#d90000,#dd0000,#e20000,#e60000,#ea0000,#ef0000,#f30000,#f70000,#fc0000,#ff0100,#ff0400,#ff0700,#ff0a00,#ff0d00,#ff1000,#ff1300,#ff1500,#ff1800,#ff1b00,#ff1d00,#ff2000,#ff2300,#ff2500,#ff2800,#ff2b00,#ff2e00,#ff3100,#ff3400,#ff3700,#ff3a00,#ff3d00,#ff4000,#ff4300,#ff4700,#ff4a00,#ff4e00,#ff5100,#ff5500,#ff5900,#ff5d00,#ff6100,#ff6500,#ff6900,#ff6c00,#ff7000,#ff7200,#ff7400,#ff7600)"></i>
<i style="top:480px;background:linear-gradient(90deg,#5e0000,#600000,#640000,#730000,#a30000,#ff2d00,#ffff0f,#ffff95,#fffc00,#ff9300,#ff3b00,#ff0100,#cb0000,#a80000,#8f0000,#7d0000,#6f0000,#650000,#5b0000,#530000,#4c0000,#450000,#3f0000,#390000,#330000,#300000,#300000,#300000,#300000,#300000,#300000,#300000,#300000,#300000,#300000,#300000,#300000,#300000,#300000,#300000,#300000,#300000,#300000,#300000,#300000,#300000,#300000,#300000,#300000,#300000,#300000,#300000,#300000,#300000,#300000,#300000,#300000,#300000,#300000,#300000,#300000,#300000,#300000,#300000,#300000,#300000,#300000,#300000,#300000,#300000,#300000,#300000,#340000,#3a0000,#400000,#470000,#4e0000,#560000,#5f0000,#670000,#6f0000,#770000,#7f0000,#860000,#8c0000,#930000,#980000,#9e0000,#a30000,#a70000,#ac0000,#b10000,#b50000,#ba0000,#be0000,#c20000,#c70000,#cb0000,#d00000,#d40000,#d80000,#dd0000,#e10000,#e50000,#ea0000,#ee0000,#f20000,#f70000,#fb0000,#ff0000,#ff0300,#ff0700,#ff0a00,#ff0d00,#ff0f00,#ff1200,#ff1500,#ff1800,#ff1a00,#ff1d00,#ff2000,#ff2200,#ff2500,#ff2800,#ff2b00,#ff2d00,#ff3000,#ff3300,#ff3600,#ff3900,#ff3d00,#ff4000,#ff4300,#ff4600,#ff4a00,#ff4d00,#ff5100,#ff5500,#ff5900,#ff5d00,#ff6100,#ff6500,#ff6900,#ff6c00,#ff6f00,#ff7200,#ff7400,#ff7500)"></i>
<i style="top:484px;background:linear-gradient(90deg,#5e0000,#600000,#650000,#770000,#b50000,#ff5c00,#ffff62,#ffff6c,#ffd800,#ff6d00,#ff2000,#e50000,#b80000,#9a0000,#850000,#750000,#690000,#5f0000,#570000,#500000,#490000,#420000,#3c0000,#360000,#300000,#300000,#300000,#300000,#300000,#300000,#300000,#300000,#300000,#300000,#300000,#300000,#300000,#300000,#300000,#300000,#300000,#300000,#300000,#300000,#300000,#300000,#300000,#300000,#300000,#300000,#300000,#300000,#300000,#300000,#300000,#300000,#300000,#300000,#300000,#300000,#300000,#300000,#300000,#300000,#300000,#300000,#300000,#300000,#300000,#300000,#300000,#300000,#330000,#390000,#3f0000,#460000,#4e0000,#560000,#5e0000,#660000,#6e0000,#760000,#7e0000,#850000,#8c0000,#920000,#980000,#9d0000,#a20000,#a70000,#ab0000,#b00000,#b40000,#b90000,#bd0000,#c20000,#c60000,#cb0000,#cf0000,#d30000,#d80000,#dc0000,#e00000,#e50000,#e90000,#ed0000,#f20000,#f60000,#fa0000,#ff0000,#ff0300,#ff0600,#ff0900,#ff0c00,#ff0f00,#ff1200,#ff1500,#ff1700,#ff1a00,#ff1c00,#ff1f00,#ff2200,#ff2500,#ff2700,#ff2a00,#ff2d00,#ff3000,#ff3300,#ff3600,#ff3900,#ff3c00,#ff3f00,#ff4300,#ff4600,#ff4900,#ff4d00,#ff5100,#ff5500,#ff5900,#ff5d00,#ff6100,#ff6400,#ff6800,#ff6c00,#ff6f00,#ff7100,#ff7400,#ff7500)"></i>
<i style="top:488px;background:linear-gradient(90deg,#5e0000,#600000,#660000,#7c0000,#c80000,#ff8800,#ffff91,#ffff39,#ffb100,#ff4c00,#ff0800,#ce0000,#a80000,#8e0000,#7c0000,#6f0000,#640000,#5b0000,#530000,#4c0000,#460000,#400000,#3a0000,#340000,#300000,#300000,#300000,#300000,#300000,#300000,#300000,#300000,#300000,#300000,#300000,#300000,#300000,#300000,#300000,#300000,#300000,#300000,#300000,#300000,#300000,#300000,#300000,#300000,#300000,#300000,#300000,#300000,#300000,#300000,#300000,#300000,#300000,#300000,#300000,#300000,#300000,#300000,#300000,#300000,#300000,#300000,#300000,#300000,#300000,#300000,#300000,#300000,#330000,#380000,#3e0000,#450000,#4d0000,#550000,#5d0000,#650000,#6e0000,#760000,#7d0000,#840000,#8b0000,#910000,#970000,#9c0000,#a10000,#a60000,#ab0000,#af0000,#b40000,#b80000,#bd0000,#c10000,#c50000,#ca0000,#ce0000,#d30000,#d70000,#db0000,#e00000,#e40000,#e80000,#ed0000,#f10000,#f50000,#fa0000,#fe0000,#ff0300,#ff0600,#ff0900,#ff0c00,#ff0f00,#ff1100,#ff1400,#ff1700,#ff1900,#ff1c00,#ff1f00,#ff2100,#ff2400,#ff2700,#ff2a00,#ff2d00,#ff3000,#ff3300,#ff3600,#ff3900,#ff3c00,#ff3f00,#ff4200,#ff4500,#ff4900,#ff4d00,#ff5000,#ff5400,#ff5800,#ff5c00,#ff6000,#ff6400,#ff6800,#ff6b00,#ff6f00,#ff7100,#ff7300,#ff7500)"></i>
<i style="top:492px;background:linear-gradient(90deg,#5e0000,#600000,#680000,#830000,#e70000,#ffad00,#ffff83,#ffff01,#ff8900,#ff2f00,#ee0000,#bb0000,#9b0000,#850000,#750000,#690000,#5f0000,#570000,#500000,#490000,#430000,#3d0000,#370000,#320000,#300000,#300000,#300000,#300000,#300000,#300000,#300000,#300000,#300000,#300000,#300000,#300000,#300000,#300000,#300000,#300000,#300000,#300000,#300000,#300000,#300000,#300000,#300000,#300000,#300000,#300000,#300000,#300000,#300000,#300000,#300000,#300000,#300000,#300000,#300000,#300000,#300000,#300000,#300000,#300000,#300000,#300000,#300000,#300000,#300000,#300000,#300000,#300000,#320000,#370000,#3e0000,#450000,#4c0000,#540000,#5c0000,#650000,#6d0000,#750000,#7c0000,#840000,#8a0000,#910000,#960000,#9c0000,#a10000,#a50000,#aa0000,#af0000,#b30000,#b80000,#bc0000,#c00000,#c50000,#c90000,#ce0000,#d20000,#d60000,#db0000,#df0000,#e30000,#e80000,#ec0000,#f00000,#f50000,#f90000,#fe0000,#ff0200,#ff0500,#ff0800,#ff0b00,#ff0e00,#ff1100,#ff1400,#ff1600,#ff1900,#ff1c00,#ff1e00,#ff2100,#ff2400,#ff2700,#ff2900,#ff2c00,#ff2f00,#ff3200,#ff3500,#ff3800,#ff3b00,#ff3f00,#ff4200,#ff4500,#ff4900,#ff4c00,#ff5000,#ff5400,#ff5800,#ff5c00,#ff6000,#ff6400,#ff6800,#ff6b00,#ff6e00,#ff7100,#ff7300,#ff7400)"></i>
<i style="top:496px;background:linear-gradient(90deg,#5d0000,#600000,#690000,#8b0000,#ff0800,#ffec00,#ffff60,#ffdb00,#ff6600,#ff1500,#d50000,#ab0000,#8f0000,#7c0000,#6f0000,#640000,#5b0000,#540000,#4d0000,#460000,#410000,#3b0000,#350000,#300000,#300000,#300000,#300000,#300000,#300000,#300000,#300000,#300000,#300000,#300000,#300000,#300000,#300000,#300000,#300000,#300000,#300000,#300000,#300000,#300000,#300000,#300000,#300000,#300000,#300000,#300000,#300000,#300000,#300000,#300000,#300000,#300000,#300000,#300000,#300000,#300000,#300000,#300000,#300000,#300000,#300000,#300000,#300000,#300000,#300000,#300000,#300000,#300000,#310000,#370000,#3d0000,#440000,#4b0000,#530000,#5c0000,#640000,#6c0000,#740000,#7c0000,#830000,#8a0000,#900000,#960000,#9b0000,#a00000,#a50000,#a90000,#ae0000,#b20000,#b70000,#bb0000,#c00000,#c40000,#c90000,#cd0000,#d10000,#d60000,#da0000,#de0000,#e30000,#e70000,#eb0000,#f00000,#f40000,#f90000,#fd0000,#ff0200,#ff0500,#ff0800,#ff0b00,#ff0e00,#ff1000,#ff1300,#ff1600,#ff1900,#ff1b00,#ff1e00,#ff2100,#ff2300,#ff2600,#ff2900,#ff2c00,#ff2f00,#ff3200,#ff3500,#ff3800,#ff3b00,#ff3e00,#ff4100,#ff4500,#ff4800,#ff4c00,#ff5000,#ff5400,#ff5700,#ff5c00,#ff6000,#ff6400,#ff6700,#ff6b00,#ff6e00,#ff7100,#ff7300,#ff7400)"></i>
<i style="top:500px;background:linear-gradient(90deg,#5d0000,#610000,#6b0000,#920000,#ff2100,#ffff2c,#ffff4e,#ffb200,#ff4700,#fc0000,#c10000,#9d0000,#860000,#750000,#690000,#600000,#580000,#510000,#4a0000,#440000,#3e0000,#390000,#340000,#300000,#300000,#300000,#300000,#300000,#300000,#300000,#300000,#300000,#300000,#300000,#300000,#300000,#300000,#300000,#300000,#300000,#300000,#300000,#300000,#300000,#300000,#300000,#300000,#300000,#300000,#300000,#300000,#300000,#300000,#300000,#300000,#300000,#300000,#300000,#300000,#300000,#300000,#300000,#300000,#300000,#300000,#300000,#300000,#300000,#300000,#300000,#300000,#300000,#300000,#360000,#3c0000,#430000,#4b0000,#530000,#5b0000,#630000,#6b0000,#730000,#7b0000,#820000,#890000,#8f0000,#950000,#9a0000,#9f0000,#a40000,#a90000,#ad0000,#b20000,#b60000,#bb0000,#bf0000,#c40000,#c80000,#cc0000,#d10000,#d50000,#d90000,#de0000,#e20000,#e60000,#eb0000,#ef0000,#f40000,#f80000,#fc0000,#ff0100,#ff0400,#ff0700,#ff0a00,#ff0d00,#ff1000,#ff1300,#ff1600,#ff1800,#ff1b00,#ff1e00,#ff2000,#ff2300,#ff2600,#ff2900,#ff2b00,#ff2e00,#ff3100,#ff3400,#ff3800,#ff3b00,#ff3e00,#ff4100,#ff4400,#ff4800,#ff4c00,#ff4f00,#ff5300,#ff5700,#ff5b00,#ff5f00,#ff6300,#ff6700,#ff6a00,#ff6e00,#ff7000,#ff7200,#ff7400)"></i>
<i style="top:504px;background:linear-gradient(90deg,#5d0000,#610000,#6d0000,#9f0000,#ff3f00,#ffff38,#ffff21,#ff9100,#ff2a00,#e20000,#b00000,#910000,#7d0000,#6f0000,#650000,#5c0000,#550000,#4e0000,#480000,#420000,#3d0000,#370000,#320000,#300000,#300000,#300000,#300000,#300000,#300000,#300000,#300000,#300000,#300000,#300000,#300000,#300000,#300000,#300000,#300000,#300000,#300000,#300000,#300000,#300000,#300000,#300000,#300000,#300000,#300000,#300000,#300000,#300000,#300000,#300000,#300000,#300000,#300000,#300000,#300000,#300000,#300000,#300000,#300000,#300000,#300000,#300000,#300000,#300000,#300000,#300000,#300000,#300000,#300000,#350000,#3b0000,#420000,#4a0000,#520000,#5a0000,#620000,#6b0000,#730000,#7a0000,#820000,#880000,#8f0000,#940000,#9a0000,#9f0000,#a40000,#a80000,#ad0000,#b10000,#b60000,#ba0000,#bf0000,#c30000,#c70000,#cc0000,#d00000,#d40000,#d90000,#dd0000,#e20000,#e60000,#ea0000,#ef0000,#f30000,#f70000,#fc0000,#ff0100,#ff0400,#ff0700,#ff0a00,#ff0d00,#ff1000,#ff1200,#ff1500,#ff1800,#ff1a00,#ff1d00,#ff2000,#ff2300,#ff2500,#ff2800,#ff2b00,#ff2e00,#ff3100,#ff3400,#ff3700,#ff3a00,#ff3d00,#ff4100,#ff4400,#ff4800,#ff4b00,#ff4f00,#ff5300,#ff5700,#ff5b00,#ff5f00,#ff6300,#ff6700,#ff6a00,#ff6d00,#ff7000,#ff7200,#ff7400)"></i>
<i style="top:508px;background:linear-gradient(90deg,#5d0000,#610000,#700000,#ad0000,#ff6c00,#ffff5c,#ffea00,#ff7000,#ff1000,#cd0000,#a20000,#870000,#760000,#6a0000,#600000,#590000,#520000,#4c0000,#460000,#400000,#3b0000,#360000,#300000,#300000,#300000,#300000,#300000,#300000,#300000,#300000,#300000,#300000,#300000,#300000,#300000,#300000,#300000,#300000,#300000,#300000,#300000,#300000,#300000,#300000,#300000,#300000,#300000,#300000,#300000,#300000,#300000,#300000,#300000,#300000,#300000,#300000,#300000,#300000,#300000,#300000,#300000,#300000,#300000,#300000,#300000,#300000,#300000,#300000,#300000,#300000,#300000,#300000,#300000,#340000,#3b0000,#420000,#490000,#510000,#590000,#620000,#6a0000,#720000,#7a0000,#810000,#880000,#8e0000,#940000,#990000,#9e0000,#a30000,#a80000,#ac0000,#b10000,#b50000,#ba0000,#be0000,#c20000,#c70000,#cb0000,#cf0000,#d40000,#d80000,#dd0000,#e10000,#e50000,#ea0000,#ee0000,#f30000,#f70000,#fb0000,#ff0000,#ff0400,#ff0700,#ff0a00,#ff0c00,#ff0f00,#ff1200,#ff1500,#ff1700,#ff1a00,#ff1d00,#ff1f00,#ff2200,#ff2500,#ff2800,#ff2b00,#ff2e00,#ff3100,#ff3400,#ff3700,#ff3a00,#ff3d00,#ff4000,#ff4400,#ff4700,#ff4b00,#ff4f00,#ff5300,#ff5700,#ff5b00,#ff5f00,#ff6300,#ff6600,#ff6a00,#ff6d00,#ff7000,#ff7200,#ff7300)"></i>
<i style="top:512px;background:linear-gradient(90deg,#5d0000,#610000,#720000,#ba0000,#ff8f00,#ffff5e,#ffcc00,#ff4e00,#f90000,#ba0000,#950000,#7f0000,#700000,#650000,#5d0000,#560000,#4f0000,#4a0000,#440000,#3f0000,#390000,#340000,#300000,#300000,#300000,#300000,#300000,#300000,#300000,#300000,#300000,#300000,#300000,#300000,#300000,#300000,#300000,#300000,#300000,#300000,#300000,#300000,#300000,#300000,#300000,#300000,#300000,#300000,#300000,#300000,#300000,#300000,#300000,#300000,#300000,#300000,#300000,#300000,#300000,#300000,#300000,#300000,#300000,#300000,#300000,#300000,#300000,#300000,#300000,#300000,#300000,#300000,#300000,#330000,#3a0000,#410000,#480000,#500000,#590000,#610000,#690000,#710000,#790000,#800000,#870000,#8d0000,#930000,#980000,#9e0000,#a20000,#a70000,#ac0000,#b00000,#b40000,#b90000,#bd0000,#c20000,#c60000,#cb0000,#cf0000,#d30000,#d80000,#dc0000,#e00000,#e50000,#e90000,#ee0000,#f20000,#f60000,#fb0000,#ff0000,#ff0300,#ff0600,#ff0900,#ff0c00,#ff0f00,#ff1200,#ff1400,#ff1700,#ff1a00,#ff1c00,#ff1f00,#ff2200,#ff2500,#ff2800,#ff2a00,#ff2d00,#ff3000,#ff3300,#ff3700,#ff3a00,#ff3d00,#ff4000,#ff4300,#ff4700,#ff4b00,#ff4e00,#ff5200,#ff5600,#ff5a00,#ff5e00,#ff6200,#ff6600,#ff6a00,#ff6d00,#ff6f00,#ff7100,#ff7300)"></i>
<i style="top:516px;background:linear-gradient(90deg,#5d0000,#620000,#750000,#cc0000,#ffa100,#ffff3d,#ffac00,#ff3000,#e00000,#aa0000,#8b0000,#780000,#6b0000,#620000,#5a0000,#530000,#4d0000,#480000,#420000,#3d0000,#380000,#330000,#300000,#300000,#300000,#300000,#300000,#300000,#300000,#300000,#300000,#300000,#300000,#300000,#300000,#300000,#300000,#300000,#300000,#300000,#300000,#300000,#300000,#300000,#300000,#300000,#300000,#300000,#300000,#300000,#300000,#300000,#300000,#300000,#300000,#300000,#300000,#300000,#300000,#300000,#300000,#300000,#300000,#300000,#300000,#300000,#300000,#300000,#300000,#300000,#300000,#300000,#300000,#330000,#390000,#400000,#480000,#500000,#580000,#600000,#690000,#710000,#790000,#800000,#870000,#8d0000,#930000,#980000,#9d0000,#a20000,#a60000,#ab0000,#af0000,#b40000,#b80000,#bd0000,#c10000,#c60000,#ca0000,#ce0000,#d30000,#d70000,#db0000,#e00000,#e40000,#e90000,#ed0000,#f10000,#f60000,#fa0000,#ff0000,#ff0300,#ff0600,#ff0900,#ff0c00,#ff0f00,#ff1100,#ff1400,#ff1700,#ff1900,#ff1c00,#ff1f00,#ff2100,#ff2400,#ff2700,#ff2a00,#ff2d00,#ff3000,#ff3300,#ff3600,#ff3900,#ff3d00,#ff4000,#ff4300,#ff4700,#ff4a00,#ff4e00,#ff5200,#ff5600,#ff5a00,#ff5e00,#ff6200,#ff6600,#ff6900,#ff6c00,#ff6f00,#ff7100,#ff7300)"></i>
<i style="top:520px;background:linear-gradient(90deg,#5d0000,#620000,#790000,#e30000,#ffd900,#ffff13,#ff8800,#ff1800,#ca0000,#9c0000,#830000,#720000,#670000,#5e0000,#570000,#510000,#4b0000,#460000,#410000,#3c0000,#370000,#310000,#300000,#300000,#300000,#300000,#300000,#300000,#300000,#300000,#300000,#300000,#300000,#300000,#300000,#300000,#300000,#300000,#300000,#300000,#300000,#300000,#300000,#300000,#300000,#300000,#300000,#300000,#300000,#300000,#300000,#300000,#300000,#300000,#300000,#300000,#300000,#300000,#300000,#300000,#300000,#300000,#300000,#300000,#300000,#300000,#300000,#300000,#300000,#300000,#300000,#300000,#300000,#320000,#380000,#3f0000,#470000,#4f0000,#570000,#600000,#680000,#700000,#780000,#7f0000,#860000,#8c0000,#920000,#970000,#9c0000,#a10000,#a60000,#aa0000,#af0000,#b30000,#b80000,#bc0000,#c10000,#c50000,#c90000,#ce0000,#d20000,#d60000,#db0000,#df0000,#e40000,#e80000,#ec0000,#f10000,#f50000,#fa0000,#fe0000,#ff0200,#ff0500,#ff0800,#ff0b00,#ff0e00,#ff1100,#ff1400,#ff1600,#ff1900,#ff1c00,#ff1e00,#ff2100,#ff2400,#ff2700,#ff2a00,#ff2d00,#ff3000,#ff3300,#ff3600,#ff3900,#ff3c00,#ff3f00,#ff4300,#ff4600,#ff4a00,#ff4e00,#ff5200,#ff5600,#ff5a00,#ff5e00,#ff6200,#ff6600,#ff6900,#ff6c00,#ff6f00,#ff7100,#ff7300)"></i>
<i style="top:524px;background:linear-gradient(90deg,#5d0000,#620000,#7b0000,#f60000,#fff600,#fffa00,#ff6500,#ff0100,#b70000,#910000,#7b0000,#6d0000,#630000,#5b0000,#550000,#4f0000,#4a0000,#440000,#3f0000,#3a0000,#350000,#300000,#300000,#300000,#300000,#300000,#300000,#300000,#300000,#300000,#300000,#300000,#300000,#300000,#300000,#300000,#300000,#300000,#300000,#300000,#300000,#300000,#300000,#300000,#300000,#300000,#300000,#300000,#300000,#300000,#300000,#300000,#300000,#300000,#300000,#300000,#300000,#300000,#300000,#300000,#300000,#300000,#300000,#300000,#300000,#300000,#300000,#300000,#300000,#300000,#300000,#300000,#300000,#310000,#380000,#3f0000,#460000,#4e0000,#570000,#5f0000,#670000,#700000,#770000,#7f0000,#850000,#8c0000,#910000,#970000,#9c0000,#a10000,#a50000,#aa0000,#ae0000,#b30000,#b70000,#bc0000,#c00000,#c40000,#c90000,#cd0000,#d20000,#d60000,#da0000,#df0000,#e30000,#e80000,#ec0000,#f00000,#f50000,#f90000,#fd0000,#ff0200,#ff0500,#ff0800,#ff0b00,#ff0e00,#ff1100,#ff1300,#ff1600,#ff1900,#ff1b00,#ff1e00,#ff2100,#ff2400,#ff2600,#ff2900,#ff2c00,#ff2f00,#ff3200,#ff3600,#ff3900,#ff3c00,#ff3f00,#ff4300,#ff4600,#ff4a00,#ff4d00,#ff5100,#ff5500,#ff5900,#ff5d00,#ff6100,#ff6500,#ff6900,#ff6c00,#ff6f00,#ff7100,#ff7200)"></i>
<i style="top:528px;background:linear-gradient(90deg,#5c0000,#620000,#7d0000,#ff0000,#ffef00,#ffde00,#ff4c00,#e50000,#a80000,#880000,#750000,#690000,#600000,#590000,#530000,#4d0000,#480000,#430000,#3e0000,#390000,#340000,#300000,#300000,#300000,#300000,#300000,#300000,#300000,#300000,#300000,#300000,#300000,#300000,#300000,#300000,#300000,#300000,#300000,#300000,#300000,#300000,#300000,#300000,#300000,#300000,#300000,#300000,#300000,#300000,#300000,#300000,#300000,#300000,#300000,#300000,#300000,#300000,#300000,#300000,#300000,#300000,#300000,#300000,#300000,#300000,#300000,#300000,#300000,#300000,#300000,#300000,#300000,#300000,#300000,#370000,#3e0000,#460000,#4e0000,#560000,#5f0000,#670000,#6f0000,#770000,#7e0000,#850000,#8b0000,#910000,#960000,#9b0000,#a00000,#a50000,#a90000,#ae0000,#b20000,#b70000,#bb0000,#bf0000,#c40000,#c80000,#cd0000,#d10000,#d50000,#da0000,#de0000,#e30000,#e70000,#eb0000,#f00000,#f40000,#f90000,#fd0000,#ff0200,#ff0500,#ff0800,#ff0b00,#ff0d00,#ff1000,#ff1300,#ff1600,#ff1800,#ff1b00,#ff1e00,#ff2000,#ff2300,#ff2600,#ff2900,#ff2c00,#ff2f00,#ff3200,#ff3500,#ff3800,#ff3c00,#ff3f00,#ff4200,#ff4600,#ff4900,#ff4d00,#ff5100,#ff5500,#ff5900,#ff5d00,#ff6100,#ff6500,#ff6900,#ff6c00,#ff6e00,#ff7000,#ff7200)"></i>
<i style="top:532px;background:linear-gradient(90deg,#5c0000,#630000,#800000,#ff1600,#ffff14,#ffbb00,#ff3100,#d00000,#9b0000,#800000,#700000,#650000,#5d0000,#560000,#510000,#4c0000,#470000,#420000,#3d0000,#380000,#330000,#300000,#300000,#300000,#300000,#300000,#300000,#300000,#300000,#300000,#300000,#300000,#300000,#300000,#300000,#300000,#300000,#300000,#300000,#300000,#300000,#300000,#300000,#300000,#300000,#300000,#300000,#300000,#300000,#300000,#300000,#300000,#300000,#300000,#300000,#300000,#300000,#300000,#300000,#300000,#300000,#300000,#300000,#300000,#300000,#300000,#300000,#300000,#300000,#300000,#300000,#300000,#300000,#300000,#360000,#3d0000,#450000,#4d0000,#550000,#5e0000,#660000,#6e0000,#760000,#7d0000,#840000,#8a0000,#900000,#960000,#9b0000,#9f0000,#a40000,#a90000,#ad0000,#b20000,#b60000,#bb0000,#bf0000,#c30000,#c80000,#cc0000,#d10000,#d50000,#d90000,#de0000,#e20000,#e70000,#eb0000,#ef0000,#f40000,#f80000,#fd0000,#ff0100,#ff0400,#ff0700,#ff0a00,#ff0d00,#ff1000,#ff1300,#ff1500,#ff1800,#ff1b00,#ff1d00,#ff2000,#ff2300,#ff2600,#ff2900,#ff2c00,#ff2f00,#ff3200,#ff3500,#ff3800,#ff3b00,#ff3f00,#ff4200,#ff4500,#ff4900,#ff4d00,#ff5100,#ff5500,#ff5900,#ff5d00,#ff6100,#ff6500,#ff6800,#ff6b00,#ff6e00,#ff7000,#ff7200)"></i>
<i style="top:536px;background:linear-gradient(90deg,#5c0000,#620000,#820000,#ff2200,#ffff2d,#ffab00,#ff1800,#be0000,#900000,#790000,#6b0000,#620000,#5b0000,#550000,#4f0000,#4a0000,#450000,#410000,#3c0000,#370000,#320000,#300000,#300000,#300000,#300000,#300000,#300000,#300000,#300000,#300000,#300000,#300000,#300000,#300000,#300000,#300000,#300000,#300000,#300000,#300000,#300000,#300000,#300000,#300000,#300000,#300000,#300000,#300000,#300000,#300000,#300000,#300000,#300000,#300000,#300000,#300000,#300000,#300000,#300000,#300000,#300000,#300000,#300000,#300000,#300000,#300000,#300000,#300000,#300000,#300000,#300000,#300000,#300000,#300000,#350000,#3d0000,#440000,#4c0000,#550000,#5d0000,#660000,#6e0000,#760000,#7d0000,#840000,#8a0000,#900000,#950000,#9a0000,#9f0000,#a40000,#a80000,#ad0000,#b10000,#b60000,#ba0000,#be0000,#c30000,#c70000,#cc0000,#d00000,#d40000,#d90000,#dd0000,#e20000,#e60000,#ea0000,#ef0000,#f30000,#f80000,#fc0000,#ff0100,#ff0400,#ff0700,#ff0a00,#ff0d00,#ff1000,#ff1200,#ff1500,#ff1800,#ff1a00,#ff1d00,#ff2000,#ff2300,#ff2600,#ff2800,#ff2b00,#ff2f00,#ff3200,#ff3500,#ff3800,#ff3b00,#ff3e00,#ff4200,#ff4500,#ff4900,#ff4d00,#ff5100,#ff5500,#ff5900,#ff5d00,#ff6100,#ff6500,#ff6800,#ff6b00,#ff6e00,#ff7000,#ff7200)"></i>
<i style="top:540px;background:linear-gradient(90deg,#5c0000,#630000,#850000,#ff2500,#ffff08,#ff9a00,#ff0f00,#b40000,#890000,#730000,#670000,#5f0000,#580000,#530000,#4e0000,#490000,#440000,#400000,#3b0000,#360000,#320000,#300000,#300000,#300000,#300000,#300000,#300000,#300000,#300000,#300000,#300000,#300000,#300000,#300000,#300000,#300000,#300000,#300000,#300000,#300000,#300000,#300000,#300000,#300000,#300000,#300000,#300000,#300000,#300000,#300000,#300000,#300000,#300000,#300000,#300000,#300000,#300000,#300000,#300000,#300000,#300000,#300000,#300000,#300000,#300000,#300000,#300000,#300000,#300000,#300000,#300000,#300000,#300000,#300000,#350000,#3c0000,#440000,#4c0000,#540000,#5d0000,#650000,#6d0000,#750000,#7c0000,#830000,#890000,#8f0000,#950000,#9a0000,#9e0000,#a30000,#a80000,#ac0000,#b10000,#b50000,#ba0000,#be0000,#c20000,#c70000,#cb0000,#d00000,#d40000,#d80000,#dd0000,#e10000,#e60000,#ea0000,#ee0000,#f30000,#f70000,#fc0000,#ff0100,#ff0400,#ff0700,#ff0a00,#ff0c00,#ff0f00,#ff1200,#ff1500,#ff1700,#ff1a00,#ff1d00,#ff2000,#ff2200,#ff2500,#ff2800,#ff2b00,#ff2e00,#ff3100,#ff3400,#ff3800,#ff3b00,#ff3e00,#ff4100,#ff4500,#ff4900,#ff4c00,#ff5000,#ff5400,#ff5800,#ff5c00,#ff6000,#ff6400,#ff6800,#ff6b00,#ff6e00,#ff7000,#ff7100)"></i>
<i style="top:544px;background:linear-gradient(90deg,#5c0000,#640000,#8a0000,#ff3b00,#ffff16,#ff8f00,#ff0800,#b00000,#870000,#720000,#660000,#5d0000,#570000,#510000,#4c0000,#480000,#430000,#3f0000,#3a0000,#360000,#310000,#300000,#300000,#300000,#300000,#300000,#300000,#300000,#300000,#300000,#300000,#300000,#300000,#300000,#300000,#300000,#300000,#300000,#300000,#300000,#300000,#300000,#300000,#300000,#300000,#300000,#300000,#300000,#300000,#300000,#300000,#300000,#300000,#300000,#300000,#300000,#300000,#300000,#300000,#300000,#300000,#300000,#300000,#300000,#300000,#300000,#300000,#300000,#300000,#300000,#300000,#300000,#300000,#300000,#340000,#3b0000,#430000,#4b0000,#540000,#5c0000,#650000,#6d0000,#750000,#7c0000,#830000,#890000,#8f0000,#940000,#990000,#9e0000,#a30000,#a70000,#ac0000,#b00000,#b50000,#b90000,#be0000,#c20000,#c60000,#cb0000,#cf0000,#d40000,#d80000,#dc0000,#e10000,#e50000,#ea0000,#ee0000,#f20000,#f70000,#fb0000,#ff0000,#ff0300,#ff0600,#ff0900,#ff0c00,#ff0f00,#ff1200,#ff1400,#ff1700,#ff1a00,#ff1d00,#ff1f00,#ff2200,#ff2500,#ff2800,#ff2b00,#ff2e00,#ff3100,#ff3400,#ff3700,#ff3a00,#ff3e00,#ff4100,#ff4500,#ff4800,#ff4c00,#ff5000,#ff5400,#ff5800,#ff5c00,#ff6000,#ff6400,#ff6800,#ff6b00,#ff6d00,#ff7000,#ff7100)"></i>
<i style="top:548px;background:linear-gradient(90deg,#5c0000,#640000,#8d0000,#ff4800,#ffff27,#ff8e00,#ff0600,#af0000,#860000,#710000,#650000,#5c0000,#560000,#500000,#4b0000,#470000,#420000,#3e0000,#3a0000,#360000,#310000,#300000,#300000,#300000,#300000,#300000,#300000,#300000,#300000,#300000,#300000,#300000,#300000,#300000,#300000,#300000,#300000,#300000,#300000,#300000,#300000,#300000,#300000,#300000,#300000,#300000,#300000,#300000,#300000,#300000,#300000,#300000,#300000,#300000,#300000,#300000,#300000,#300000,#300000,#300000,#300000,#300000,#300000,#300000,#300000,#300000,#300000,#300000,#300000,#300000,#300000,#300000,#300000,#300000,#340000,#3b0000,#430000,#4b0000,#530000,#5c0000,#640000,#6c0000,#740000,#7b0000,#820000,#890000,#8e0000,#940000,#990000,#9e0000,#a20000,#a70000,#ab0000,#b00000,#b40000,#b90000,#bd0000,#c20000,#c60000,#ca0000,#cf0000,#d30000,#d80000,#dc0000,#e00000,#e50000,#e90000,#ee0000,#f20000,#f60000,#fb0000,#ff0000,#ff0300,#ff0600,#ff0900,#ff0c00,#ff0f00,#ff1100,#ff1400,#ff1700,#ff1a00,#ff1c00,#ff1f00,#ff2200,#ff2500,#ff2800,#ff2b00,#ff2e00,#ff3100,#ff3400,#ff3700,#ff3a00,#ff3e00,#ff4100,#ff4400,#ff4800,#ff4c00,#ff5000,#ff5400,#ff5800,#ff5c00,#ff6000,#ff6400,#ff6700,#ff6b00,#ff6d00,#ff6f00,#ff7100)"></i>
<i style="top:552px;background:linear-gradient(90deg,#5c0000,#640000,#8d0000,#ff4300,#ffff09,#ff8400,#ff0200,#ad0000,#850000,#710000,#650000,#5c0000,#550000,#500000,#4b0000,#460000,#420000,#3e0000,#3a0000,#350000,#300000,#300000,#300000,#300000,#300000,#300000,#300000,#300000,#300000,#300000,#300000,#300000,#300000,#300000,#300000,#300000,#300000,#300000,#300000,#300000,#300000,#300000,#300000,#300000,#300000,#300000,#300000,#300000,#300000,#300000,#300000,#300000,#300000,#300000,#300000,#300000,#300000,#300000,#300000,#300000,#300000,#300000,#300000,#300000,#300000,#300000,#300000,#300000,#300000,#300000,#300000,#300000,#300000,#300000,#330000,#3a0000,#420000,#4a0000,#530000,#5b0000,#640000,#6c0000,#740000,#7b0000,#820000,#880000,#8e0000,#930000,#980000,#9d0000,#a20000,#a60000,#ab0000,#af0000,#b40000,#b80000,#bd0000,#c10000,#c60000,#ca0000,#ce0000,#d30000,#d70000,#dc0000,#e00000,#e40000,#e90000,#ed0000,#f20000,#f60000,#fb0000,#ff0000,#ff0300,#ff0600,#ff0900,#ff0c00,#ff0f00,#ff1100,#ff1400,#ff1700,#ff1900,#ff1c00,#ff1f00,#ff2200,#ff2500,#ff2800,#ff2b00,#ff2e00,#ff3100,#ff3400,#ff3700,#ff3a00,#ff3d00,#ff4100,#ff4400,#ff4800,#ff4c00,#ff5000,#ff5400,#ff5800,#ff5c00,#ff6000,#ff6400,#ff6700,#ff6a00,#ff6d00,#ff6f00,#ff7100)"></i>
<i style="top:556px;background:linear-gradient(90deg,#5c0000,#650000,#920000,#ff5200,#ffff09,#ff7d00,#fc0000,#aa0000,#840000,#700000,#640000,#5c0000,#550000,#4f0000,#4a0000,#460000,#420000,#3e0000,#390000,#350000,#300000,#300000,#300000,#300000,#300000,#300000,#300000,#300000,#300000,#300000,#300000,#300000,#300000,#300000,#300000,#300000,#300000,#300000,#300000,#300000,#300000,#300000,#300000,#300000,#300000,#300000,#300000,#300000,#300000,#300000,#300000,#300000,#300000,#300000,#300000,#300000,#300000,#300000,#300000,#300000,#300000,#300000,#300000,#300000,#300000,#300000,#300000,#300000,#300000,#300000,#300000,#300000,#300000,#300000,#330000,#3a0000,#420000,#4a0000,#530000,#5b0000,#630000,#6c0000,#730000,#7b0000,#820000,#880000,#8e0000,#930000,#980000,#9d0000,#a20000,#a60000,#ab0000,#af0000,#b40000,#b80000,#bc0000,#c10000,#c50000,#ca0000,#ce0000,#d20000,#d70000,#db0000,#e00000,#e40000,#e90000,#ed0000,#f10000,#f60000,#fa0000,#ff0000,#ff0300,#ff0600,#ff0900,#ff0c00,#ff0e00,#ff1100,#ff1400,#ff1600,#ff1900,#ff1c00,#ff1f00,#ff2100,#ff2400,#ff2700,#ff2a00,#ff2d00,#ff3000,#ff3400,#ff3700,#ff3a00,#ff3d00,#ff4100,#ff4400,#ff4800,#ff4c00,#ff5000,#ff5400,#ff5800,#ff5c00,#ff6000,#ff6400,#ff6700,#ff6a00,#ff6d00,#ff6f00,#ff7100)"></i>
<i style="top:560px;background:linear-gradient(90deg,#5c0000,#650000,#950000,#ff6200,#ffff19,#ff7c00,#fa0000,#a90000,#830000,#700000,#640000,#5b0000,#550000,#4f0000,#4a0000,#460000,#420000,#3e0000,#390000,#350000,#300000,#300000,#300000,#300000,#300000,#300000,#300000,#300000,#300000,#300000,#300000,#300000,#300000,#300000,#300000,#300000,#300000,#300000,#300000,#300000,#300000,#300000,#300000,#300000,#300000,#300000,#300000,#300000,#300000,#300000,#300000,#300000,#300000,#300000,#300000,#300000,#300000,#300000,#300000,#300000,#300000,#300000,#300000,#300000,#300000,#300000,#300000,#300000,#300000,#300000,#300000,#300000,#300000,#300000,#330000,#3a0000,#420000,#4a0000,#520000,#5b0000,#630000,#6b0000,#730000,#7a0000,#810000,#880000,#8d0000,#930000,#980000,#9d0000,#a10000,#a60000,#aa0000,#af0000,#b30000,#b80000,#bc0000,#c10000,#c50000,#c90000,#ce0000,#d20000,#d70000,#db0000,#df0000,#e40000,#e80000,#ed0000,#f10000,#f60000,#fa0000,#fe0000,#ff0300,#ff0600,#ff0900,#ff0b00,#ff0e00,#ff1100,#ff1400,#ff1600,#ff1900,#ff1c00,#ff1e00,#ff2100,#ff2400,#ff2700,#ff2a00,#ff2d00,#ff3000,#ff3300,#ff3700,#ff3a00,#ff3d00,#ff4000,#ff4400,#ff4800,#ff4b00,#ff4f00,#ff5300,#ff5800,#ff5c00,#ff6000,#ff6300,#ff6700,#ff6a00,#ff6d00,#ff6f00,#ff7000)"></i>
<i style="top:564px;background:linear-gradient(90deg,#5c0000,#650000,#960000,#ff5d00,#fffd00,#ff7300,#f50000,#a70000,#820000,#6f0000,#630000,#5b0000,#550000,#4f0000,#4a0000,#450000,#410000,#3d0000,#390000,#350000,#300000,#300000,#300000,#300000,#300000,#300000,#300000,#300000,#300000,#300000,#300000,#300000,#300000,#300000,#300000,#300000,#300000,#300000,#300000,#300000,#300000,#300000,#300000,#300000,#300000,#300000,#300000,#300000,#300000,#300000,#300000,#300000,#300000,#300000,#300000,#300000,#300000,#300000,#300000,#300000,#300000,#300000,#300000,#300000,#300000,#300000,#300000,#300000,#300000,#300000,#300000,#300000,#300000,#300000,#320000,#3a0000,#410000,#4a0000,#520000,#5a0000,#630000,#6b0000,#730000,#7a0000,#810000,#870000,#8d0000,#920000,#980000,#9c0000,#a10000,#a60000,#aa0000,#af0000,#b30000,#b80000,#bc0000,#c00000,#c50000,#c90000,#ce0000,#d20000,#d60000,#db0000,#df0000,#e40000,#e80000,#ed0000,#f10000,#f50000,#fa0000,#fe0000,#ff0200,#ff0500,#ff0800,#ff0b00,#ff0e00,#ff1100,#ff1300,#ff1600,#ff1900,#ff1c00,#ff1e00,#ff2100,#ff2400,#ff2700,#ff2a00,#ff2d00,#ff3000,#ff3300,#ff3600,#ff3a00,#ff3d00,#ff4000,#ff4400,#ff4800,#ff4b00,#ff4f00,#ff5300,#ff5700,#ff5b00,#ff5f00,#ff6300,#ff6700,#ff6a00,#ff6d00,#ff6f00,#ff7000)"></i>
<i style="top:568px;background:linear-gradient(90deg,#5c0000,#650000,#930000,#ff4600,#ffd900,#ff6200,#ed0000,#a40000,#810000,#6e0000,#630000,#5b0000,#540000,#4f0000,#4a0000,#450000,#410000,#3d0000,#390000,#350000,#300000,#300000,#300000,#300000,#300000,#300000,#300000,#300000,#300000,#300000,#300000,#300000,#300000,#300000,#300000,#300000,#300000,#300000,#300000,#300000,#300000,#300000,#300000,#300000,#300000,#300000,#300000,#300000,#300000,#300000,#300000,#300000,#300000,#300000,#300000,#300000,#300000,#300000,#300000,#300000,#300000,#300000,#300000,#300000,#300000,#300000,#300000,#300000,#300000,#300000,#300000,#300000,#300000,#300000,#320000,#390000,#410000,#490000,#520000,#5a0000,#630000,#6b0000,#730000,#7a0000,#810000,#870000,#8d0000,#920000,#970000,#9c0000,#a10000,#a50000,#aa0000,#ae0000,#b30000,#b70000,#bc0000,#c00000,#c50000,#c90000,#cd0000,#d20000,#d60000,#db0000,#df0000,#e30000,#e80000,#ec0000,#f10000,#f50000,#fa0000,#fe0000,#ff0200,#ff0500,#ff0800,#ff0b00,#ff0e00,#ff1100,#ff1300,#ff1600,#ff1900,#ff1b00,#ff1e00,#ff2100,#ff2400,#ff2700,#ff2a00,#ff2d00,#ff3000,#ff3300,#ff3600,#ff3a00,#ff3d00,#ff4000,#ff4400,#ff4700,#ff4b00,#ff4f00,#ff5300,#ff5700,#ff5b00,#ff5f00,#ff6300,#ff6700,#ff6a00,#ff6d00,#ff6f00,#ff7000)"></i>
</div></div>
<svg width="1659" height="703" viewBox="0 0 1659 703">
<defs>
<linearGradient id="bg" x1="0" x2="1" y1="0" y2="0"><stop offset="0" stop-color="#ffffff"/><stop offset=".1" stop-color="#fbfcff"/><stop offset=".5" stop-color="#e8eef9"/><stop offset="1" stop-color="#d0dff2"/></linearGradient>
<linearGradient id="stk" x1="0" x2="1" y1="0" y2="0"><stop offset="0" stop-color="#ff2a10" stop-opacity=".4"/><stop offset=".45" stop-color="#ff2a10" stop-opacity=".25"/><stop offset="1" stop-color="#ff2a10" stop-opacity="0"/></linearGradient>
</defs>
<!-- ================= panel (a) ================= -->
<rect x="116" y="40" width="339.5" height="552.5" fill="url(#bg)"/>
<rect x="458.4" y="40" width="24" height="552.5" fill="#f5d5d5"/>
<line x1="457.4" x2="457.4" y1="40" y2="592.5" stroke="#333" stroke-width="2.4"/>
<line x1="482.5" x2="482.5" y1="41" y2="592.5" stroke="#222" stroke-width="2.6" stroke-dasharray="5.4 3.2"/>
<path d="M206.5 515.6 L455.0 515.6 L459.2 506.0 L470.0 507.0 L482.6 509.0 L483.6 417.6 L487.9 422.9 L492.2 428.3 L496.4 433.6 L500.7 438.9 L505.0 444.3 L509.3 449.6 L513.6 454.7 L517.9 459.6 L522.1 464.3 L526.4 468.8 L530.7 473.1 L535.0 477.3 L539.3 481.3 L543.5 485.1 L547.8 488.8 L552.1 492.3 L556.4 495.6 L560.7 498.7 L564.9 501.7 L569.2 504.6 L573.5 507.5 L577.8 510.3 L582.1 513.1 L586.4 515.7 L590.6 518.3 L594.9 520.9 L599.2 523.3 L603.5 525.6 L607.8 527.8 L612.0 530.0 L616.3 532.0 L620.6 533.9 L624.9 535.8 L629.2 537.6 L633.4 539.3 L637.7 540.9 L642.0 542.5 L646.3 543.9 L650.6 545.3 L654.9 546.6 L659.1 547.8 L663.4 549.0 L667.7 550.0 L672.0 551.0 L676.3 551.8 L680.5 552.7 L684.8 553.4 L689.1 554.1 L693.4 554.8 L697.7 555.4 L701.9 556.0 L706.2 556.5 L710.5 557.0 L714.8 557.3 L719.1 557.6 L723.4 557.8 L727.6 557.9 L731.9 558.1 L736.2 558.2" fill="none" stroke="#0b3a70" stroke-width="3.3" stroke-linejoin="round" stroke-linecap="round"/>
<path d="M206.5 515.6 L212.5 515.7 L218.5 515.8 L224.5 515.3 L230.5 515.6 L236.5 516.1 L242.5 516.1 L248.5 515.2 L254.5 515.2 L260.5 515.1 L266.5 515.5 L272.5 515.0 L278.5 515.5 L284.5 515.8 L290.5 515.3 L296.5 515.8 L302.5 515.7 L308.5 515.0 L314.5 515.7 L320.5 515.3 L326.5 515.5 L332.5 515.3 L338.5 515.8 L344.5 515.5 L350.5 515.2 L356.5 515.7 L362.5 515.9 L368.5 515.4 L374.5 515.3 L380.5 515.5 L386.5 516.1 L392.5 516.2 L398.5 515.8 L404.5 516.1 L410.5 516.0 L416.5 515.5 L422.5 515.1 L428.5 515.8 L434.5 515.7 L440.5 515.4 L446.5 515.3 L452.5 515.5 L452.9 515.7 L455.4 534.1 L458.2 523.5 L462.3 523.5 L466.0 487.1 L470.1 487.1 L472.6 461.5 L474.6 380.0 L475.5 89.6 L477.8 122.6 L484.6 124.8 L486.9 143.9 L488.9 154.4 L494.0 155.3 L498.9 180.8 L504.8 182.3 L509.7 208.4 L515.3 209.3 L520.2 232.9 L525.3 234.0 L530.3 254.8 L535.6 255.8 L540.0 277.4 L545.4 278.9 L549.9 295.3 L555.9 298.3 L561.2 311.7 L572.3 325.2 L578.3 336.2 L582.8 339.2 L586.3 351.2 L594.7 356.6 L601.3 367.0 L605.2 368.5 L610.6 373.9 L615.0 373.9 L620.1 382.9 L624.0 383.5 L633.6 396.0 L638.0 397.8 L645.5 405.9 L656.0 411.9 L660.5 416.3 L675.4 422.3 L687.4 427.7 L696.3 429.8 L711.3 431.9 L724.7 433.7" fill="none" stroke="#0f8c5c" stroke-width="3.4" stroke-linejoin="round" stroke-linecap="round"/>
<g stroke="#000" stroke-width="1.8">
<line x1="173.1" x2="173.1" y1="592.5" y2="587.5"/>
<line x1="230.2" x2="230.2" y1="592.5" y2="582.5"/>
<line x1="287.3" x2="287.3" y1="592.5" y2="587.5"/>
<line x1="344.3" x2="344.3" y1="592.5" y2="582.5"/>
<line x1="401.4" x2="401.4" y1="592.5" y2="587.5"/>
<line x1="458.5" x2="458.5" y1="592.5" y2="582.5"/>
<line x1="515.6" x2="515.6" y1="592.5" y2="587.5"/>
<line x1="572.7" x2="572.7" y1="592.5" y2="582.5"/>
<line x1="629.7" x2="629.7" y1="592.5" y2="587.5"/>
<line x1="686.8" x2="686.8" y1="592.5" y2="582.5"/>
<line x1="743.9" x2="743.9" y1="592.5" y2="587.5"/>
<line x1="116.0" x2="121.0" y1="542.3" y2="542.3"/>
<line x1="116.0" x2="126.0" y1="492.0" y2="492.0"/>
<line x1="116.0" x2="121.0" y1="441.8" y2="441.8"/>
<line x1="116.0" x2="126.0" y1="391.6" y2="391.6"/>
<line x1="116.0" x2="121.0" y1="341.4" y2="341.4"/>
<line x1="116.0" x2="126.0" y1="291.1" y2="291.1"/>
<line x1="116.0" x2="121.0" y1="240.9" y2="240.9"/>
<line x1="116.0" x2="126.0" y1="190.7" y2="190.7"/>
<line x1="116.0" x2="121.0" y1="140.4" y2="140.4"/>
<line x1="116.0" x2="126.0" y1="90.2" y2="90.2"/>
</g>
<rect x="116" y="40" width="685" height="552.5" fill="none" stroke="#000" stroke-width="1.8"/>
<g font-size="34" fill="#000">
<text x="116.0" y="630.5" text-anchor="middle">-0.6</text>
<text x="230.2" y="630.5" text-anchor="middle">-0.4</text>
<text x="344.3" y="630.5" text-anchor="middle">-0.2</text>
<text x="458.5" y="630.5" text-anchor="middle">0.0</text>
<text x="572.7" y="630.5" text-anchor="middle">0.2</text>
<text x="686.8" y="630.5" text-anchor="middle">0.4</text>
<text x="801.0" y="630.5" text-anchor="middle">0.6</text>
<text x="103" y="603.3" text-anchor="end">0.0</text>
<text x="103" y="502.8" text-anchor="end">0.2</text>
<text x="103" y="402.4" text-anchor="end">0.4</text>
<text x="103" y="301.9" text-anchor="end">0.6</text>
<text x="103" y="201.5" text-anchor="end">0.8</text>
<text x="103" y="101.0" text-anchor="end">1.0</text>
</g>
<text x="458.5" y="689" font-size="40" text-anchor="middle">y-coordinate (μm)</text>
<text transform="translate(30.5 315.5) rotate(-90)" font-size="40.4" text-anchor="middle">Normalised electric field (a. u.)</text>
<line x1="139.8" x2="203.8" y1="60" y2="60" stroke="#0f8c5c" stroke-width="3" stroke-linecap="round"/>
<line x1="139.8" x2="203.8" y1="95.3" y2="95.3" stroke="#0b3a70" stroke-width="3" stroke-linecap="round"/>
<text x="211" y="68.8" font-size="27.7" letter-spacing=".45">BK7/Au/Air</text>
<text x="211" y="104.2" font-size="27.7" letter-spacing=".45">BK7/PMMA/Air</text>
<text x="227.5" y="497.5" font-size="65.5" fill="#2b2b2b">BK7</text>
<text x="628" y="497.8" font-size="65.5" fill="#2b2b2b">Air</text>
<text class="bold" x="4.5" y="37.5" font-size="42">(a)</text>
<!-- ================= panel (b) ================= -->
<text class="bold" x="821.5" y="37.5" font-size="42.5">(b)</text>
<rect x="1514.5" y="571.80" width="71.0" height="11.40" fill="#fffff6"/>
<rect x="1514.5" y="560.70" width="71.0" height="11.40" fill="#ffffe4"/>
<rect x="1514.5" y="549.60" width="71.0" height="11.40" fill="#ffffd3"/>
<rect x="1514.5" y="538.50" width="71.0" height="11.40" fill="#ffffc0"/>
<rect x="1514.5" y="527.40" width="71.0" height="11.40" fill="#ffffae"/>
<rect x="1514.5" y="516.30" width="71.0" height="11.40" fill="#ffff9c"/>
<rect x="1514.5" y="505.20" width="71.0" height="11.40" fill="#ffff89"/>
<rect x="1514.5" y="494.10" width="71.0" height="11.40" fill="#ffff76"/>
<rect x="1514.5" y="483.00" width="71.0" height="11.40" fill="#ffff63"/>
<rect x="1514.5" y="471.90" width="71.0" height="11.40" fill="#ffff4f"/>
<rect x="1514.5" y="460.80" width="71.0" height="11.40" fill="#ffff3a"/>
<rect x="1514.5" y="449.70" width="71.0" height="11.40" fill="#ffff25"/>
<rect x="1514.5" y="438.60" width="71.0" height="11.40" fill="#ffff0e"/>
<rect x="1514.5" y="427.50" width="71.0" height="11.40" fill="#fffa00"/>
<rect x="1514.5" y="416.40" width="71.0" height="11.40" fill="#ffee00"/>
<rect x="1514.5" y="405.30" width="71.0" height="11.40" fill="#ffe200"/>
<rect x="1514.5" y="394.20" width="71.0" height="11.40" fill="#ffd700"/>
<rect x="1514.5" y="383.10" width="71.0" height="11.40" fill="#ffcb00"/>
<rect x="1514.5" y="372.00" width="71.0" height="11.40" fill="#ffbf00"/>
<rect x="1514.5" y="360.90" width="71.0" height="11.40" fill="#ffb400"/>
<rect x="1514.5" y="349.80" width="71.0" height="11.40" fill="#ffa800"/>
<rect x="1514.5" y="338.70" width="71.0" height="11.40" fill="#ff9d00"/>
<rect x="1514.5" y="327.60" width="71.0" height="11.40" fill="#ff9100"/>
<rect x="1514.5" y="316.50" width="71.0" height="11.40" fill="#ff8500"/>
<rect x="1514.5" y="305.40" width="71.0" height="11.40" fill="#ff7a00"/>
<rect x="1514.5" y="294.30" width="71.0" height="11.40" fill="#ff6e00"/>
<rect x="1514.5" y="283.20" width="71.0" height="11.40" fill="#ff6200"/>
<rect x="1514.5" y="272.10" width="71.0" height="11.40" fill="#ff5700"/>
<rect x="1514.5" y="261.00" width="71.0" height="11.40" fill="#ff4b00"/>
<rect x="1514.5" y="249.90" width="71.0" height="11.40" fill="#ff4000"/>
<rect x="1514.5" y="238.80" width="71.0" height="11.40" fill="#ff3400"/>
<rect x="1514.5" y="227.70" width="71.0" height="11.40" fill="#ff2800"/>
<rect x="1514.5" y="216.60" width="71.0" height="11.40" fill="#ff1d00"/>
<rect x="1514.5" y="205.50" width="71.0" height="11.40" fill="#ff1100"/>
<rect x="1514.5" y="194.40" width="71.0" height="11.40" fill="#ff0500"/>
<rect x="1514.5" y="183.30" width="71.0" height="11.40" fill="#f70000"/>
<rect x="1514.5" y="172.20" width="71.0" height="11.40" fill="#e70000"/>
<rect x="1514.5" y="161.10" width="71.0" height="11.40" fill="#d70000"/>
<rect x="1514.5" y="150.00" width="71.0" height="11.40" fill="#c70000"/>
<rect x="1514.5" y="138.90" width="71.0" height="11.40" fill="#b70000"/>
<rect x="1514.5" y="127.80" width="71.0" height="11.40" fill="#a80000"/>
<rect x="1514.5" y="116.70" width="71.0" height="11.40" fill="#980000"/>
<rect x="1514.5" y="105.60" width="71.0" height="11.40" fill="#880000"/>
<rect x="1514.5" y="94.50" width="71.0" height="11.40" fill="#780000"/>
<rect x="1514.5" y="83.40" width="71.0" height="11.40" fill="#680000"/>
<rect x="1514.5" y="72.30" width="71.0" height="11.40" fill="#580000"/>
<rect x="1514.5" y="61.20" width="71.0" height="11.40" fill="#490000"/>
<rect x="1514.5" y="50.10" width="71.0" height="11.40" fill="#300000"/>
<rect x="1514.5" y="582.90" width="71.0" height="10.80" fill="#ffffff"/>
<rect x="1514.5" y="40.00" width="71.0" height="10.40" fill="#300000"/>
<line x1="1514.5" x2="1585.5" y1="582.90" y2="582.90" stroke="#ffffff" stroke-opacity=".18" stroke-width=".7"/>
<line x1="1514.5" x2="1585.5" y1="571.80" y2="571.80" stroke="#ffffff" stroke-opacity=".18" stroke-width=".7"/>
<line x1="1514.5" x2="1585.5" y1="560.70" y2="560.70" stroke="#ffffff" stroke-opacity=".18" stroke-width=".7"/>
<line x1="1514.5" x2="1585.5" y1="549.60" y2="549.60" stroke="#ffffff" stroke-opacity=".18" stroke-width=".7"/>
<line x1="1514.5" x2="1585.5" y1="538.50" y2="538.50" stroke="#ffffff" stroke-opacity=".18" stroke-width=".7"/>
<line x1="1514.5" x2="1585.5" y1="527.40" y2="527.40" stroke="#ffffff" stroke-opacity=".18" stroke-width=".7"/>
<line x1="1514.5" x2="1585.5" y1="516.30" y2="516.30" stroke="#ffffff" stroke-opacity=".18" stroke-width=".7"/>
<line x1="1514.5" x2="1585.5" y1="505.20" y2="505.20" stroke="#ffffff" stroke-opacity=".18" stroke-width=".7"/>
<line x1="1514.5" x2="1585.5" y1="494.10" y2="494.10" stroke="#ffffff" stroke-opacity=".18" stroke-width=".7"/>
<line x1="1514.5" x2="1585.5" y1="483.00" y2="483.00" stroke="#ffffff" stroke-opacity=".18" stroke-width=".7"/>
<line x1="1514.5" x2="1585.5" y1="471.90" y2="471.90" stroke="#ffffff" stroke-opacity=".18" stroke-width=".7"/>
<line x1="1514.5" x2="1585.5" y1="460.80" y2="460.80" stroke="#ffffff" stroke-opacity=".18" stroke-width=".7"/>
<line x1="1514.5" x2="1585.5" y1="449.70" y2="449.70" stroke="#ffffff" stroke-opacity=".18" stroke-width=".7"/>
<line x1="1514.5" x2="1585.5" y1="438.60" y2="438.60" stroke="#ffffff" stroke-opacity=".18" stroke-width=".7"/>
<line x1="1514.5" x2="1585.5" y1="427.50" y2="427.50" stroke="#ffffff" stroke-opacity=".18" stroke-width=".7"/>
<line x1="1514.5" x2="1585.5" y1="416.40" y2="416.40" stroke="#ffffff" stroke-opacity=".18" stroke-width=".7"/>
<line x1="1514.5" x2="1585.5" y1="405.30" y2="405.30" stroke="#ffffff" stroke-opacity=".18" stroke-width=".7"/>
<line x1="1514.5" x2="1585.5" y1="394.20" y2="394.20" stroke="#ffffff" stroke-opacity=".18" stroke-width=".7"/>
<line x1="1514.5" x2="1585.5" y1="383.10" y2="383.10" stroke="#ffffff" stroke-opacity=".18" stroke-width=".7"/>
<line x1="1514.5" x2="1585.5" y1="372.00" y2="372.00" stroke="#ffffff" stroke-opacity=".18" stroke-width=".7"/>
<line x1="1514.5" x2="1585.5" y1="360.90" y2="360.90" stroke="#ffffff" stroke-opacity=".18" stroke-width=".7"/>
<line x1="1514.5" x2="1585.5" y1="349.80" y2="349.80" stroke="#ffffff" stroke-opacity=".18" stroke-width=".7"/>
<line x1="1514.5" x2="1585.5" y1="338.70" y2="338.70" stroke="#ffffff" stroke-opacity=".18" stroke-width=".7"/>
<line x1="1514.5" x2="1585.5" y1="327.60" y2="327.60" stroke="#ffffff" stroke-opacity=".18" stroke-width=".7"/>
<line x1="1514.5" x2="1585.5" y1="316.50" y2="316.50" stroke="#ffffff" stroke-opacity=".18" stroke-width=".7"/>
<line x1="1514.5" x2="1585.5" y1="305.40" y2="305.40" stroke="#ffffff" stroke-opacity=".18" stroke-width=".7"/>
<line x1="1514.5" x2="1585.5" y1="294.30" y2="294.30" stroke="#ffffff" stroke-opacity=".18" stroke-width=".7"/>
<line x1="1514.5" x2="1585.5" y1="283.20" y2="283.20" stroke="#ffffff" stroke-opacity=".18" stroke-width=".7"/>
<line x1="1514.5" x2="1585.5" y1="272.10" y2="272.10" stroke="#ffffff" stroke-opacity=".18" stroke-width=".7"/>
<line x1="1514.5" x2="1585.5" y1="261.00" y2="261.00" stroke="#ffffff" stroke-opacity=".18" stroke-width=".7"/>
<line x1="1514.5" x2="1585.5" y1="249.90" y2="249.90" stroke="#ffffff" stroke-opacity=".18" stroke-width=".7"/>
<line x1="1514.5" x2="1585.5" y1="238.80" y2="238.80" stroke="#ffffff" stroke-opacity=".18" stroke-width=".7"/>
<line x1="1514.5" x2="1585.5" y1="227.70" y2="227.70" stroke="#ffffff" stroke-opacity=".18" stroke-width=".7"/>
<line x1="1514.5" x2="1585.5" y1="216.60" y2="216.60" stroke="#ffffff" stroke-opacity=".18" stroke-width=".7"/>
<line x1="1514.5" x2="1585.5" y1="205.50" y2="205.50" stroke="#ffffff" stroke-opacity=".18" stroke-width=".7"/>
<line x1="1514.5" x2="1585.5" y1="194.40" y2="194.40" stroke="#ffffff" stroke-opacity=".18" stroke-width=".7"/>
<line x1="1514.5" x2="1585.5" y1="183.30" y2="183.30" stroke="#ffffff" stroke-opacity=".18" stroke-width=".7"/>
<line x1="1514.5" x2="1585.5" y1="172.20" y2="172.20" stroke="#ffffff" stroke-opacity=".18" stroke-width=".7"/>
<line x1="1514.5" x2="1585.5" y1="161.10" y2="161.10" stroke="#ffffff" stroke-opacity=".18" stroke-width=".7"/>
<line x1="1514.5" x2="1585.5" y1="150.00" y2="150.00" stroke="#ffffff" stroke-opacity=".18" stroke-width=".7"/>
<line x1="1514.5" x2="1585.5" y1="138.90" y2="138.90" stroke="#ffffff" stroke-opacity=".18" stroke-width=".7"/>
<line x1="1514.5" x2="1585.5" y1="127.80" y2="127.80" stroke="#ffffff" stroke-opacity=".18" stroke-width=".7"/>
<line x1="1514.5" x2="1585.5" y1="116.70" y2="116.70" stroke="#ffffff" stroke-opacity=".18" stroke-width=".7"/>
<line x1="1514.5" x2="1585.5" y1="105.60" y2="105.60" stroke="#ffffff" stroke-opacity=".18" stroke-width=".7"/>
<line x1="1514.5" x2="1585.5" y1="94.50" y2="94.50" stroke="#ffffff" stroke-opacity=".18" stroke-width=".7"/>
<line x1="1514.5" x2="1585.5" y1="83.40" y2="83.40" stroke="#ffffff" stroke-opacity=".18" stroke-width=".7"/>
<line x1="1514.5" x2="1585.5" y1="72.30" y2="72.30" stroke="#ffffff" stroke-opacity=".18" stroke-width=".7"/>
<line x1="1514.5" x2="1585.5" y1="61.20" y2="61.20" stroke="#ffffff" stroke-opacity=".18" stroke-width=".7"/>
<line x1="940" x2="1514" y1="572.6" y2="572.6" stroke="#ff3020" stroke-opacity=".14" stroke-width="3"/><rect x="955" y="570.6" width="170" height="4" fill="url(#stk)"/>
<line x1="940" x2="1514" y1="485" y2="485" stroke="#ff3020" stroke-opacity=".12" stroke-width="2"/>
<g fill="none">
<line x1="940" x2="1508" y1="149.6" y2="149.6" stroke="#878d8d" stroke-width="2" stroke-dasharray="9.5 10"/>
<line x1="940" x2="1508" y1="228.2" y2="228.2" stroke="#878d8d" stroke-width="2" stroke-dasharray="9.5 10"/>
<path d="M940.0 149.8 L947.2 149.6 L954.4 149.5 L961.6 149.3 L968.8 149.2 L976.0 149.0 L983.2 148.9 L990.4 148.7 L997.6 148.6 L1004.8 148.4 L1012.0 148.2 L1019.2 148.1 L1026.4 147.9 L1033.6 147.7 L1040.8 147.5 L1048.0 147.4 L1055.2 147.2 L1062.4 147.0 L1069.6 146.8 L1076.8 146.6 L1084.1 146.4 L1091.3 146.1 L1098.5 145.9 L1105.7 145.6 L1112.9 145.4 L1120.1 145.1 L1127.3 144.8 L1134.5 144.6 L1141.7 144.3 L1148.9 144.0 L1156.1 143.8 L1163.3 143.5 L1170.5 143.3 L1177.7 143.1 L1184.9 142.9 L1192.1 142.7 L1199.3 142.5 L1206.5 142.2 L1213.7 141.9 L1220.9 141.5 L1228.1 141.0 L1235.3 140.6 L1242.5 140.1 L1249.7 139.5 L1256.9 139.0 L1264.1 138.5 L1271.3 138.0 L1278.5 137.4 L1285.7 136.9 L1292.9 136.4 L1300.1 135.8 L1307.3 135.1 L1314.5 134.4 L1321.7 133.6 L1328.9 132.8 L1336.1 132.0 L1343.3 131.1 L1350.5 130.1 L1357.7 129.0 L1364.9 128.0 L1372.2 127.1 L1379.4 126.3 L1386.6 125.6 L1393.8 125.0 L1401.0 124.4 L1408.2 123.8 L1415.4 123.1 L1422.6 122.3 L1429.8 121.4 L1437.0 120.5 L1444.2 119.5 L1451.4 118.5 L1458.6 117.4 L1465.8 116.4 L1473.0 115.3 L1480.2 114.2 L1487.4 113.0 L1494.6 111.8 L1501.8 110.7 L1509.0 109.5" stroke="#1414e6" stroke-width="3.5" stroke-dasharray="14.5 11.5"/>
<path d="M940.0 224.3 L947.2 224.1 L954.4 223.9 L961.5 223.7 L968.7 223.5 L975.9 223.3 L983.1 223.0 L990.3 222.8 L997.5 222.6 L1004.6 222.3 L1011.8 222.1 L1019.0 221.9 L1026.2 221.6 L1033.4 221.3 L1040.6 221.1 L1047.7 220.8 L1054.9 220.5 L1062.1 220.2 L1069.3 219.9 L1076.5 219.6 L1083.6 219.3 L1090.8 219.1 L1098.0 218.8 L1105.2 218.5 L1112.4 218.2 L1119.6 217.9 L1126.7 217.6 L1133.9 217.3 L1141.1 216.9 L1148.3 216.5 L1155.5 216.1 L1162.7 215.7 L1169.8 215.2 L1177.0 214.7 L1184.2 214.3 L1191.4 213.8 L1198.6 213.2 L1205.7 212.5 L1212.9 211.8 L1220.1 210.9 L1227.3 210.0 L1234.5 209.0 L1241.7 208.0 L1248.8 206.9 L1256.0 205.7 L1263.2 204.5 L1270.4 203.2 L1277.6 202.0 L1284.7 200.9 L1291.9 199.9 L1299.1 198.9 L1306.3 197.8 L1313.5 196.6 L1320.7 195.3 L1327.8 193.8 L1335.0 192.3 L1342.2 190.9 L1349.4 189.4 L1356.6 188.0 L1363.8 186.5 L1370.9 185.1 L1378.1 183.8 L1385.3 182.5 L1392.5 181.2 L1399.7 180.0 L1406.8 178.7 L1414.0 177.5 L1421.2 176.1 L1428.4 174.8 L1435.6 173.4 L1442.8 172.0 L1449.9 170.6 L1457.1 169.2 L1464.3 167.8 L1471.5 166.4 L1478.7 165.1 L1485.9 163.7 L1493.0 162.3 L1500.2 161.0 L1507.4 159.6" stroke="#1414e6" stroke-width="3.5" stroke-dasharray="14.5 11.5"/>
<path d="M948.6 587.6 L948.9 582.6 L949.1 577.5 L949.5 572.5 L950.0 567.5 L950.6 562.5 L951.4 557.5 L952.3 552.6 L953.2 547.6 L954.2 542.7 L955.3 537.7 L956.4 532.8 L957.6 527.9 L958.8 523.0 L960.1 518.1 L961.4 513.3 L962.8 508.4 L964.3 503.6 L965.8 498.8 L967.4 494.0 L969.0 489.2 L970.7 484.5 L972.5 479.8 L974.3 475.1 L976.2 470.4 L978.1 465.8 L980.1 461.1 L982.2 456.5 L984.3 452.0 L986.5 447.4 L988.7 442.9 L990.9 438.4 L993.2 433.9 L995.6 429.4 L998.0 425.0 L1000.4 420.5 L1002.8 416.1 L1005.3 411.7 L1007.8 407.4 L1010.4 403.1 L1013.1 398.8 L1015.9 394.6 L1018.8 390.5 L1021.9 386.5 L1025.0 382.5 L1028.1 378.6 L1031.4 374.7 L1034.6 370.8 L1037.8 367.0 L1041.1 363.1 L1044.3 359.2 L1047.5 355.3 L1050.7 351.4 L1053.9 347.5 L1057.2 343.7 L1060.5 339.9 L1064.0 336.2 L1067.5 332.7 L1071.2 329.3 L1074.9 325.9 L1078.8 322.7 L1082.7 319.5 L1086.7 316.4 L1090.7 313.3 L1094.8 310.3 L1098.8 307.3 L1102.9 304.3 L1106.9 301.3 L1111.0 298.2 L1115.0 295.1 L1119.1 292.1 L1123.2 289.1 L1127.3 286.2 L1131.6 283.5 L1135.9 280.9 L1140.3 278.6 L1144.8 276.5 L1149.5 274.7 L1154.2 273.0 L1159.0 271.5 L1163.9 270.2 L1168.8 268.9 L1173.8 267.7 L1178.7 266.5 L1183.6 265.2 L1188.5 263.9 L1193.3 262.7 L1198.2 261.4 L1203.1 260.2 L1208.0 259.0 L1212.9 257.8 L1217.8 256.7 L1222.8 255.7 L1227.7 254.6 L1232.6 253.7 L1237.6 252.7 L1242.5 251.8 L1247.5 250.9 L1252.5 250.1 L1257.5 249.3 L1262.4 248.6 L1267.4 247.9 L1272.4 247.2 L1277.4 246.7 L1282.4 246.2 L1287.5 245.7 L1292.5 245.3 L1297.5 245.0 L1302.5 244.7 L1307.6 244.4 L1312.6 244.2 L1317.7 244.0 L1322.7 243.9 L1327.7 243.8 L1332.8 243.7 L1337.8 243.7 L1342.8 243.5 L1347.9 243.3 L1352.9 243.1 L1357.9 242.8 L1363.0 242.5 L1368.0 242.2 L1373.0 241.8 L1378.1 241.5 L1383.1 241.2 L1388.1 241.0 L1393.2 240.7 L1398.2 240.5 L1403.2 240.3 L1408.3 240.1 L1413.3 239.9 L1418.3 239.7 L1423.4 239.5 L1428.4 239.4 L1433.4 239.2 L1438.5 239.0 L1443.5 238.9 L1448.5 238.7 L1453.6 238.6 L1458.6 238.5 L1463.7 238.3 L1468.7 238.2 L1473.7 238.1 L1478.8 238.0 L1483.8 237.9 L1488.8 237.8 L1493.9 237.7 L1498.9 237.6 L1504.0 237.5 L1509.0 237.4" stroke="#23a4ec" stroke-width="2.9" stroke-dasharray="13.5 11.5"/>
</g>
<g fill="#ffffff"><circle cx="952.3" cy="533.5" r="2.7"/><circle cx="952.6" cy="524.2" r="2.7"/><circle cx="952.9" cy="514.9" r="2.7"/><circle cx="953.6" cy="505.6" r="2.7"/><circle cx="954.5" cy="496.4" r="2.7"/><circle cx="955.8" cy="487.2" r="2.7"/><circle cx="957.5" cy="478.0" r="2.7"/><circle cx="959.6" cy="469.0" r="2.7"/><circle cx="962.0" cy="460.0" r="2.7"/><circle cx="964.5" cy="451.0" r="2.7"/><circle cx="967.2" cy="442.1" r="2.7"/><circle cx="970.0" cy="433.3" r="2.7"/><circle cx="973.1" cy="424.4" r="2.7"/><circle cx="976.2" cy="415.7" r="2.7"/><circle cx="979.6" cy="407.1" r="2.7"/><circle cx="983.3" cy="398.5" r="2.7"/><circle cx="987.1" cy="390.0" r="2.7"/><circle cx="991.3" cy="381.7" r="2.7"/><circle cx="995.9" cy="373.6" r="2.7"/><circle cx="1000.8" cy="365.7" r="2.7"/><circle cx="1005.9" cy="357.9" r="2.7"/><circle cx="1011.1" cy="350.2" r="2.7"/><circle cx="1016.5" cy="342.6" r="2.7"/><circle cx="1021.8" cy="335.0" r="2.7"/><circle cx="1027.1" cy="327.4" r="2.7"/><circle cx="1032.8" cy="320.0" r="2.7"/><circle cx="1039.0" cy="313.1" r="2.7"/><circle cx="1045.0" cy="306.0" r="2.7"/><circle cx="1050.6" cy="298.6" r="2.7"/><circle cx="1056.4" cy="291.3" r="2.7"/><circle cx="1062.6" cy="284.3" r="2.7"/><circle cx="1069.0" cy="277.6" r="2.7"/><circle cx="1075.6" cy="271.0" r="2.7"/><circle cx="1082.3" cy="264.6" r="2.7"/><circle cx="1088.9" cy="258.0" r="2.7"/><circle cx="1095.4" cy="251.4" r="2.7"/><circle cx="1102.4" cy="245.3" r="2.7"/><circle cx="1110.1" cy="240.0" r="2.7"/><circle cx="1117.8" cy="234.9" r="2.7"/><circle cx="1125.7" cy="229.8" r="2.7"/><circle cx="1133.6" cy="224.9" r="2.7"/><circle cx="1141.5" cy="220.1" r="2.7"/><circle cx="1149.7" cy="215.6" r="2.7"/><circle cx="1158.0" cy="211.4" r="2.7"/><circle cx="1166.4" cy="207.6" r="2.7"/><circle cx="1175.1" cy="204.3" r="2.7"/><circle cx="1184.0" cy="201.6" r="2.7"/><circle cx="1192.9" cy="198.6" r="2.7"/><circle cx="1201.5" cy="195.3" r="2.7"/><circle cx="1210.2" cy="191.9" r="2.7"/><circle cx="1219.0" cy="188.9" r="2.7"/><circle cx="1227.9" cy="186.2" r="2.7"/><circle cx="1236.9" cy="183.8" r="2.7"/><circle cx="1245.8" cy="181.3" r="2.7"/><circle cx="1254.8" cy="178.7" r="2.7"/><circle cx="1263.7" cy="176.1" r="2.7"/><circle cx="1272.6" cy="173.5" r="2.7"/><circle cx="1281.6" cy="170.9" r="2.7"/><circle cx="1290.5" cy="168.2" r="2.7"/><circle cx="1299.4" cy="165.5" r="2.7"/><circle cx="1308.2" cy="162.7" r="2.7"/><circle cx="1317.1" cy="159.8" r="2.7"/><circle cx="1325.9" cy="156.9" r="2.7"/><circle cx="1334.8" cy="154.1" r="2.7"/><circle cx="1343.7" cy="151.4" r="2.7"/><circle cx="1352.6" cy="148.8" r="2.7"/><circle cx="1361.6" cy="146.3" r="2.7"/><circle cx="1370.5" cy="143.7" r="2.7"/><circle cx="1379.5" cy="141.2" r="2.7"/><circle cx="1388.4" cy="138.8" r="2.7"/><circle cx="1397.4" cy="136.4" r="2.7"/><circle cx="1406.4" cy="133.9" r="2.7"/><circle cx="1415.3" cy="131.3" r="2.7"/><circle cx="1424.2" cy="128.7" r="2.7"/><circle cx="1433.2" cy="126.1" r="2.7"/><circle cx="1442.1" cy="123.5" r="2.7"/><circle cx="1451.0" cy="120.9" r="2.7"/><circle cx="1460.0" cy="118.5" r="2.7"/><circle cx="1469.0" cy="116.0" r="2.7"/><circle cx="1478.0" cy="113.6" r="2.7"/><circle cx="1486.9" cy="111.2" r="2.7"/><circle cx="1495.9" cy="108.8" r="2.7"/><circle cx="1504.9" cy="106.4" r="2.7"/></g>
<g fill="#159a1c" stroke="#0b5c12" stroke-width=".6"><circle cx="949.7" cy="570.1" r="6.2"/><circle cx="956.8" cy="531.3" r="6.2"/><circle cx="967.3" cy="494.2" r="6.2"/><circle cx="978.8" cy="464.2" r="6.2"/><circle cx="995.6" cy="429.4" r="6.2"/><circle cx="1016.3" cy="394.1" r="6.2"/><circle cx="1040.6" cy="363.7" r="6.2"/><circle cx="1067.0" cy="333.2" r="6.2"/><circle cx="1103.2" cy="304.1" r="6.2"/><circle cx="1141.5" cy="278.0" r="6.2"/><circle cx="1185.5" cy="264.5" r="6.2"/><circle cx="1228.5" cy="254.0" r="6.2"/><circle cx="1276.5" cy="245.8" r="6.2"/><circle cx="1318.5" cy="243.5" r="6.2"/></g>
<ellipse cx="1159" cy="423.5" rx="9.9" ry="9" fill="#159a1c" stroke="#0a3a0a" stroke-width=".8"/>
<line x1="955.6" y1="296.2" x2="1028.0" y2="296.2" stroke="#ffffff" stroke-width="2.0"/><polygon points="1042.0,296.2 1027.0,300.2 1027.0,292.2" fill="#ffffff"/>
<line x1="1073.6" y1="172.5" x2="1096.7" y2="160.2" stroke="#848c8c" stroke-width="3.0"/><polygon points="1110.0,153.2 1098.4,165.6 1093.3,155.8" fill="#848c8c"/>
<line x1="1073.0" y1="207.5" x2="1096.5" y2="218.7" stroke="#848c8c" stroke-width="3.0"/><polygon points="1110.0,225.1 1093.2,223.2 1097.9,213.3" fill="#848c8c"/>
<line x1="1389.7" y1="100.2" x2="1379.4" y2="113.6" stroke="#1414e6" stroke-width="3.0"/><polygon points="1370.2,125.5 1375.8,109.6 1384.1,116.0" fill="#1414e6"/>
<line x1="1411.9" y1="101.6" x2="1417.8" y2="160.1" stroke="#1414e6" stroke-width="3.0"/><polygon points="1419.4,176.0 1412.5,159.6 1422.9,158.6" fill="#1414e6"/>
<line x1="1317.5" y1="312.5" x2="1381.7" y2="257.0" stroke="#23a4ec" stroke-width="1.8"/><polygon points="1391.5,248.5 1383.7,260.9 1378.1,254.4" fill="#23a4ec"/>
<g stroke="#000" stroke-width="1.8">
<line x1="951.5" x2="951.5" y1="594" y2="599.0"/>
<line x1="999.5" x2="999.5" y1="594" y2="604.0"/>
<line x1="1047.5" x2="1047.5" y1="594" y2="599.0"/>
<line x1="1095.5" x2="1095.5" y1="594" y2="604.0"/>
<line x1="1143.5" x2="1143.5" y1="594" y2="599.0"/>
<line x1="1191.5" x2="1191.5" y1="594" y2="604.0"/>
<line x1="1239.5" x2="1239.5" y1="594" y2="599.0"/>
<line x1="1287.5" x2="1287.5" y1="594" y2="604.0"/>
<line x1="1335.5" x2="1335.5" y1="594" y2="599.0"/>
<line x1="1383.5" x2="1383.5" y1="594" y2="604.0"/>
<line x1="1431.5" x2="1431.5" y1="594" y2="599.0"/>
<line x1="1479.5" x2="1479.5" y1="594" y2="604.0"/>
<line x1="940" x2="950.0" y1="542.3" y2="542.3"/>
<line x1="940" x2="945.0" y1="479.6" y2="479.6"/>
<line x1="940" x2="950.0" y1="416.8" y2="416.8"/>
<line x1="940" x2="945.0" y1="354.1" y2="354.1"/>
<line x1="940" x2="950.0" y1="291.3" y2="291.3"/>
<line x1="940" x2="945.0" y1="228.6" y2="228.6"/>
<line x1="940" x2="950.0" y1="165.8" y2="165.8"/>
<line x1="940" x2="945.0" y1="103.0" y2="103.0"/>
<line x1="1585.5" x2="1597" y1="50.1" y2="50.1"/>
<line x1="1585.5" x2="1597" y1="116.7" y2="116.7"/>
<line x1="1585.5" x2="1597" y1="183.3" y2="183.3"/>
<line x1="1585.5" x2="1597" y1="249.9" y2="249.9"/>
<line x1="1585.5" x2="1597" y1="316.5" y2="316.5"/>
<line x1="1585.5" x2="1597" y1="383.1" y2="383.1"/>
<line x1="1585.5" x2="1597" y1="449.7" y2="449.7"/>
<line x1="1585.5" x2="1597" y1="516.3" y2="516.3"/>
<line x1="1585.5" x2="1597" y1="582.9" y2="582.9"/>
</g>
<rect x="940" y="40" width="574" height="554" fill="none" stroke="#000" stroke-width="1.8"/>
<rect x="1514.5" y="40" width="71" height="554" fill="none" stroke="#000" stroke-width="1.6"/>
<g font-size="37" fill="#000">
<text x="999.5" y="641.6" text-anchor="middle">44.0</text>
<text x="1095.5" y="641.6" text-anchor="middle">44.8</text>
<text x="1191.5" y="641.6" text-anchor="middle">45.6</text>
<text x="1287.5" y="641.6" text-anchor="middle">46.4</text>
<text x="1383.5" y="641.6" text-anchor="middle">47.2</text>
<text x="1479.5" y="641.6" text-anchor="middle">48.0</text>
<text x="929" y="553.9" text-anchor="end">1.0</text>
<text x="929" y="428.4" text-anchor="end">1.5</text>
<text x="929" y="302.9" text-anchor="end">2.0</text>
<text x="929" y="177.4" text-anchor="end">2.5</text>
<text x="929" y="51.9" text-anchor="end">3.0</text>
</g>
<g font-size="28" fill="#000">
<text x="1607" y="59.6">0.80</text>
<text x="1607" y="126.2">0.71</text>
<text x="1607" y="192.8">0.63</text>
<text x="1607" y="259.4">0.54</text>
<text x="1607" y="326.0">0.45</text>
<text x="1607" y="392.6">0.36</text>
<text x="1607" y="459.2">0.28</text>
<text x="1607" y="525.8">0.19</text>
<text x="1607" y="592.4">0.10</text>
</g>
<text x="1516" y="24" font-size="31">p-pol</text>
<text x="1235" y="690.5" font-size="40" text-anchor="middle"><tspan font-style="italic">θ</tspan> (°)</text>
<text transform="translate(866 317.5) rotate(-90)" font-size="41.5" text-anchor="middle"><tspan font-style="italic">E</tspan> (eV)</text>
<text x="976" y="191.8" font-size="31.5" fill="#848c8c">R6G<tspan font-size="18.6" dy="8.5">abs</tspan></text>
<text x="950" y="274" font-size="32.5" fill="#fff">SPP<tspan font-size="19.8" dy="8" dx="2">single</tspan></text>
<text x="1369.5" y="88" font-size="29.5" fill="#1414e6">R6G<tspan font-size="19.5" dy="7.8" dx="1">hybrid</tspan></text>
<text x="1242.5" y="327.5" font-size="28.5" fill="#23a4ec">SPP<tspan font-size="17.5" dy="8" dx="2">Hybrid</tspan></text>
<text x="1178" y="433.2" font-size="30" fill="#159a1c">SPP<tspan font-size="18" dy="8" dx="2">filter OG590</tspan></text>
</svg>
</body></html>
